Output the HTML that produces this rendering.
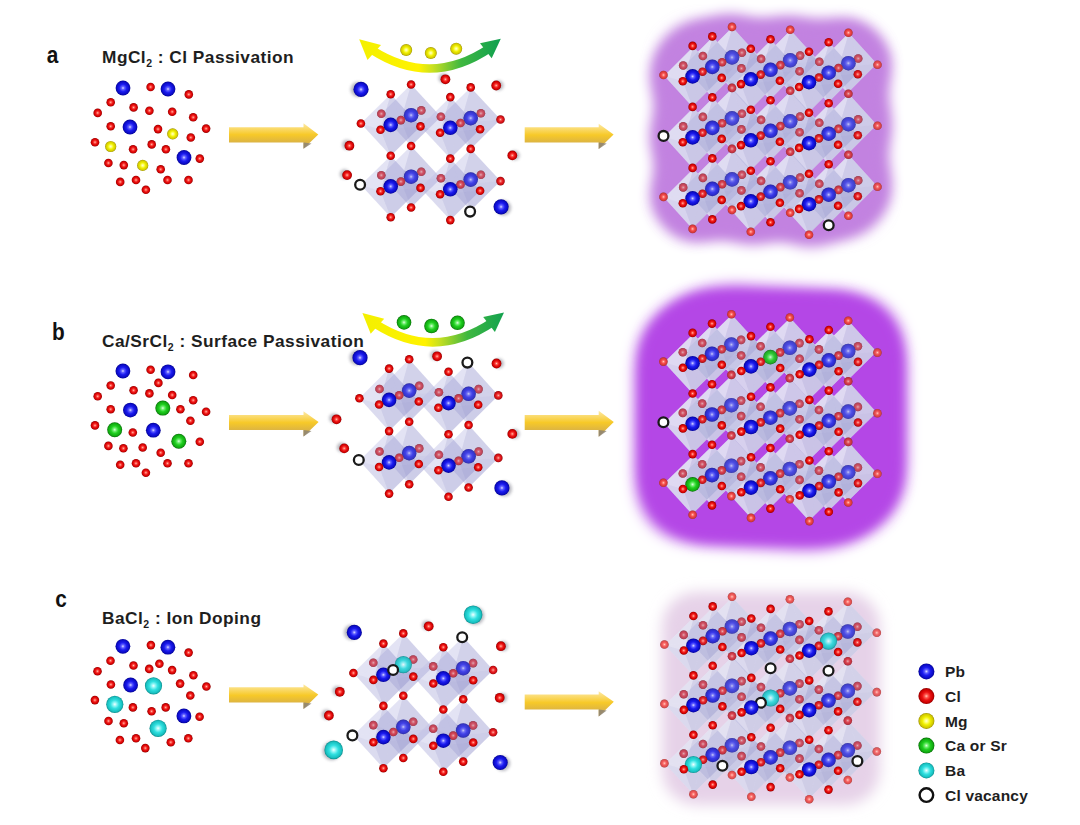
<!DOCTYPE html>
<html><head><meta charset="utf-8"><style>
html,body{margin:0;padding:0;background:#fff;width:1080px;height:825px;overflow:hidden}
svg{display:block}
</style></head><body>
<svg width="1080" height="825" viewBox="0 0 1080 825">
<defs><radialGradient id="gPb" cx="50%" cy="50%" r="50%"><stop offset="0" stop-color="#dcdcff"/><stop offset="0.22" stop-color="#6060ff"/><stop offset="0.5" stop-color="#1c1cf0"/><stop offset="0.85" stop-color="#0a0ac4"/><stop offset="1" stop-color="#040490"/></radialGradient><radialGradient id="gCl" cx="50%" cy="50%" r="50%"><stop offset="0" stop-color="#ffc8b8"/><stop offset="0.22" stop-color="#ff5a50"/><stop offset="0.5" stop-color="#ec1414"/><stop offset="0.82" stop-color="#cc0000"/><stop offset="1" stop-color="#8e0000"/></radialGradient><radialGradient id="gMg" cx="50%" cy="50%" r="50%"><stop offset="0" stop-color="#ffffd8"/><stop offset="0.22" stop-color="#ffff70"/><stop offset="0.5" stop-color="#f0f000"/><stop offset="0.85" stop-color="#d0c800"/><stop offset="1" stop-color="#988c00"/></radialGradient><radialGradient id="gCa" cx="50%" cy="50%" r="50%"><stop offset="0" stop-color="#e0ffe0"/><stop offset="0.22" stop-color="#70ee70"/><stop offset="0.5" stop-color="#20d020"/><stop offset="0.85" stop-color="#10a810"/><stop offset="1" stop-color="#066806"/></radialGradient><radialGradient id="gBa" cx="50%" cy="50%" r="50%"><stop offset="0" stop-color="#f4ffff"/><stop offset="0.22" stop-color="#90f6f6"/><stop offset="0.5" stop-color="#30e0e0"/><stop offset="0.85" stop-color="#18c0c0"/><stop offset="1" stop-color="#0c8c8c"/></radialGradient><linearGradient id="gArr" x1="0" y1="0" x2="0" y2="1"><stop offset="0" stop-color="#fde9a6"/><stop offset="0.45" stop-color="#f7c928"/><stop offset="1" stop-color="#c6a25a"/></linearGradient><linearGradient id="gCA" gradientUnits="userSpaceOnUse" x1="360.0" y1="0" x2="500.0" y2="0"><stop offset="0" stop-color="#f4f000"/><stop offset="0.42" stop-color="#fff200"/><stop offset="0.52" stop-color="#c8e020"/><stop offset="0.72" stop-color="#40b840"/><stop offset="1" stop-color="#10a050"/></linearGradient><linearGradient id="gCB" gradientUnits="userSpaceOnUse" x1="363.2" y1="0" x2="503.2" y2="0"><stop offset="0" stop-color="#f4f000"/><stop offset="0.42" stop-color="#fff200"/><stop offset="0.52" stop-color="#c8e020"/><stop offset="0.72" stop-color="#40b840"/><stop offset="1" stop-color="#10a050"/></linearGradient><filter id="blur2" x="-50%" y="-50%" width="200%" height="200%"><feGaussianBlur stdDeviation="1.5"/></filter><filter id="blobf" x="-20%" y="-20%" width="140%" height="140%"><feGaussianBlur stdDeviation="7"/></filter><filter id="rb10" x="-30%" y="-30%" width="160%" height="160%"><feGaussianBlur stdDeviation="7"/></filter><filter id="bf11" x="-40%" y="-40%" width="180%" height="180%" color-interpolation-filters="sRGB"><feGaussianBlur in="SourceAlpha" stdDeviation="14" result="b1"/><feComponentTransfer in="b1" result="t"><feFuncA type="linear" slope="20.0" intercept="-1.000"/></feComponentTransfer><feGaussianBlur in="t" stdDeviation="7" result="b2"/><feFlood flood-color="#c282e0"/><feComposite in2="b2" operator="in"/></filter><filter id="rb12" x="-30%" y="-30%" width="160%" height="160%"><feGaussianBlur stdDeviation="7"/></filter><filter id="bf13" x="-40%" y="-40%" width="180%" height="180%" color-interpolation-filters="sRGB"><feGaussianBlur in="SourceAlpha" stdDeviation="26" result="b1"/><feComponentTransfer in="b1" result="t"><feFuncA type="linear" slope="28.57142857142857" intercept="-1.000"/></feComponentTransfer><feGaussianBlur in="t" stdDeviation="7" result="b2"/><feFlood flood-color="#b447e6"/><feComposite in2="b2" operator="in"/></filter><filter id="rb14" x="-30%" y="-30%" width="160%" height="160%"><feGaussianBlur stdDeviation="7"/></filter></defs>
<rect width="1080" height="825" fill="#fff"/>
<text transform="translate(46.8,62.6) scale(1.04,1.19)" x="0" y="0" font-family='"Liberation Sans", sans-serif' font-size="20" font-weight="bold" fill="#111">a</text>
<text transform="translate(52.1,339.7) scale(1.04,1.19)" x="0" y="0" font-family='"Liberation Sans", sans-serif' font-size="20" font-weight="bold" fill="#111">b</text>
<text transform="translate(55.3,606.6) scale(1.04,1.19)" x="0" y="0" font-family='"Liberation Sans", sans-serif' font-size="20" font-weight="bold" fill="#111">c</text>
<text x="102.0" y="63.3" font-family='"Liberation Sans", sans-serif' font-size="17.3" font-weight="bold" fill="#1e1e1e" letter-spacing="0.48">MgCl<tspan font-size="10.5" dy="4">2</tspan><tspan dy="-4"> : Cl Passivation</tspan></text>
<text x="102.0" y="347.3" font-family='"Liberation Sans", sans-serif' font-size="17.3" font-weight="bold" fill="#1e1e1e" letter-spacing="0.48">Ca/SrCl<tspan font-size="10.5" dy="4">2</tspan><tspan dy="-4"> : Surface Passivation</tspan></text>
<text x="102.0" y="623.5" font-family='"Liberation Sans", sans-serif' font-size="17.3" font-weight="bold" fill="#1e1e1e" letter-spacing="0.48">BaCl<tspan font-size="10.5" dy="4">2</tspan><tspan dy="-4"> : Ion Doping</tspan></text>
<circle cx="123.0" cy="88.0" r="7.4" fill="url(#gPb)"/>
<circle cx="168.0" cy="89.0" r="7.4" fill="url(#gPb)"/>
<circle cx="130.0" cy="127.0" r="7.4" fill="url(#gPb)"/>
<circle cx="184.0" cy="157.5" r="7.4" fill="url(#gPb)"/>
<circle cx="172.7" cy="133.9" r="5.6" fill="url(#gMg)"/>
<circle cx="110.7" cy="146.5" r="5.6" fill="url(#gMg)"/>
<circle cx="142.7" cy="165.4" r="5.6" fill="url(#gMg)"/>
<circle cx="150.6" cy="87.0" r="4.3" fill="url(#gCl)"/>
<circle cx="188.8" cy="94.4" r="4.3" fill="url(#gCl)"/>
<circle cx="110.7" cy="102.3" r="4.3" fill="url(#gCl)"/>
<circle cx="133.6" cy="107.4" r="4.3" fill="url(#gCl)"/>
<circle cx="149.4" cy="110.7" r="4.3" fill="url(#gCl)"/>
<circle cx="172.2" cy="111.8" r="4.3" fill="url(#gCl)"/>
<circle cx="97.7" cy="112.9" r="4.3" fill="url(#gCl)"/>
<circle cx="193.2" cy="117.3" r="4.3" fill="url(#gCl)"/>
<circle cx="110.7" cy="126.3" r="4.3" fill="url(#gCl)"/>
<circle cx="158.0" cy="129.1" r="4.3" fill="url(#gCl)"/>
<circle cx="206.1" cy="128.6" r="4.3" fill="url(#gCl)"/>
<circle cx="190.8" cy="137.5" r="4.3" fill="url(#gCl)"/>
<circle cx="95.0" cy="142.2" r="4.3" fill="url(#gCl)"/>
<circle cx="151.7" cy="144.4" r="4.3" fill="url(#gCl)"/>
<circle cx="133.1" cy="149.3" r="4.3" fill="url(#gCl)"/>
<circle cx="165.9" cy="149.3" r="4.3" fill="url(#gCl)"/>
<circle cx="199.8" cy="158.6" r="4.3" fill="url(#gCl)"/>
<circle cx="108.4" cy="163.0" r="4.3" fill="url(#gCl)"/>
<circle cx="123.8" cy="165.1" r="4.3" fill="url(#gCl)"/>
<circle cx="160.7" cy="169.3" r="4.3" fill="url(#gCl)"/>
<circle cx="120.2" cy="181.9" r="4.3" fill="url(#gCl)"/>
<circle cx="136.0" cy="180.0" r="4.3" fill="url(#gCl)"/>
<circle cx="167.5" cy="180.0" r="4.3" fill="url(#gCl)"/>
<circle cx="188.5" cy="180.0" r="4.3" fill="url(#gCl)"/>
<circle cx="145.9" cy="189.8" r="4.3" fill="url(#gCl)"/>
<circle cx="122.9" cy="371.0" r="7.4" fill="url(#gPb)"/>
<circle cx="168.0" cy="371.8" r="7.4" fill="url(#gPb)"/>
<circle cx="130.4" cy="410.1" r="7.4" fill="url(#gPb)"/>
<circle cx="153.3" cy="430.2" r="7.4" fill="url(#gPb)"/>
<circle cx="162.8" cy="408.1" r="7.5" fill="url(#gCa)"/>
<circle cx="114.7" cy="429.7" r="7.5" fill="url(#gCa)"/>
<circle cx="178.8" cy="441.2" r="7.5" fill="url(#gCa)"/>
<circle cx="150.6" cy="369.8" r="4.3" fill="url(#gCl)"/>
<circle cx="193.2" cy="375.0" r="4.3" fill="url(#gCl)"/>
<circle cx="110.7" cy="385.5" r="4.3" fill="url(#gCl)"/>
<circle cx="158.4" cy="382.9" r="4.3" fill="url(#gCl)"/>
<circle cx="133.6" cy="390.3" r="4.3" fill="url(#gCl)"/>
<circle cx="149.4" cy="393.4" r="4.3" fill="url(#gCl)"/>
<circle cx="172.2" cy="395.0" r="4.3" fill="url(#gCl)"/>
<circle cx="97.7" cy="396.3" r="4.3" fill="url(#gCl)"/>
<circle cx="193.2" cy="400.2" r="4.3" fill="url(#gCl)"/>
<circle cx="110.7" cy="409.2" r="4.3" fill="url(#gCl)"/>
<circle cx="180.4" cy="409.2" r="4.3" fill="url(#gCl)"/>
<circle cx="206.1" cy="411.7" r="4.3" fill="url(#gCl)"/>
<circle cx="190.4" cy="420.7" r="4.3" fill="url(#gCl)"/>
<circle cx="95.0" cy="425.4" r="4.3" fill="url(#gCl)"/>
<circle cx="132.8" cy="432.5" r="4.3" fill="url(#gCl)"/>
<circle cx="199.8" cy="441.7" r="4.3" fill="url(#gCl)"/>
<circle cx="108.4" cy="445.9" r="4.3" fill="url(#gCl)"/>
<circle cx="123.4" cy="448.3" r="4.3" fill="url(#gCl)"/>
<circle cx="142.7" cy="447.5" r="4.3" fill="url(#gCl)"/>
<circle cx="160.7" cy="452.7" r="4.3" fill="url(#gCl)"/>
<circle cx="120.2" cy="464.8" r="4.3" fill="url(#gCl)"/>
<circle cx="136.0" cy="463.3" r="4.3" fill="url(#gCl)"/>
<circle cx="167.5" cy="463.3" r="4.3" fill="url(#gCl)"/>
<circle cx="188.5" cy="463.3" r="4.3" fill="url(#gCl)"/>
<circle cx="145.9" cy="472.7" r="4.3" fill="url(#gCl)"/>
<circle cx="122.9" cy="646.3" r="7.4" fill="url(#gPb)"/>
<circle cx="167.9" cy="647.2" r="7.4" fill="url(#gPb)"/>
<circle cx="130.6" cy="685.0" r="7.4" fill="url(#gPb)"/>
<circle cx="183.9" cy="715.9" r="7.4" fill="url(#gPb)"/>
<circle cx="153.5" cy="685.8" r="8.6" fill="url(#gBa)"/>
<circle cx="114.8" cy="704.3" r="8.6" fill="url(#gBa)"/>
<circle cx="158.1" cy="728.3" r="8.6" fill="url(#gBa)"/>
<circle cx="150.9" cy="645.1" r="4.3" fill="url(#gCl)"/>
<circle cx="188.6" cy="652.6" r="4.3" fill="url(#gCl)"/>
<circle cx="110.5" cy="660.7" r="4.3" fill="url(#gCl)"/>
<circle cx="133.5" cy="665.5" r="4.3" fill="url(#gCl)"/>
<circle cx="159.4" cy="663.8" r="4.3" fill="url(#gCl)"/>
<circle cx="149.2" cy="668.9" r="4.3" fill="url(#gCl)"/>
<circle cx="172.1" cy="670.1" r="4.3" fill="url(#gCl)"/>
<circle cx="97.5" cy="671.2" r="4.3" fill="url(#gCl)"/>
<circle cx="193.4" cy="675.2" r="4.3" fill="url(#gCl)"/>
<circle cx="110.9" cy="684.5" r="4.3" fill="url(#gCl)"/>
<circle cx="180.1" cy="683.6" r="4.3" fill="url(#gCl)"/>
<circle cx="206.4" cy="686.5" r="4.3" fill="url(#gCl)"/>
<circle cx="190.3" cy="695.5" r="4.3" fill="url(#gCl)"/>
<circle cx="94.9" cy="700.1" r="4.3" fill="url(#gCl)"/>
<circle cx="132.9" cy="707.4" r="4.3" fill="url(#gCl)"/>
<circle cx="151.6" cy="711.3" r="4.3" fill="url(#gCl)"/>
<circle cx="165.7" cy="707.4" r="4.3" fill="url(#gCl)"/>
<circle cx="199.6" cy="716.7" r="4.3" fill="url(#gCl)"/>
<circle cx="108.5" cy="721.0" r="4.3" fill="url(#gCl)"/>
<circle cx="123.8" cy="723.2" r="4.3" fill="url(#gCl)"/>
<circle cx="119.9" cy="740.0" r="4.3" fill="url(#gCl)"/>
<circle cx="136.0" cy="738.3" r="4.3" fill="url(#gCl)"/>
<circle cx="170.8" cy="742.2" r="4.3" fill="url(#gCl)"/>
<circle cx="188.3" cy="738.3" r="4.3" fill="url(#gCl)"/>
<circle cx="145.3" cy="748.1" r="4.3" fill="url(#gCl)"/>
<polygon points="229.0,127.3 303.5,127.3 303.5,123.2 318.3,134.4 303.5,148.7 303.5,142.4 229.0,142.4" fill="url(#gArr)"/><polygon points="303.5,142.4 303.5,148.7 311.5,143.4" fill="#8d8473" opacity="0.85"/>
<polygon points="524.7,127.3 598.7,127.3 598.7,123.7 613.6,134.4 598.7,148.9 598.7,142.4 524.7,142.4" fill="url(#gArr)"/><polygon points="598.7,142.4 598.7,148.9 606.7,143.4" fill="#8d8473" opacity="0.85"/>
<polygon points="229.0,414.9 303.5,414.9 303.5,411.3 318.6,422.0 303.5,436.6 303.5,430.1 229.0,430.1" fill="url(#gArr)"/><polygon points="303.5,430.1 303.5,436.6 311.5,431.1" fill="#8d8473" opacity="0.85"/>
<polygon points="524.7,414.9 598.7,414.9 598.7,410.8 613.8,422.0 598.7,436.8 598.7,430.1 524.7,430.1" fill="url(#gArr)"/><polygon points="598.7,430.1 598.7,436.8 606.7,431.1" fill="#8d8473" opacity="0.85"/>
<polygon points="229.0,687.3 303.5,687.3 303.5,684.3 318.3,694.6 303.5,708.9 303.5,702.4 229.0,702.4" fill="url(#gArr)"/><polygon points="303.5,702.4 303.5,708.9 311.5,703.4" fill="#8d8473" opacity="0.85"/>
<polygon points="524.7,694.4 598.7,694.4 598.7,691.3 613.8,701.7 598.7,716.6 598.7,709.6 524.7,709.6" fill="url(#gArr)"/><polygon points="598.7,709.6 598.7,716.6 606.7,710.6" fill="#8d8473" opacity="0.85"/>
<g transform="translate(0.0,0.0)"><path d="M 372 50 Q 431 88 490 48" fill="none" stroke="url(#gCA)" stroke-width="8.5"/><polygon points="359.2,39.2 381,45 367.5,60" fill="url(#gCA)"/><polygon points="500.8,38.7 480,43.3 491.7,58.3" fill="url(#gCA)"/></g>
<circle cx="406.2" cy="50.0" r="6.0" fill="url(#gMg)"/>
<circle cx="430.8" cy="53.0" r="6.0" fill="url(#gMg)"/>
<circle cx="456.2" cy="48.7" r="6.0" fill="url(#gMg)"/>
<g transform="translate(3.2,273.8)"><path d="M 372 50 Q 431 88 490 48" fill="none" stroke="url(#gCB)" stroke-width="8.5"/><polygon points="359.2,39.2 381,45 367.5,60" fill="url(#gCB)"/><polygon points="500.8,38.7 480,43.3 491.7,58.3" fill="url(#gCB)"/></g>
<circle cx="404.0" cy="322.4" r="7.3" fill="url(#gCa)"/>
<circle cx="431.5" cy="326.0" r="7.3" fill="url(#gCa)"/>
<circle cx="457.5" cy="322.8" r="7.3" fill="url(#gCa)"/>
<rect x="655" y="20" width="233" height="218" rx="48" fill="#c282e0" filter="url(#rb10)"/>
<g opacity="1.0" filter="url(#bf11)"><polygon points="692.6,45.9 721.7,77.9 692.6,106.9 663.5,75.0"/><polygon points="750.8,48.8 779.9,80.8 750.8,109.8 721.7,77.9"/><polygon points="809.0,51.7 838.1,83.7 809.0,112.7 779.9,80.8"/><polygon points="692.6,106.9 721.7,138.9 692.6,167.9 663.5,135.9"/><polygon points="750.8,109.8 779.9,141.8 750.8,170.8 721.7,138.9"/><polygon points="809.0,112.7 838.1,144.7 809.0,173.7 779.9,141.8"/><polygon points="692.6,167.9 721.7,199.9 692.6,228.9 663.5,196.9"/><polygon points="750.8,170.8 779.9,202.8 750.8,231.8 721.7,199.9"/><polygon points="809.0,173.7 838.1,205.7 809.0,234.7 779.9,202.8"/><polygon points="712.3,36.4 741.4,68.4 712.3,97.4 683.2,65.5"/><polygon points="770.5,39.3 799.6,71.2 770.5,100.3 741.4,68.4"/><polygon points="828.7,42.2 857.8,74.2 828.7,103.2 799.6,71.2"/><polygon points="712.3,97.4 741.4,129.4 712.3,158.4 683.2,126.4"/><polygon points="770.5,100.3 799.6,132.2 770.5,161.3 741.4,129.4"/><polygon points="828.7,103.2 857.8,135.2 828.7,164.2 799.6,132.2"/><polygon points="712.3,158.4 741.4,190.4 712.3,219.4 683.2,187.4"/><polygon points="770.5,161.3 799.6,193.2 770.5,222.3 741.4,190.4"/><polygon points="828.7,164.2 857.8,196.2 828.7,225.2 799.6,193.2"/><polygon points="732.0,26.9 761.1,58.9 732.0,87.9 702.9,56.0"/><polygon points="790.2,29.8 819.3,61.8 790.2,90.8 761.1,58.9"/><polygon points="848.4,32.7 877.5,64.7 848.4,93.7 819.3,61.8"/><polygon points="732.0,87.9 761.1,119.9 732.0,148.9 702.9,116.9"/><polygon points="790.2,90.8 819.3,122.8 790.2,151.8 761.1,119.9"/><polygon points="848.4,93.7 877.5,125.7 848.4,154.7 819.3,122.8"/><polygon points="732.0,148.9 761.1,180.9 732.0,209.9 702.9,177.9"/><polygon points="790.2,151.8 819.3,183.8 790.2,212.8 761.1,180.9"/><polygon points="848.4,154.7 877.5,186.7 848.4,215.7 819.3,183.8"/></g>
<rect x="642" y="294" width="260" height="246" rx="70" fill="#b447e6" filter="url(#rb12)"/>
<g opacity="1.0" filter="url(#bf13)"><polygon points="692.6,332.9 721.8,364.8 692.6,393.5 663.4,361.6"/><polygon points="751.0,336.1 780.2,368.0 751.0,396.7 721.8,364.8"/><polygon points="809.4,339.3 838.6,371.2 809.4,399.9 780.2,368.0"/><polygon points="692.6,393.5 721.8,425.4 692.6,454.1 663.4,422.2"/><polygon points="751.0,396.7 780.2,428.6 751.0,457.3 721.8,425.4"/><polygon points="809.4,399.9 838.6,431.8 809.4,460.5 780.2,428.6"/><polygon points="692.6,454.1 721.8,486.0 692.6,514.7 663.4,482.8"/><polygon points="751.0,457.3 780.2,489.2 751.0,517.9 721.8,486.0"/><polygon points="809.4,460.5 838.6,492.4 809.4,521.1 780.2,489.2"/><polygon points="712.0,323.6 741.2,355.5 712.0,384.2 682.8,352.3"/><polygon points="770.4,326.8 799.6,358.7 770.4,387.4 741.2,355.5"/><polygon points="828.8,330.0 858.0,361.9 828.8,390.6 799.6,358.7"/><polygon points="712.0,384.2 741.2,416.1 712.0,444.8 682.8,412.9"/><polygon points="770.4,387.4 799.6,419.3 770.4,448.0 741.2,416.1"/><polygon points="828.8,390.6 858.0,422.5 828.8,451.2 799.6,419.3"/><polygon points="712.0,444.8 741.2,476.7 712.0,505.4 682.8,473.5"/><polygon points="770.4,448.0 799.6,479.9 770.4,508.6 741.2,476.7"/><polygon points="828.8,451.2 858.0,483.1 828.8,511.8 799.6,479.9"/><polygon points="731.4,314.3 760.6,346.2 731.4,374.9 702.2,343.0"/><polygon points="789.8,317.5 819.0,349.4 789.8,378.1 760.6,346.2"/><polygon points="848.2,320.7 877.4,352.6 848.2,381.3 819.0,349.4"/><polygon points="731.4,374.9 760.6,406.8 731.4,435.5 702.2,403.6"/><polygon points="789.8,378.1 819.0,410.0 789.8,438.7 760.6,406.8"/><polygon points="848.2,381.3 877.4,413.2 848.2,441.9 819.0,410.0"/><polygon points="731.4,435.5 760.6,467.4 731.4,496.1 702.2,464.2"/><polygon points="789.8,438.7 819.0,470.6 789.8,499.3 760.6,467.4"/><polygon points="848.2,441.9 877.4,473.8 848.2,502.5 819.0,470.6"/></g>
<rect x="662" y="592" width="218" height="213" rx="35" fill="#e6d2e8" filter="url(#rb14)"/>
<g fill="#fff" fill-opacity="0.9"><polygon points="693.4,46.7 721.3,77.4 692.2,106.5 664.3,75.8"/><polygon points="751.6,49.6 779.5,80.3 750.4,109.4 722.5,78.7"/><polygon points="809.8,52.5 837.7,83.2 808.6,112.3 780.7,81.6"/><polygon points="693.4,107.7 721.3,138.4 692.2,167.5 664.3,136.8"/><polygon points="751.6,110.6 779.5,141.3 750.4,170.4 722.5,139.7"/><polygon points="809.8,113.5 837.7,144.2 808.6,173.3 780.7,142.6"/><polygon points="693.4,168.7 721.3,199.4 692.2,228.5 664.3,197.8"/><polygon points="751.6,171.6 779.5,202.3 750.4,231.4 722.5,200.7"/><polygon points="809.8,174.5 837.7,205.2 808.6,234.3 780.7,203.6"/><polygon points="712.9,37.0 740.8,67.7 711.7,96.8 683.8,66.1"/><polygon points="771.1,39.9 799.0,70.6 769.9,99.7 742.0,69.0"/><polygon points="829.3,42.8 857.2,73.5 828.1,102.6 800.2,71.9"/><polygon points="712.9,98.0 740.8,128.7 711.7,157.8 683.8,127.1"/><polygon points="771.1,100.9 799.0,131.6 769.9,160.7 742.0,130.0"/><polygon points="829.3,103.8 857.2,134.5 828.1,163.6 800.2,132.9"/><polygon points="712.9,159.0 740.8,189.7 711.7,218.8 683.8,188.1"/><polygon points="771.1,161.9 799.0,192.6 769.9,221.7 742.0,191.0"/><polygon points="829.3,164.8 857.2,195.5 828.1,224.6 800.2,193.9"/><polygon points="732.4,27.3 760.3,58.0 731.2,87.1 703.3,56.4"/><polygon points="790.6,30.2 818.5,60.9 789.4,90.0 761.5,59.3"/><polygon points="848.8,33.1 876.7,63.8 847.6,92.9 819.7,62.2"/><polygon points="732.4,88.3 760.3,119.0 731.2,148.1 703.3,117.4"/><polygon points="790.6,91.2 818.5,121.9 789.4,151.0 761.5,120.3"/><polygon points="848.8,94.1 876.7,124.8 847.6,153.9 819.7,123.2"/><polygon points="732.4,149.3 760.3,180.0 731.2,209.1 703.3,178.4"/><polygon points="790.6,152.2 818.5,182.9 789.4,212.0 761.5,181.3"/><polygon points="848.8,155.1 876.7,185.8 847.6,214.9 819.7,184.2"/></g><g><polygon fill="#9c9cd2" fill-opacity="0.252" points="703.3,56.4 732.4,27.3 741.6,52.3"/><polygon fill="#9c9cd2" fill-opacity="0.252" points="703.3,56.4 731.2,87.1 741.6,52.3"/><polygon fill="#9c9cd2" fill-opacity="0.252" points="760.3,58.0 732.4,27.3 741.6,52.3"/><polygon fill="#9c9cd2" fill-opacity="0.252" points="760.3,58.0 731.2,87.1 741.6,52.3"/><polygon fill="#dcdcf2" fill-opacity="0.252" points="703.3,56.4 732.4,27.3 722.1,62.0"/><polygon fill="#b8b8e0" fill-opacity="0.224" points="703.3,56.4 731.2,87.1 722.1,62.0"/><polygon fill="#9494cc" fill-opacity="0.238" points="760.3,58.0 732.4,27.3 722.1,62.0"/><polygon fill="#8c8cc8" fill-opacity="0.266" points="760.3,58.0 731.2,87.1 722.1,62.0"/><polygon fill="#9c9cd2" fill-opacity="0.252" points="761.5,59.3 790.6,30.2 799.8,55.2"/><polygon fill="#9c9cd2" fill-opacity="0.252" points="761.5,59.3 789.4,90.0 799.8,55.2"/><polygon fill="#9c9cd2" fill-opacity="0.252" points="818.5,60.9 790.6,30.2 799.8,55.2"/><polygon fill="#9c9cd2" fill-opacity="0.252" points="818.5,60.9 789.4,90.0 799.8,55.2"/><polygon fill="#dcdcf2" fill-opacity="0.252" points="761.5,59.3 790.6,30.2 780.3,64.9"/><polygon fill="#b8b8e0" fill-opacity="0.224" points="761.5,59.3 789.4,90.0 780.3,64.9"/><polygon fill="#9494cc" fill-opacity="0.238" points="818.5,60.9 790.6,30.2 780.3,64.9"/><polygon fill="#8c8cc8" fill-opacity="0.266" points="818.5,60.9 789.4,90.0 780.3,64.9"/><polygon fill="#9c9cd2" fill-opacity="0.252" points="819.7,62.2 848.8,33.1 858.0,58.1"/><polygon fill="#9c9cd2" fill-opacity="0.252" points="819.7,62.2 847.6,92.9 858.0,58.1"/><polygon fill="#9c9cd2" fill-opacity="0.252" points="876.7,63.8 848.8,33.1 858.0,58.1"/><polygon fill="#9c9cd2" fill-opacity="0.252" points="876.7,63.8 847.6,92.9 858.0,58.1"/><polygon fill="#dcdcf2" fill-opacity="0.252" points="819.7,62.2 848.8,33.1 838.5,67.8"/><polygon fill="#b8b8e0" fill-opacity="0.224" points="819.7,62.2 847.6,92.9 838.5,67.8"/><polygon fill="#9494cc" fill-opacity="0.238" points="876.7,63.8 848.8,33.1 838.5,67.8"/><polygon fill="#8c8cc8" fill-opacity="0.266" points="876.7,63.8 847.6,92.9 838.5,67.8"/><polygon fill="#9c9cd2" fill-opacity="0.252" points="703.3,117.4 732.4,88.3 741.6,113.3"/><polygon fill="#9c9cd2" fill-opacity="0.252" points="703.3,117.4 731.2,148.1 741.6,113.3"/><polygon fill="#9c9cd2" fill-opacity="0.252" points="760.3,119.0 732.4,88.3 741.6,113.3"/><polygon fill="#9c9cd2" fill-opacity="0.252" points="760.3,119.0 731.2,148.1 741.6,113.3"/><polygon fill="#dcdcf2" fill-opacity="0.252" points="703.3,117.4 732.4,88.3 722.1,123.0"/><polygon fill="#b8b8e0" fill-opacity="0.224" points="703.3,117.4 731.2,148.1 722.1,123.0"/><polygon fill="#9494cc" fill-opacity="0.238" points="760.3,119.0 732.4,88.3 722.1,123.0"/><polygon fill="#8c8cc8" fill-opacity="0.266" points="760.3,119.0 731.2,148.1 722.1,123.0"/><polygon fill="#9c9cd2" fill-opacity="0.252" points="761.5,120.3 790.6,91.2 799.8,116.2"/><polygon fill="#9c9cd2" fill-opacity="0.252" points="761.5,120.3 789.4,151.0 799.8,116.2"/><polygon fill="#9c9cd2" fill-opacity="0.252" points="818.5,121.9 790.6,91.2 799.8,116.2"/><polygon fill="#9c9cd2" fill-opacity="0.252" points="818.5,121.9 789.4,151.0 799.8,116.2"/><polygon fill="#dcdcf2" fill-opacity="0.252" points="761.5,120.3 790.6,91.2 780.3,125.9"/><polygon fill="#b8b8e0" fill-opacity="0.224" points="761.5,120.3 789.4,151.0 780.3,125.9"/><polygon fill="#9494cc" fill-opacity="0.238" points="818.5,121.9 790.6,91.2 780.3,125.9"/><polygon fill="#8c8cc8" fill-opacity="0.266" points="818.5,121.9 789.4,151.0 780.3,125.9"/><polygon fill="#9c9cd2" fill-opacity="0.252" points="819.7,123.2 848.8,94.1 858.0,119.1"/><polygon fill="#9c9cd2" fill-opacity="0.252" points="819.7,123.2 847.6,153.9 858.0,119.1"/><polygon fill="#9c9cd2" fill-opacity="0.252" points="876.7,124.8 848.8,94.1 858.0,119.1"/><polygon fill="#9c9cd2" fill-opacity="0.252" points="876.7,124.8 847.6,153.9 858.0,119.1"/><polygon fill="#dcdcf2" fill-opacity="0.252" points="819.7,123.2 848.8,94.1 838.5,128.8"/><polygon fill="#b8b8e0" fill-opacity="0.224" points="819.7,123.2 847.6,153.9 838.5,128.8"/><polygon fill="#9494cc" fill-opacity="0.238" points="876.7,124.8 848.8,94.1 838.5,128.8"/><polygon fill="#8c8cc8" fill-opacity="0.266" points="876.7,124.8 847.6,153.9 838.5,128.8"/><polygon fill="#9c9cd2" fill-opacity="0.252" points="703.3,178.4 732.4,149.3 741.6,174.3"/><polygon fill="#9c9cd2" fill-opacity="0.252" points="703.3,178.4 731.2,209.1 741.6,174.3"/><polygon fill="#9c9cd2" fill-opacity="0.252" points="760.3,180.0 732.4,149.3 741.6,174.3"/><polygon fill="#9c9cd2" fill-opacity="0.252" points="760.3,180.0 731.2,209.1 741.6,174.3"/><polygon fill="#dcdcf2" fill-opacity="0.252" points="703.3,178.4 732.4,149.3 722.1,184.0"/><polygon fill="#b8b8e0" fill-opacity="0.224" points="703.3,178.4 731.2,209.1 722.1,184.0"/><polygon fill="#9494cc" fill-opacity="0.238" points="760.3,180.0 732.4,149.3 722.1,184.0"/><polygon fill="#8c8cc8" fill-opacity="0.266" points="760.3,180.0 731.2,209.1 722.1,184.0"/><polygon fill="#9c9cd2" fill-opacity="0.252" points="761.5,181.3 790.6,152.2 799.8,177.2"/><polygon fill="#9c9cd2" fill-opacity="0.252" points="761.5,181.3 789.4,212.0 799.8,177.2"/><polygon fill="#9c9cd2" fill-opacity="0.252" points="818.5,182.9 790.6,152.2 799.8,177.2"/><polygon fill="#9c9cd2" fill-opacity="0.252" points="818.5,182.9 789.4,212.0 799.8,177.2"/><polygon fill="#dcdcf2" fill-opacity="0.252" points="761.5,181.3 790.6,152.2 780.3,186.9"/><polygon fill="#b8b8e0" fill-opacity="0.224" points="761.5,181.3 789.4,212.0 780.3,186.9"/><polygon fill="#9494cc" fill-opacity="0.238" points="818.5,182.9 790.6,152.2 780.3,186.9"/><polygon fill="#8c8cc8" fill-opacity="0.266" points="818.5,182.9 789.4,212.0 780.3,186.9"/><polygon fill="#9c9cd2" fill-opacity="0.252" points="819.7,184.2 848.8,155.1 858.0,180.1"/><polygon fill="#9c9cd2" fill-opacity="0.252" points="819.7,184.2 847.6,214.9 858.0,180.1"/><polygon fill="#9c9cd2" fill-opacity="0.252" points="876.7,185.8 848.8,155.1 858.0,180.1"/><polygon fill="#9c9cd2" fill-opacity="0.252" points="876.7,185.8 847.6,214.9 858.0,180.1"/><polygon fill="#dcdcf2" fill-opacity="0.252" points="819.7,184.2 848.8,155.1 838.5,189.8"/><polygon fill="#b8b8e0" fill-opacity="0.224" points="819.7,184.2 847.6,214.9 838.5,189.8"/><polygon fill="#9494cc" fill-opacity="0.238" points="876.7,185.8 848.8,155.1 838.5,189.8"/><polygon fill="#8c8cc8" fill-opacity="0.266" points="876.7,185.8 847.6,214.9 838.5,189.8"/><polygon fill="#9c9cd2" fill-opacity="0.252" points="683.8,66.1 712.9,37.0 722.1,62.0"/><polygon fill="#9c9cd2" fill-opacity="0.252" points="683.8,66.1 711.7,96.8 722.1,62.0"/><polygon fill="#9c9cd2" fill-opacity="0.252" points="740.8,67.7 712.9,37.0 722.1,62.0"/><polygon fill="#9c9cd2" fill-opacity="0.252" points="740.8,67.7 711.7,96.8 722.1,62.0"/><polygon fill="#dcdcf2" fill-opacity="0.252" points="683.8,66.1 712.9,37.0 702.5,71.8"/><polygon fill="#b8b8e0" fill-opacity="0.224" points="683.8,66.1 711.7,96.8 702.5,71.8"/><polygon fill="#9494cc" fill-opacity="0.238" points="740.8,67.7 712.9,37.0 702.5,71.8"/><polygon fill="#8c8cc8" fill-opacity="0.266" points="740.8,67.7 711.7,96.8 702.5,71.8"/><polygon fill="#9c9cd2" fill-opacity="0.252" points="742.0,69.0 771.1,39.9 780.3,64.9"/><polygon fill="#9c9cd2" fill-opacity="0.252" points="742.0,69.0 769.9,99.7 780.3,64.9"/><polygon fill="#9c9cd2" fill-opacity="0.252" points="799.0,70.6 771.1,39.9 780.3,64.9"/><polygon fill="#9c9cd2" fill-opacity="0.252" points="799.0,70.6 769.9,99.7 780.3,64.9"/><polygon fill="#dcdcf2" fill-opacity="0.252" points="742.0,69.0 771.1,39.9 760.7,74.7"/><polygon fill="#b8b8e0" fill-opacity="0.224" points="742.0,69.0 769.9,99.7 760.7,74.7"/><polygon fill="#9494cc" fill-opacity="0.238" points="799.0,70.6 771.1,39.9 760.7,74.7"/><polygon fill="#8c8cc8" fill-opacity="0.266" points="799.0,70.6 769.9,99.7 760.7,74.7"/><polygon fill="#9c9cd2" fill-opacity="0.252" points="800.2,71.9 829.3,42.8 838.5,67.8"/><polygon fill="#9c9cd2" fill-opacity="0.252" points="800.2,71.9 828.1,102.6 838.5,67.8"/><polygon fill="#9c9cd2" fill-opacity="0.252" points="857.2,73.5 829.3,42.8 838.5,67.8"/><polygon fill="#9c9cd2" fill-opacity="0.252" points="857.2,73.5 828.1,102.6 838.5,67.8"/><polygon fill="#dcdcf2" fill-opacity="0.252" points="800.2,71.9 829.3,42.8 818.9,77.6"/><polygon fill="#b8b8e0" fill-opacity="0.224" points="800.2,71.9 828.1,102.6 818.9,77.6"/><polygon fill="#9494cc" fill-opacity="0.238" points="857.2,73.5 829.3,42.8 818.9,77.6"/><polygon fill="#8c8cc8" fill-opacity="0.266" points="857.2,73.5 828.1,102.6 818.9,77.6"/><polygon fill="#9c9cd2" fill-opacity="0.252" points="683.8,127.1 712.9,98.0 722.1,123.0"/><polygon fill="#9c9cd2" fill-opacity="0.252" points="683.8,127.1 711.7,157.8 722.1,123.0"/><polygon fill="#9c9cd2" fill-opacity="0.252" points="740.8,128.7 712.9,98.0 722.1,123.0"/><polygon fill="#9c9cd2" fill-opacity="0.252" points="740.8,128.7 711.7,157.8 722.1,123.0"/><polygon fill="#dcdcf2" fill-opacity="0.252" points="683.8,127.1 712.9,98.0 702.5,132.8"/><polygon fill="#b8b8e0" fill-opacity="0.224" points="683.8,127.1 711.7,157.8 702.5,132.8"/><polygon fill="#9494cc" fill-opacity="0.238" points="740.8,128.7 712.9,98.0 702.5,132.8"/><polygon fill="#8c8cc8" fill-opacity="0.266" points="740.8,128.7 711.7,157.8 702.5,132.8"/><polygon fill="#9c9cd2" fill-opacity="0.252" points="742.0,130.0 771.1,100.9 780.3,125.9"/><polygon fill="#9c9cd2" fill-opacity="0.252" points="742.0,130.0 769.9,160.7 780.3,125.9"/><polygon fill="#9c9cd2" fill-opacity="0.252" points="799.0,131.6 771.1,100.9 780.3,125.9"/><polygon fill="#9c9cd2" fill-opacity="0.252" points="799.0,131.6 769.9,160.7 780.3,125.9"/><polygon fill="#dcdcf2" fill-opacity="0.252" points="742.0,130.0 771.1,100.9 760.7,135.7"/><polygon fill="#b8b8e0" fill-opacity="0.224" points="742.0,130.0 769.9,160.7 760.7,135.7"/><polygon fill="#9494cc" fill-opacity="0.238" points="799.0,131.6 771.1,100.9 760.7,135.7"/><polygon fill="#8c8cc8" fill-opacity="0.266" points="799.0,131.6 769.9,160.7 760.7,135.7"/><polygon fill="#9c9cd2" fill-opacity="0.252" points="800.2,132.9 829.3,103.8 838.5,128.8"/><polygon fill="#9c9cd2" fill-opacity="0.252" points="800.2,132.9 828.1,163.6 838.5,128.8"/><polygon fill="#9c9cd2" fill-opacity="0.252" points="857.2,134.5 829.3,103.8 838.5,128.8"/><polygon fill="#9c9cd2" fill-opacity="0.252" points="857.2,134.5 828.1,163.6 838.5,128.8"/><polygon fill="#dcdcf2" fill-opacity="0.252" points="800.2,132.9 829.3,103.8 818.9,138.6"/><polygon fill="#b8b8e0" fill-opacity="0.224" points="800.2,132.9 828.1,163.6 818.9,138.6"/><polygon fill="#9494cc" fill-opacity="0.238" points="857.2,134.5 829.3,103.8 818.9,138.6"/><polygon fill="#8c8cc8" fill-opacity="0.266" points="857.2,134.5 828.1,163.6 818.9,138.6"/><polygon fill="#9c9cd2" fill-opacity="0.252" points="683.8,188.1 712.9,159.0 722.1,184.0"/><polygon fill="#9c9cd2" fill-opacity="0.252" points="683.8,188.1 711.7,218.8 722.1,184.0"/><polygon fill="#9c9cd2" fill-opacity="0.252" points="740.8,189.7 712.9,159.0 722.1,184.0"/><polygon fill="#9c9cd2" fill-opacity="0.252" points="740.8,189.7 711.7,218.8 722.1,184.0"/><polygon fill="#dcdcf2" fill-opacity="0.252" points="683.8,188.1 712.9,159.0 702.5,193.8"/><polygon fill="#b8b8e0" fill-opacity="0.224" points="683.8,188.1 711.7,218.8 702.5,193.8"/><polygon fill="#9494cc" fill-opacity="0.238" points="740.8,189.7 712.9,159.0 702.5,193.8"/><polygon fill="#8c8cc8" fill-opacity="0.266" points="740.8,189.7 711.7,218.8 702.5,193.8"/><polygon fill="#9c9cd2" fill-opacity="0.252" points="742.0,191.0 771.1,161.9 780.3,186.9"/><polygon fill="#9c9cd2" fill-opacity="0.252" points="742.0,191.0 769.9,221.7 780.3,186.9"/><polygon fill="#9c9cd2" fill-opacity="0.252" points="799.0,192.6 771.1,161.9 780.3,186.9"/><polygon fill="#9c9cd2" fill-opacity="0.252" points="799.0,192.6 769.9,221.7 780.3,186.9"/><polygon fill="#dcdcf2" fill-opacity="0.252" points="742.0,191.0 771.1,161.9 760.7,196.7"/><polygon fill="#b8b8e0" fill-opacity="0.224" points="742.0,191.0 769.9,221.7 760.7,196.7"/><polygon fill="#9494cc" fill-opacity="0.238" points="799.0,192.6 771.1,161.9 760.7,196.7"/><polygon fill="#8c8cc8" fill-opacity="0.266" points="799.0,192.6 769.9,221.7 760.7,196.7"/><polygon fill="#9c9cd2" fill-opacity="0.252" points="800.2,193.9 829.3,164.8 838.5,189.8"/><polygon fill="#9c9cd2" fill-opacity="0.252" points="800.2,193.9 828.1,224.6 838.5,189.8"/><polygon fill="#9c9cd2" fill-opacity="0.252" points="857.2,195.5 829.3,164.8 838.5,189.8"/><polygon fill="#9c9cd2" fill-opacity="0.252" points="857.2,195.5 828.1,224.6 838.5,189.8"/><polygon fill="#dcdcf2" fill-opacity="0.252" points="800.2,193.9 829.3,164.8 818.9,199.6"/><polygon fill="#b8b8e0" fill-opacity="0.224" points="800.2,193.9 828.1,224.6 818.9,199.6"/><polygon fill="#9494cc" fill-opacity="0.238" points="857.2,195.5 829.3,164.8 818.9,199.6"/><polygon fill="#8c8cc8" fill-opacity="0.266" points="857.2,195.5 828.1,224.6 818.9,199.6"/><polygon fill="#9c9cd2" fill-opacity="0.252" points="664.3,75.8 693.4,46.7 702.5,71.8"/><polygon fill="#9c9cd2" fill-opacity="0.252" points="664.3,75.8 692.2,106.5 702.5,71.8"/><polygon fill="#9c9cd2" fill-opacity="0.252" points="721.3,77.4 693.4,46.7 702.5,71.8"/><polygon fill="#9c9cd2" fill-opacity="0.252" points="721.3,77.4 692.2,106.5 702.5,71.8"/><polygon fill="#dcdcf2" fill-opacity="0.252" points="664.3,75.8 693.4,46.7 683.0,81.5"/><polygon fill="#b8b8e0" fill-opacity="0.224" points="664.3,75.8 692.2,106.5 683.0,81.5"/><polygon fill="#9494cc" fill-opacity="0.238" points="721.3,77.4 693.4,46.7 683.0,81.5"/><polygon fill="#8c8cc8" fill-opacity="0.266" points="721.3,77.4 692.2,106.5 683.0,81.5"/><polygon fill="#9c9cd2" fill-opacity="0.252" points="722.5,78.7 751.6,49.6 760.7,74.7"/><polygon fill="#9c9cd2" fill-opacity="0.252" points="722.5,78.7 750.4,109.4 760.7,74.7"/><polygon fill="#9c9cd2" fill-opacity="0.252" points="779.5,80.3 751.6,49.6 760.7,74.7"/><polygon fill="#9c9cd2" fill-opacity="0.252" points="779.5,80.3 750.4,109.4 760.7,74.7"/><polygon fill="#dcdcf2" fill-opacity="0.252" points="722.5,78.7 751.6,49.6 741.2,84.4"/><polygon fill="#b8b8e0" fill-opacity="0.224" points="722.5,78.7 750.4,109.4 741.2,84.4"/><polygon fill="#9494cc" fill-opacity="0.238" points="779.5,80.3 751.6,49.6 741.2,84.4"/><polygon fill="#8c8cc8" fill-opacity="0.266" points="779.5,80.3 750.4,109.4 741.2,84.4"/><polygon fill="#9c9cd2" fill-opacity="0.252" points="780.7,81.6 809.8,52.5 818.9,77.6"/><polygon fill="#9c9cd2" fill-opacity="0.252" points="780.7,81.6 808.6,112.3 818.9,77.6"/><polygon fill="#9c9cd2" fill-opacity="0.252" points="837.7,83.2 809.8,52.5 818.9,77.6"/><polygon fill="#9c9cd2" fill-opacity="0.252" points="837.7,83.2 808.6,112.3 818.9,77.6"/><polygon fill="#dcdcf2" fill-opacity="0.252" points="780.7,81.6 809.8,52.5 799.4,87.3"/><polygon fill="#b8b8e0" fill-opacity="0.224" points="780.7,81.6 808.6,112.3 799.4,87.3"/><polygon fill="#9494cc" fill-opacity="0.238" points="837.7,83.2 809.8,52.5 799.4,87.3"/><polygon fill="#8c8cc8" fill-opacity="0.266" points="837.7,83.2 808.6,112.3 799.4,87.3"/><polygon fill="#9c9cd2" fill-opacity="0.252" points="664.3,136.8 693.4,107.7 702.5,132.8"/><polygon fill="#9c9cd2" fill-opacity="0.252" points="664.3,136.8 692.2,167.5 702.5,132.8"/><polygon fill="#9c9cd2" fill-opacity="0.252" points="721.3,138.4 693.4,107.7 702.5,132.8"/><polygon fill="#9c9cd2" fill-opacity="0.252" points="721.3,138.4 692.2,167.5 702.5,132.8"/><polygon fill="#dcdcf2" fill-opacity="0.252" points="664.3,136.8 693.4,107.7 683.0,142.5"/><polygon fill="#b8b8e0" fill-opacity="0.224" points="664.3,136.8 692.2,167.5 683.0,142.5"/><polygon fill="#9494cc" fill-opacity="0.238" points="721.3,138.4 693.4,107.7 683.0,142.5"/><polygon fill="#8c8cc8" fill-opacity="0.266" points="721.3,138.4 692.2,167.5 683.0,142.5"/><polygon fill="#9c9cd2" fill-opacity="0.252" points="722.5,139.7 751.6,110.6 760.7,135.7"/><polygon fill="#9c9cd2" fill-opacity="0.252" points="722.5,139.7 750.4,170.4 760.7,135.7"/><polygon fill="#9c9cd2" fill-opacity="0.252" points="779.5,141.3 751.6,110.6 760.7,135.7"/><polygon fill="#9c9cd2" fill-opacity="0.252" points="779.5,141.3 750.4,170.4 760.7,135.7"/><polygon fill="#dcdcf2" fill-opacity="0.252" points="722.5,139.7 751.6,110.6 741.2,145.4"/><polygon fill="#b8b8e0" fill-opacity="0.224" points="722.5,139.7 750.4,170.4 741.2,145.4"/><polygon fill="#9494cc" fill-opacity="0.238" points="779.5,141.3 751.6,110.6 741.2,145.4"/><polygon fill="#8c8cc8" fill-opacity="0.266" points="779.5,141.3 750.4,170.4 741.2,145.4"/><polygon fill="#9c9cd2" fill-opacity="0.252" points="780.7,142.6 809.8,113.5 818.9,138.6"/><polygon fill="#9c9cd2" fill-opacity="0.252" points="780.7,142.6 808.6,173.3 818.9,138.6"/><polygon fill="#9c9cd2" fill-opacity="0.252" points="837.7,144.2 809.8,113.5 818.9,138.6"/><polygon fill="#9c9cd2" fill-opacity="0.252" points="837.7,144.2 808.6,173.3 818.9,138.6"/><polygon fill="#dcdcf2" fill-opacity="0.252" points="780.7,142.6 809.8,113.5 799.4,148.3"/><polygon fill="#b8b8e0" fill-opacity="0.224" points="780.7,142.6 808.6,173.3 799.4,148.3"/><polygon fill="#9494cc" fill-opacity="0.238" points="837.7,144.2 809.8,113.5 799.4,148.3"/><polygon fill="#8c8cc8" fill-opacity="0.266" points="837.7,144.2 808.6,173.3 799.4,148.3"/><polygon fill="#9c9cd2" fill-opacity="0.252" points="664.3,197.8 693.4,168.7 702.5,193.8"/><polygon fill="#9c9cd2" fill-opacity="0.252" points="664.3,197.8 692.2,228.5 702.5,193.8"/><polygon fill="#9c9cd2" fill-opacity="0.252" points="721.3,199.4 693.4,168.7 702.5,193.8"/><polygon fill="#9c9cd2" fill-opacity="0.252" points="721.3,199.4 692.2,228.5 702.5,193.8"/><polygon fill="#dcdcf2" fill-opacity="0.252" points="664.3,197.8 693.4,168.7 683.0,203.5"/><polygon fill="#b8b8e0" fill-opacity="0.224" points="664.3,197.8 692.2,228.5 683.0,203.5"/><polygon fill="#9494cc" fill-opacity="0.238" points="721.3,199.4 693.4,168.7 683.0,203.5"/><polygon fill="#8c8cc8" fill-opacity="0.266" points="721.3,199.4 692.2,228.5 683.0,203.5"/><polygon fill="#9c9cd2" fill-opacity="0.252" points="722.5,200.7 751.6,171.6 760.7,196.7"/><polygon fill="#9c9cd2" fill-opacity="0.252" points="722.5,200.7 750.4,231.4 760.7,196.7"/><polygon fill="#9c9cd2" fill-opacity="0.252" points="779.5,202.3 751.6,171.6 760.7,196.7"/><polygon fill="#9c9cd2" fill-opacity="0.252" points="779.5,202.3 750.4,231.4 760.7,196.7"/><polygon fill="#dcdcf2" fill-opacity="0.252" points="722.5,200.7 751.6,171.6 741.2,206.4"/><polygon fill="#b8b8e0" fill-opacity="0.224" points="722.5,200.7 750.4,231.4 741.2,206.4"/><polygon fill="#9494cc" fill-opacity="0.238" points="779.5,202.3 751.6,171.6 741.2,206.4"/><polygon fill="#8c8cc8" fill-opacity="0.266" points="779.5,202.3 750.4,231.4 741.2,206.4"/><polygon fill="#9c9cd2" fill-opacity="0.252" points="780.7,203.6 809.8,174.5 818.9,199.6"/><polygon fill="#9c9cd2" fill-opacity="0.252" points="780.7,203.6 808.6,234.3 818.9,199.6"/><polygon fill="#9c9cd2" fill-opacity="0.252" points="837.7,205.2 809.8,174.5 818.9,199.6"/><polygon fill="#9c9cd2" fill-opacity="0.252" points="837.7,205.2 808.6,234.3 818.9,199.6"/><polygon fill="#dcdcf2" fill-opacity="0.252" points="780.7,203.6 809.8,174.5 799.4,209.3"/><polygon fill="#b8b8e0" fill-opacity="0.224" points="780.7,203.6 808.6,234.3 799.4,209.3"/><polygon fill="#9494cc" fill-opacity="0.238" points="837.7,205.2 809.8,174.5 799.4,209.3"/><polygon fill="#8c8cc8" fill-opacity="0.266" points="837.7,205.2 808.6,234.3 799.4,209.3"/></g><circle cx="741.9" cy="52.7" r="4.3" fill="url(#gCl)"/><circle cx="741.9" cy="52.7" r="4.3" fill="#a4a4d4" opacity="0.42"/><circle cx="800.1" cy="55.6" r="4.3" fill="url(#gCl)"/><circle cx="800.1" cy="55.6" r="4.3" fill="#a4a4d4" opacity="0.42"/><circle cx="858.2" cy="58.5" r="4.3" fill="url(#gCl)"/><circle cx="858.2" cy="58.5" r="4.3" fill="#a4a4d4" opacity="0.42"/><circle cx="741.9" cy="113.7" r="4.3" fill="url(#gCl)"/><circle cx="741.9" cy="113.7" r="4.3" fill="#a4a4d4" opacity="0.42"/><circle cx="800.1" cy="116.6" r="4.3" fill="url(#gCl)"/><circle cx="800.1" cy="116.6" r="4.3" fill="#a4a4d4" opacity="0.42"/><circle cx="858.2" cy="119.4" r="4.3" fill="url(#gCl)"/><circle cx="858.2" cy="119.4" r="4.3" fill="#a4a4d4" opacity="0.42"/><circle cx="741.9" cy="174.7" r="4.3" fill="url(#gCl)"/><circle cx="741.9" cy="174.7" r="4.3" fill="#a4a4d4" opacity="0.42"/><circle cx="800.1" cy="177.6" r="4.3" fill="url(#gCl)"/><circle cx="800.1" cy="177.6" r="4.3" fill="#a4a4d4" opacity="0.42"/><circle cx="858.2" cy="180.4" r="4.3" fill="url(#gCl)"/><circle cx="858.2" cy="180.4" r="4.3" fill="#a4a4d4" opacity="0.42"/><circle cx="732.0" cy="57.4" r="7.3" fill="url(#gPb)"/><circle cx="732.0" cy="57.4" r="7.3" fill="#a4a4d4" opacity="0.36"/><circle cx="761.1" cy="58.9" r="4.3" fill="url(#gCl)"/><circle cx="761.1" cy="58.9" r="4.3" fill="#a4a4d4" opacity="0.40"/><circle cx="702.9" cy="56.0" r="4.3" fill="url(#gCl)"/><circle cx="702.9" cy="56.0" r="4.3" fill="#a4a4d4" opacity="0.40"/><circle cx="732.0" cy="87.9" r="4.3" fill="url(#gCl)"/><circle cx="732.0" cy="87.9" r="4.3" fill="#a4a4d4" opacity="0.30"/><circle cx="732.0" cy="26.9" r="4.3" fill="url(#gCl)"/><circle cx="732.0" cy="26.9" r="4.3" fill="#fff" opacity="0.22"/><circle cx="790.2" cy="60.3" r="7.3" fill="url(#gPb)"/><circle cx="790.2" cy="60.3" r="7.3" fill="#a4a4d4" opacity="0.36"/><circle cx="819.3" cy="61.8" r="4.3" fill="url(#gCl)"/><circle cx="819.3" cy="61.8" r="4.3" fill="#a4a4d4" opacity="0.40"/><circle cx="790.2" cy="90.8" r="4.3" fill="url(#gCl)"/><circle cx="790.2" cy="90.8" r="4.3" fill="#a4a4d4" opacity="0.30"/><circle cx="790.2" cy="29.8" r="4.3" fill="url(#gCl)"/><circle cx="790.2" cy="29.8" r="4.3" fill="#fff" opacity="0.22"/><circle cx="848.4" cy="63.2" r="7.3" fill="url(#gPb)"/><circle cx="848.4" cy="63.2" r="7.3" fill="#a4a4d4" opacity="0.36"/><circle cx="877.5" cy="64.7" r="4.3" fill="url(#gCl)"/><circle cx="877.5" cy="64.7" r="4.3" fill="#a4a4d4" opacity="0.08"/><circle cx="877.5" cy="64.7" r="4.3" fill="#fff" opacity="0.22"/><circle cx="848.4" cy="93.7" r="4.3" fill="url(#gCl)"/><circle cx="848.4" cy="93.7" r="4.3" fill="#a4a4d4" opacity="0.30"/><circle cx="848.4" cy="32.7" r="4.3" fill="url(#gCl)"/><circle cx="848.4" cy="32.7" r="4.3" fill="#fff" opacity="0.22"/><circle cx="732.0" cy="118.4" r="7.3" fill="url(#gPb)"/><circle cx="732.0" cy="118.4" r="7.3" fill="#a4a4d4" opacity="0.36"/><circle cx="761.1" cy="119.9" r="4.3" fill="url(#gCl)"/><circle cx="761.1" cy="119.9" r="4.3" fill="#a4a4d4" opacity="0.40"/><circle cx="702.9" cy="116.9" r="4.3" fill="url(#gCl)"/><circle cx="702.9" cy="116.9" r="4.3" fill="#a4a4d4" opacity="0.40"/><circle cx="732.0" cy="148.9" r="4.3" fill="url(#gCl)"/><circle cx="732.0" cy="148.9" r="4.3" fill="#a4a4d4" opacity="0.30"/><circle cx="790.2" cy="121.3" r="7.3" fill="url(#gPb)"/><circle cx="790.2" cy="121.3" r="7.3" fill="#a4a4d4" opacity="0.36"/><circle cx="819.3" cy="122.8" r="4.3" fill="url(#gCl)"/><circle cx="819.3" cy="122.8" r="4.3" fill="#a4a4d4" opacity="0.40"/><circle cx="790.2" cy="151.8" r="4.3" fill="url(#gCl)"/><circle cx="790.2" cy="151.8" r="4.3" fill="#a4a4d4" opacity="0.30"/><circle cx="848.4" cy="124.2" r="7.3" fill="url(#gPb)"/><circle cx="848.4" cy="124.2" r="7.3" fill="#a4a4d4" opacity="0.36"/><circle cx="877.5" cy="125.7" r="4.3" fill="url(#gCl)"/><circle cx="877.5" cy="125.7" r="4.3" fill="#a4a4d4" opacity="0.08"/><circle cx="877.5" cy="125.7" r="4.3" fill="#fff" opacity="0.22"/><circle cx="848.4" cy="154.7" r="4.3" fill="url(#gCl)"/><circle cx="848.4" cy="154.7" r="4.3" fill="#a4a4d4" opacity="0.30"/><circle cx="732.0" cy="179.4" r="7.3" fill="url(#gPb)"/><circle cx="732.0" cy="179.4" r="7.3" fill="#a4a4d4" opacity="0.36"/><circle cx="761.1" cy="180.9" r="4.3" fill="url(#gCl)"/><circle cx="761.1" cy="180.9" r="4.3" fill="#a4a4d4" opacity="0.40"/><circle cx="702.9" cy="177.9" r="4.3" fill="url(#gCl)"/><circle cx="702.9" cy="177.9" r="4.3" fill="#a4a4d4" opacity="0.40"/><circle cx="732.0" cy="209.9" r="4.3" fill="url(#gCl)"/><circle cx="732.0" cy="209.9" r="4.3" fill="#fff" opacity="0.22"/><circle cx="790.2" cy="182.3" r="7.3" fill="url(#gPb)"/><circle cx="790.2" cy="182.3" r="7.3" fill="#a4a4d4" opacity="0.36"/><circle cx="819.3" cy="183.8" r="4.3" fill="url(#gCl)"/><circle cx="819.3" cy="183.8" r="4.3" fill="#a4a4d4" opacity="0.40"/><circle cx="790.2" cy="212.8" r="4.3" fill="url(#gCl)"/><circle cx="790.2" cy="212.8" r="4.3" fill="#fff" opacity="0.22"/><circle cx="848.4" cy="185.2" r="7.3" fill="url(#gPb)"/><circle cx="848.4" cy="185.2" r="7.3" fill="#a4a4d4" opacity="0.36"/><circle cx="877.5" cy="186.7" r="4.3" fill="url(#gCl)"/><circle cx="877.5" cy="186.7" r="4.3" fill="#a4a4d4" opacity="0.08"/><circle cx="877.5" cy="186.7" r="4.3" fill="#fff" opacity="0.22"/><circle cx="848.4" cy="215.7" r="4.3" fill="url(#gCl)"/><circle cx="848.4" cy="215.7" r="4.3" fill="#fff" opacity="0.22"/><circle cx="722.1" cy="62.2" r="4.3" fill="url(#gCl)"/><circle cx="722.1" cy="62.2" r="4.3" fill="#a4a4d4" opacity="0.30"/><circle cx="780.4" cy="65.1" r="4.3" fill="url(#gCl)"/><circle cx="780.4" cy="65.1" r="4.3" fill="#a4a4d4" opacity="0.30"/><circle cx="838.5" cy="68.0" r="4.3" fill="url(#gCl)"/><circle cx="838.5" cy="68.0" r="4.3" fill="#a4a4d4" opacity="0.30"/><circle cx="722.1" cy="123.2" r="4.3" fill="url(#gCl)"/><circle cx="722.1" cy="123.2" r="4.3" fill="#a4a4d4" opacity="0.30"/><circle cx="780.4" cy="126.1" r="4.3" fill="url(#gCl)"/><circle cx="780.4" cy="126.1" r="4.3" fill="#a4a4d4" opacity="0.30"/><circle cx="838.5" cy="128.9" r="4.3" fill="url(#gCl)"/><circle cx="838.5" cy="128.9" r="4.3" fill="#a4a4d4" opacity="0.30"/><circle cx="722.1" cy="184.2" r="4.3" fill="url(#gCl)"/><circle cx="722.1" cy="184.2" r="4.3" fill="#a4a4d4" opacity="0.30"/><circle cx="780.4" cy="187.1" r="4.3" fill="url(#gCl)"/><circle cx="780.4" cy="187.1" r="4.3" fill="#a4a4d4" opacity="0.30"/><circle cx="838.5" cy="189.9" r="4.3" fill="url(#gCl)"/><circle cx="838.5" cy="189.9" r="4.3" fill="#a4a4d4" opacity="0.30"/><circle cx="712.3" cy="66.9" r="7.3" fill="url(#gPb)"/><circle cx="712.3" cy="66.9" r="7.3" fill="#a4a4d4" opacity="0.22"/><circle cx="741.4" cy="68.4" r="4.3" fill="url(#gCl)"/><circle cx="741.4" cy="68.4" r="4.3" fill="#a4a4d4" opacity="0.40"/><circle cx="683.2" cy="65.5" r="4.3" fill="url(#gCl)"/><circle cx="683.2" cy="65.5" r="4.3" fill="#a4a4d4" opacity="0.40"/><circle cx="712.3" cy="97.4" r="4.3" fill="url(#gCl)"/><circle cx="712.3" cy="36.4" r="4.3" fill="url(#gCl)"/><circle cx="770.5" cy="69.8" r="7.3" fill="url(#gPb)"/><circle cx="770.5" cy="69.8" r="7.3" fill="#a4a4d4" opacity="0.22"/><circle cx="799.6" cy="71.2" r="4.3" fill="url(#gCl)"/><circle cx="799.6" cy="71.2" r="4.3" fill="#a4a4d4" opacity="0.40"/><circle cx="770.5" cy="100.3" r="4.3" fill="url(#gCl)"/><circle cx="770.5" cy="39.3" r="4.3" fill="url(#gCl)"/><circle cx="828.7" cy="72.7" r="7.3" fill="url(#gPb)"/><circle cx="828.7" cy="72.7" r="7.3" fill="#a4a4d4" opacity="0.22"/><circle cx="857.8" cy="74.2" r="4.3" fill="url(#gCl)"/><circle cx="857.8" cy="74.2" r="4.3" fill="#a4a4d4" opacity="0.08"/><circle cx="828.7" cy="103.2" r="4.3" fill="url(#gCl)"/><circle cx="828.7" cy="42.2" r="4.3" fill="url(#gCl)"/><circle cx="712.3" cy="127.9" r="7.3" fill="url(#gPb)"/><circle cx="712.3" cy="127.9" r="7.3" fill="#a4a4d4" opacity="0.22"/><circle cx="741.4" cy="129.4" r="4.3" fill="url(#gCl)"/><circle cx="741.4" cy="129.4" r="4.3" fill="#a4a4d4" opacity="0.40"/><circle cx="683.2" cy="126.4" r="4.3" fill="url(#gCl)"/><circle cx="683.2" cy="126.4" r="4.3" fill="#a4a4d4" opacity="0.40"/><circle cx="712.3" cy="158.4" r="4.3" fill="url(#gCl)"/><circle cx="770.5" cy="130.8" r="7.3" fill="url(#gPb)"/><circle cx="770.5" cy="130.8" r="7.3" fill="#a4a4d4" opacity="0.22"/><circle cx="799.6" cy="132.2" r="4.3" fill="url(#gCl)"/><circle cx="799.6" cy="132.2" r="4.3" fill="#a4a4d4" opacity="0.40"/><circle cx="770.5" cy="161.3" r="4.3" fill="url(#gCl)"/><circle cx="828.7" cy="133.7" r="7.3" fill="url(#gPb)"/><circle cx="828.7" cy="133.7" r="7.3" fill="#a4a4d4" opacity="0.22"/><circle cx="857.8" cy="135.2" r="4.3" fill="url(#gCl)"/><circle cx="857.8" cy="135.2" r="4.3" fill="#a4a4d4" opacity="0.08"/><circle cx="828.7" cy="164.2" r="4.3" fill="url(#gCl)"/><circle cx="712.3" cy="188.9" r="7.3" fill="url(#gPb)"/><circle cx="712.3" cy="188.9" r="7.3" fill="#a4a4d4" opacity="0.22"/><circle cx="741.4" cy="190.4" r="4.3" fill="url(#gCl)"/><circle cx="741.4" cy="190.4" r="4.3" fill="#a4a4d4" opacity="0.40"/><circle cx="683.2" cy="187.4" r="4.3" fill="url(#gCl)"/><circle cx="683.2" cy="187.4" r="4.3" fill="#a4a4d4" opacity="0.40"/><circle cx="712.3" cy="219.4" r="4.3" fill="url(#gCl)"/><circle cx="770.5" cy="191.8" r="7.3" fill="url(#gPb)"/><circle cx="770.5" cy="191.8" r="7.3" fill="#a4a4d4" opacity="0.22"/><circle cx="799.6" cy="193.2" r="4.3" fill="url(#gCl)"/><circle cx="799.6" cy="193.2" r="4.3" fill="#a4a4d4" opacity="0.40"/><circle cx="770.5" cy="222.3" r="4.3" fill="url(#gCl)"/><circle cx="828.7" cy="194.7" r="7.3" fill="url(#gPb)"/><circle cx="828.7" cy="194.7" r="7.3" fill="#a4a4d4" opacity="0.22"/><circle cx="857.8" cy="196.2" r="4.3" fill="url(#gCl)"/><circle cx="857.8" cy="196.2" r="4.3" fill="#a4a4d4" opacity="0.08"/><circle cx="828.7" cy="225.2" r="4.9" fill="#fff" stroke="#1a1a1a" stroke-width="2.3"/><circle cx="702.5" cy="71.7" r="4.3" fill="url(#gCl)"/><circle cx="702.5" cy="71.7" r="4.3" fill="#a4a4d4" opacity="0.12"/><circle cx="760.7" cy="74.6" r="4.3" fill="url(#gCl)"/><circle cx="760.7" cy="74.6" r="4.3" fill="#a4a4d4" opacity="0.12"/><circle cx="818.9" cy="77.5" r="4.3" fill="url(#gCl)"/><circle cx="818.9" cy="77.5" r="4.3" fill="#a4a4d4" opacity="0.12"/><circle cx="702.5" cy="132.7" r="4.3" fill="url(#gCl)"/><circle cx="702.5" cy="132.7" r="4.3" fill="#a4a4d4" opacity="0.12"/><circle cx="760.7" cy="135.6" r="4.3" fill="url(#gCl)"/><circle cx="760.7" cy="135.6" r="4.3" fill="#a4a4d4" opacity="0.12"/><circle cx="818.9" cy="138.4" r="4.3" fill="url(#gCl)"/><circle cx="818.9" cy="138.4" r="4.3" fill="#a4a4d4" opacity="0.12"/><circle cx="702.5" cy="193.7" r="4.3" fill="url(#gCl)"/><circle cx="702.5" cy="193.7" r="4.3" fill="#a4a4d4" opacity="0.12"/><circle cx="760.7" cy="196.6" r="4.3" fill="url(#gCl)"/><circle cx="760.7" cy="196.6" r="4.3" fill="#a4a4d4" opacity="0.12"/><circle cx="818.9" cy="199.4" r="4.3" fill="url(#gCl)"/><circle cx="818.9" cy="199.4" r="4.3" fill="#a4a4d4" opacity="0.12"/><circle cx="692.6" cy="76.4" r="7.3" fill="url(#gPb)"/><circle cx="721.7" cy="77.9" r="4.3" fill="url(#gCl)"/><circle cx="663.5" cy="75.0" r="4.3" fill="url(#gCl)"/><circle cx="663.5" cy="75.0" r="4.3" fill="#fff" opacity="0.22"/><circle cx="692.6" cy="106.9" r="4.3" fill="url(#gCl)"/><circle cx="692.6" cy="45.9" r="4.3" fill="url(#gCl)"/><circle cx="750.8" cy="79.3" r="7.3" fill="url(#gPb)"/><circle cx="779.9" cy="80.8" r="4.3" fill="url(#gCl)"/><circle cx="750.8" cy="109.8" r="4.3" fill="url(#gCl)"/><circle cx="750.8" cy="48.8" r="4.3" fill="url(#gCl)"/><circle cx="809.0" cy="82.2" r="7.3" fill="url(#gPb)"/><circle cx="838.1" cy="83.7" r="4.3" fill="url(#gCl)"/><circle cx="809.0" cy="112.7" r="4.3" fill="url(#gCl)"/><circle cx="809.0" cy="51.7" r="4.3" fill="url(#gCl)"/><circle cx="692.6" cy="137.4" r="7.3" fill="url(#gPb)"/><circle cx="721.7" cy="138.9" r="4.3" fill="url(#gCl)"/><circle cx="663.5" cy="135.9" r="4.9" fill="#fff" stroke="#1a1a1a" stroke-width="2.3"/><circle cx="692.6" cy="167.9" r="4.3" fill="url(#gCl)"/><circle cx="750.8" cy="140.3" r="7.3" fill="url(#gPb)"/><circle cx="779.9" cy="141.8" r="4.3" fill="url(#gCl)"/><circle cx="750.8" cy="170.8" r="4.3" fill="url(#gCl)"/><circle cx="809.0" cy="143.2" r="7.3" fill="url(#gPb)"/><circle cx="838.1" cy="144.7" r="4.3" fill="url(#gCl)"/><circle cx="809.0" cy="173.7" r="4.3" fill="url(#gCl)"/><circle cx="692.6" cy="198.4" r="7.3" fill="url(#gPb)"/><circle cx="721.7" cy="199.9" r="4.3" fill="url(#gCl)"/><circle cx="663.5" cy="196.9" r="4.3" fill="url(#gCl)"/><circle cx="663.5" cy="196.9" r="4.3" fill="#fff" opacity="0.22"/><circle cx="692.6" cy="228.9" r="4.3" fill="url(#gCl)"/><circle cx="692.6" cy="228.9" r="4.3" fill="#fff" opacity="0.22"/><circle cx="750.8" cy="201.3" r="7.3" fill="url(#gPb)"/><circle cx="779.9" cy="202.8" r="4.3" fill="url(#gCl)"/><circle cx="750.8" cy="231.8" r="4.3" fill="url(#gCl)"/><circle cx="750.8" cy="231.8" r="4.3" fill="#fff" opacity="0.22"/><circle cx="809.0" cy="204.2" r="7.3" fill="url(#gPb)"/><circle cx="838.1" cy="205.7" r="4.3" fill="url(#gCl)"/><circle cx="809.0" cy="234.7" r="4.3" fill="url(#gCl)"/><circle cx="809.0" cy="234.7" r="4.3" fill="#fff" opacity="0.22"/><circle cx="682.8" cy="81.2" r="4.3" fill="url(#gCl)"/><circle cx="741.0" cy="84.1" r="4.3" fill="url(#gCl)"/><circle cx="799.1" cy="87.0" r="4.3" fill="url(#gCl)"/><circle cx="682.8" cy="142.2" r="4.3" fill="url(#gCl)"/><circle cx="741.0" cy="145.1" r="4.3" fill="url(#gCl)"/><circle cx="799.1" cy="147.9" r="4.3" fill="url(#gCl)"/><circle cx="682.8" cy="203.2" r="4.3" fill="url(#gCl)"/><circle cx="741.0" cy="206.1" r="4.3" fill="url(#gCl)"/><circle cx="799.1" cy="208.9" r="4.3" fill="url(#gCl)"/>
<g fill="#fff" fill-opacity="0.9"><polygon points="693.4,333.7 721.4,364.4 692.2,393.1 664.2,362.4"/><polygon points="751.8,336.9 779.8,367.6 750.6,396.3 722.6,365.6"/><polygon points="810.2,340.1 838.2,370.8 809.0,399.5 781.0,368.8"/><polygon points="693.4,394.3 721.4,425.0 692.2,453.7 664.2,423.0"/><polygon points="751.8,397.5 779.8,428.2 750.6,456.9 722.6,426.2"/><polygon points="810.2,400.7 838.2,431.4 809.0,460.1 781.0,429.4"/><polygon points="693.4,454.9 721.4,485.6 692.2,514.3 664.2,483.6"/><polygon points="751.8,458.1 779.8,488.8 750.6,517.5 722.6,486.8"/><polygon points="810.2,461.3 838.2,492.0 809.0,520.7 781.0,490.0"/><polygon points="712.6,324.2 740.6,354.9 711.4,383.6 683.4,352.9"/><polygon points="771.0,327.4 799.0,358.1 769.8,386.8 741.8,356.1"/><polygon points="829.4,330.6 857.4,361.3 828.2,390.0 800.2,359.3"/><polygon points="712.6,384.8 740.6,415.5 711.4,444.2 683.4,413.5"/><polygon points="771.0,388.0 799.0,418.7 769.8,447.4 741.8,416.7"/><polygon points="829.4,391.2 857.4,421.9 828.2,450.6 800.2,419.9"/><polygon points="712.6,445.4 740.6,476.1 711.4,504.8 683.4,474.1"/><polygon points="771.0,448.6 799.0,479.3 769.8,508.0 741.8,477.3"/><polygon points="829.4,451.8 857.4,482.5 828.2,511.2 800.2,480.5"/><polygon points="731.8,314.7 759.8,345.4 730.6,374.1 702.6,343.4"/><polygon points="790.2,317.9 818.2,348.6 789.0,377.3 761.0,346.6"/><polygon points="848.6,321.1 876.6,351.8 847.4,380.5 819.4,349.8"/><polygon points="731.8,375.3 759.8,406.0 730.6,434.7 702.6,404.0"/><polygon points="790.2,378.5 818.2,409.2 789.0,437.9 761.0,407.2"/><polygon points="848.6,381.7 876.6,412.4 847.4,441.1 819.4,410.4"/><polygon points="731.8,435.9 759.8,466.6 730.6,495.3 702.6,464.6"/><polygon points="790.2,439.1 818.2,469.8 789.0,498.5 761.0,467.8"/><polygon points="848.6,442.3 876.6,473.0 847.4,501.7 819.4,471.0"/></g><g><polygon fill="#9c9cd2" fill-opacity="0.252" points="702.6,343.4 731.8,314.7 740.8,339.7"/><polygon fill="#9c9cd2" fill-opacity="0.252" points="702.6,343.4 730.6,374.1 740.8,339.7"/><polygon fill="#9c9cd2" fill-opacity="0.252" points="759.8,345.4 731.8,314.7 740.8,339.7"/><polygon fill="#9c9cd2" fill-opacity="0.252" points="759.8,345.4 730.6,374.1 740.8,339.7"/><polygon fill="#dcdcf2" fill-opacity="0.252" points="702.6,343.4 731.8,314.7 721.6,349.2"/><polygon fill="#b8b8e0" fill-opacity="0.224" points="702.6,343.4 730.6,374.1 721.6,349.2"/><polygon fill="#9494cc" fill-opacity="0.238" points="759.8,345.4 731.8,314.7 721.6,349.2"/><polygon fill="#8c8cc8" fill-opacity="0.266" points="759.8,345.4 730.6,374.1 721.6,349.2"/><polygon fill="#9c9cd2" fill-opacity="0.252" points="761.0,346.6 790.2,317.9 799.2,342.9"/><polygon fill="#9c9cd2" fill-opacity="0.252" points="761.0,346.6 789.0,377.3 799.2,342.9"/><polygon fill="#9c9cd2" fill-opacity="0.252" points="818.2,348.6 790.2,317.9 799.2,342.9"/><polygon fill="#9c9cd2" fill-opacity="0.252" points="818.2,348.6 789.0,377.3 799.2,342.9"/><polygon fill="#dcdcf2" fill-opacity="0.252" points="761.0,346.6 790.2,317.9 780.0,352.4"/><polygon fill="#b8b8e0" fill-opacity="0.224" points="761.0,346.6 789.0,377.3 780.0,352.4"/><polygon fill="#9494cc" fill-opacity="0.238" points="818.2,348.6 790.2,317.9 780.0,352.4"/><polygon fill="#8c8cc8" fill-opacity="0.266" points="818.2,348.6 789.0,377.3 780.0,352.4"/><polygon fill="#9c9cd2" fill-opacity="0.252" points="819.4,349.8 848.6,321.1 857.6,346.1"/><polygon fill="#9c9cd2" fill-opacity="0.252" points="819.4,349.8 847.4,380.5 857.6,346.1"/><polygon fill="#9c9cd2" fill-opacity="0.252" points="876.6,351.8 848.6,321.1 857.6,346.1"/><polygon fill="#9c9cd2" fill-opacity="0.252" points="876.6,351.8 847.4,380.5 857.6,346.1"/><polygon fill="#dcdcf2" fill-opacity="0.252" points="819.4,349.8 848.6,321.1 838.4,355.6"/><polygon fill="#b8b8e0" fill-opacity="0.224" points="819.4,349.8 847.4,380.5 838.4,355.6"/><polygon fill="#9494cc" fill-opacity="0.238" points="876.6,351.8 848.6,321.1 838.4,355.6"/><polygon fill="#8c8cc8" fill-opacity="0.266" points="876.6,351.8 847.4,380.5 838.4,355.6"/><polygon fill="#9c9cd2" fill-opacity="0.252" points="702.6,404.0 731.8,375.3 740.8,400.3"/><polygon fill="#9c9cd2" fill-opacity="0.252" points="702.6,404.0 730.6,434.7 740.8,400.3"/><polygon fill="#9c9cd2" fill-opacity="0.252" points="759.8,406.0 731.8,375.3 740.8,400.3"/><polygon fill="#9c9cd2" fill-opacity="0.252" points="759.8,406.0 730.6,434.7 740.8,400.3"/><polygon fill="#dcdcf2" fill-opacity="0.252" points="702.6,404.0 731.8,375.3 721.6,409.8"/><polygon fill="#b8b8e0" fill-opacity="0.224" points="702.6,404.0 730.6,434.7 721.6,409.8"/><polygon fill="#9494cc" fill-opacity="0.238" points="759.8,406.0 731.8,375.3 721.6,409.8"/><polygon fill="#8c8cc8" fill-opacity="0.266" points="759.8,406.0 730.6,434.7 721.6,409.8"/><polygon fill="#9c9cd2" fill-opacity="0.252" points="761.0,407.2 790.2,378.5 799.2,403.5"/><polygon fill="#9c9cd2" fill-opacity="0.252" points="761.0,407.2 789.0,437.9 799.2,403.5"/><polygon fill="#9c9cd2" fill-opacity="0.252" points="818.2,409.2 790.2,378.5 799.2,403.5"/><polygon fill="#9c9cd2" fill-opacity="0.252" points="818.2,409.2 789.0,437.9 799.2,403.5"/><polygon fill="#dcdcf2" fill-opacity="0.252" points="761.0,407.2 790.2,378.5 780.0,413.0"/><polygon fill="#b8b8e0" fill-opacity="0.224" points="761.0,407.2 789.0,437.9 780.0,413.0"/><polygon fill="#9494cc" fill-opacity="0.238" points="818.2,409.2 790.2,378.5 780.0,413.0"/><polygon fill="#8c8cc8" fill-opacity="0.266" points="818.2,409.2 789.0,437.9 780.0,413.0"/><polygon fill="#9c9cd2" fill-opacity="0.252" points="819.4,410.4 848.6,381.7 857.6,406.7"/><polygon fill="#9c9cd2" fill-opacity="0.252" points="819.4,410.4 847.4,441.1 857.6,406.7"/><polygon fill="#9c9cd2" fill-opacity="0.252" points="876.6,412.4 848.6,381.7 857.6,406.7"/><polygon fill="#9c9cd2" fill-opacity="0.252" points="876.6,412.4 847.4,441.1 857.6,406.7"/><polygon fill="#dcdcf2" fill-opacity="0.252" points="819.4,410.4 848.6,381.7 838.4,416.2"/><polygon fill="#b8b8e0" fill-opacity="0.224" points="819.4,410.4 847.4,441.1 838.4,416.2"/><polygon fill="#9494cc" fill-opacity="0.238" points="876.6,412.4 848.6,381.7 838.4,416.2"/><polygon fill="#8c8cc8" fill-opacity="0.266" points="876.6,412.4 847.4,441.1 838.4,416.2"/><polygon fill="#9c9cd2" fill-opacity="0.252" points="702.6,464.6 731.8,435.9 740.8,460.9"/><polygon fill="#9c9cd2" fill-opacity="0.252" points="702.6,464.6 730.6,495.3 740.8,460.9"/><polygon fill="#9c9cd2" fill-opacity="0.252" points="759.8,466.6 731.8,435.9 740.8,460.9"/><polygon fill="#9c9cd2" fill-opacity="0.252" points="759.8,466.6 730.6,495.3 740.8,460.9"/><polygon fill="#dcdcf2" fill-opacity="0.252" points="702.6,464.6 731.8,435.9 721.6,470.4"/><polygon fill="#b8b8e0" fill-opacity="0.224" points="702.6,464.6 730.6,495.3 721.6,470.4"/><polygon fill="#9494cc" fill-opacity="0.238" points="759.8,466.6 731.8,435.9 721.6,470.4"/><polygon fill="#8c8cc8" fill-opacity="0.266" points="759.8,466.6 730.6,495.3 721.6,470.4"/><polygon fill="#9c9cd2" fill-opacity="0.252" points="761.0,467.8 790.2,439.1 799.2,464.1"/><polygon fill="#9c9cd2" fill-opacity="0.252" points="761.0,467.8 789.0,498.5 799.2,464.1"/><polygon fill="#9c9cd2" fill-opacity="0.252" points="818.2,469.8 790.2,439.1 799.2,464.1"/><polygon fill="#9c9cd2" fill-opacity="0.252" points="818.2,469.8 789.0,498.5 799.2,464.1"/><polygon fill="#dcdcf2" fill-opacity="0.252" points="761.0,467.8 790.2,439.1 780.0,473.6"/><polygon fill="#b8b8e0" fill-opacity="0.224" points="761.0,467.8 789.0,498.5 780.0,473.6"/><polygon fill="#9494cc" fill-opacity="0.238" points="818.2,469.8 790.2,439.1 780.0,473.6"/><polygon fill="#8c8cc8" fill-opacity="0.266" points="818.2,469.8 789.0,498.5 780.0,473.6"/><polygon fill="#9c9cd2" fill-opacity="0.252" points="819.4,471.0 848.6,442.3 857.6,467.3"/><polygon fill="#9c9cd2" fill-opacity="0.252" points="819.4,471.0 847.4,501.7 857.6,467.3"/><polygon fill="#9c9cd2" fill-opacity="0.252" points="876.6,473.0 848.6,442.3 857.6,467.3"/><polygon fill="#9c9cd2" fill-opacity="0.252" points="876.6,473.0 847.4,501.7 857.6,467.3"/><polygon fill="#dcdcf2" fill-opacity="0.252" points="819.4,471.0 848.6,442.3 838.4,476.8"/><polygon fill="#b8b8e0" fill-opacity="0.224" points="819.4,471.0 847.4,501.7 838.4,476.8"/><polygon fill="#9494cc" fill-opacity="0.238" points="876.6,473.0 848.6,442.3 838.4,476.8"/><polygon fill="#8c8cc8" fill-opacity="0.266" points="876.6,473.0 847.4,501.7 838.4,476.8"/><polygon fill="#9c9cd2" fill-opacity="0.252" points="683.4,352.9 712.6,324.2 721.6,349.2"/><polygon fill="#9c9cd2" fill-opacity="0.252" points="683.4,352.9 711.4,383.6 721.6,349.2"/><polygon fill="#9c9cd2" fill-opacity="0.252" points="740.6,354.9 712.6,324.2 721.6,349.2"/><polygon fill="#9c9cd2" fill-opacity="0.252" points="740.6,354.9 711.4,383.6 721.6,349.2"/><polygon fill="#dcdcf2" fill-opacity="0.252" points="683.4,352.9 712.6,324.2 702.4,358.6"/><polygon fill="#b8b8e0" fill-opacity="0.224" points="683.4,352.9 711.4,383.6 702.4,358.6"/><polygon fill="#9494cc" fill-opacity="0.238" points="740.6,354.9 712.6,324.2 702.4,358.6"/><polygon fill="#8c8cc8" fill-opacity="0.266" points="740.6,354.9 711.4,383.6 702.4,358.6"/><polygon fill="#9c9cd2" fill-opacity="0.252" points="741.8,356.1 771.0,327.4 780.0,352.4"/><polygon fill="#9c9cd2" fill-opacity="0.252" points="741.8,356.1 769.8,386.8 780.0,352.4"/><polygon fill="#9c9cd2" fill-opacity="0.252" points="799.0,358.1 771.0,327.4 780.0,352.4"/><polygon fill="#9c9cd2" fill-opacity="0.252" points="799.0,358.1 769.8,386.8 780.0,352.4"/><polygon fill="#dcdcf2" fill-opacity="0.252" points="741.8,356.1 771.0,327.4 760.8,361.8"/><polygon fill="#b8b8e0" fill-opacity="0.224" points="741.8,356.1 769.8,386.8 760.8,361.8"/><polygon fill="#9494cc" fill-opacity="0.238" points="799.0,358.1 771.0,327.4 760.8,361.8"/><polygon fill="#8c8cc8" fill-opacity="0.266" points="799.0,358.1 769.8,386.8 760.8,361.8"/><polygon fill="#9c9cd2" fill-opacity="0.252" points="800.2,359.3 829.4,330.6 838.4,355.6"/><polygon fill="#9c9cd2" fill-opacity="0.252" points="800.2,359.3 828.2,390.0 838.4,355.6"/><polygon fill="#9c9cd2" fill-opacity="0.252" points="857.4,361.3 829.4,330.6 838.4,355.6"/><polygon fill="#9c9cd2" fill-opacity="0.252" points="857.4,361.3 828.2,390.0 838.4,355.6"/><polygon fill="#dcdcf2" fill-opacity="0.252" points="800.2,359.3 829.4,330.6 819.2,365.0"/><polygon fill="#b8b8e0" fill-opacity="0.224" points="800.2,359.3 828.2,390.0 819.2,365.0"/><polygon fill="#9494cc" fill-opacity="0.238" points="857.4,361.3 829.4,330.6 819.2,365.0"/><polygon fill="#8c8cc8" fill-opacity="0.266" points="857.4,361.3 828.2,390.0 819.2,365.0"/><polygon fill="#9c9cd2" fill-opacity="0.252" points="683.4,413.5 712.6,384.8 721.6,409.8"/><polygon fill="#9c9cd2" fill-opacity="0.252" points="683.4,413.5 711.4,444.2 721.6,409.8"/><polygon fill="#9c9cd2" fill-opacity="0.252" points="740.6,415.5 712.6,384.8 721.6,409.8"/><polygon fill="#9c9cd2" fill-opacity="0.252" points="740.6,415.5 711.4,444.2 721.6,409.8"/><polygon fill="#dcdcf2" fill-opacity="0.252" points="683.4,413.5 712.6,384.8 702.4,419.2"/><polygon fill="#b8b8e0" fill-opacity="0.224" points="683.4,413.5 711.4,444.2 702.4,419.2"/><polygon fill="#9494cc" fill-opacity="0.238" points="740.6,415.5 712.6,384.8 702.4,419.2"/><polygon fill="#8c8cc8" fill-opacity="0.266" points="740.6,415.5 711.4,444.2 702.4,419.2"/><polygon fill="#9c9cd2" fill-opacity="0.252" points="741.8,416.7 771.0,388.0 780.0,413.0"/><polygon fill="#9c9cd2" fill-opacity="0.252" points="741.8,416.7 769.8,447.4 780.0,413.0"/><polygon fill="#9c9cd2" fill-opacity="0.252" points="799.0,418.7 771.0,388.0 780.0,413.0"/><polygon fill="#9c9cd2" fill-opacity="0.252" points="799.0,418.7 769.8,447.4 780.0,413.0"/><polygon fill="#dcdcf2" fill-opacity="0.252" points="741.8,416.7 771.0,388.0 760.8,422.4"/><polygon fill="#b8b8e0" fill-opacity="0.224" points="741.8,416.7 769.8,447.4 760.8,422.4"/><polygon fill="#9494cc" fill-opacity="0.238" points="799.0,418.7 771.0,388.0 760.8,422.4"/><polygon fill="#8c8cc8" fill-opacity="0.266" points="799.0,418.7 769.8,447.4 760.8,422.4"/><polygon fill="#9c9cd2" fill-opacity="0.252" points="800.2,419.9 829.4,391.2 838.4,416.2"/><polygon fill="#9c9cd2" fill-opacity="0.252" points="800.2,419.9 828.2,450.6 838.4,416.2"/><polygon fill="#9c9cd2" fill-opacity="0.252" points="857.4,421.9 829.4,391.2 838.4,416.2"/><polygon fill="#9c9cd2" fill-opacity="0.252" points="857.4,421.9 828.2,450.6 838.4,416.2"/><polygon fill="#dcdcf2" fill-opacity="0.252" points="800.2,419.9 829.4,391.2 819.2,425.6"/><polygon fill="#b8b8e0" fill-opacity="0.224" points="800.2,419.9 828.2,450.6 819.2,425.6"/><polygon fill="#9494cc" fill-opacity="0.238" points="857.4,421.9 829.4,391.2 819.2,425.6"/><polygon fill="#8c8cc8" fill-opacity="0.266" points="857.4,421.9 828.2,450.6 819.2,425.6"/><polygon fill="#9c9cd2" fill-opacity="0.252" points="683.4,474.1 712.6,445.4 721.6,470.4"/><polygon fill="#9c9cd2" fill-opacity="0.252" points="683.4,474.1 711.4,504.8 721.6,470.4"/><polygon fill="#9c9cd2" fill-opacity="0.252" points="740.6,476.1 712.6,445.4 721.6,470.4"/><polygon fill="#9c9cd2" fill-opacity="0.252" points="740.6,476.1 711.4,504.8 721.6,470.4"/><polygon fill="#dcdcf2" fill-opacity="0.252" points="683.4,474.1 712.6,445.4 702.4,479.8"/><polygon fill="#b8b8e0" fill-opacity="0.224" points="683.4,474.1 711.4,504.8 702.4,479.8"/><polygon fill="#9494cc" fill-opacity="0.238" points="740.6,476.1 712.6,445.4 702.4,479.8"/><polygon fill="#8c8cc8" fill-opacity="0.266" points="740.6,476.1 711.4,504.8 702.4,479.8"/><polygon fill="#9c9cd2" fill-opacity="0.252" points="741.8,477.3 771.0,448.6 780.0,473.6"/><polygon fill="#9c9cd2" fill-opacity="0.252" points="741.8,477.3 769.8,508.0 780.0,473.6"/><polygon fill="#9c9cd2" fill-opacity="0.252" points="799.0,479.3 771.0,448.6 780.0,473.6"/><polygon fill="#9c9cd2" fill-opacity="0.252" points="799.0,479.3 769.8,508.0 780.0,473.6"/><polygon fill="#dcdcf2" fill-opacity="0.252" points="741.8,477.3 771.0,448.6 760.8,483.0"/><polygon fill="#b8b8e0" fill-opacity="0.224" points="741.8,477.3 769.8,508.0 760.8,483.0"/><polygon fill="#9494cc" fill-opacity="0.238" points="799.0,479.3 771.0,448.6 760.8,483.0"/><polygon fill="#8c8cc8" fill-opacity="0.266" points="799.0,479.3 769.8,508.0 760.8,483.0"/><polygon fill="#9c9cd2" fill-opacity="0.252" points="800.2,480.5 829.4,451.8 838.4,476.8"/><polygon fill="#9c9cd2" fill-opacity="0.252" points="800.2,480.5 828.2,511.2 838.4,476.8"/><polygon fill="#9c9cd2" fill-opacity="0.252" points="857.4,482.5 829.4,451.8 838.4,476.8"/><polygon fill="#9c9cd2" fill-opacity="0.252" points="857.4,482.5 828.2,511.2 838.4,476.8"/><polygon fill="#dcdcf2" fill-opacity="0.252" points="800.2,480.5 829.4,451.8 819.2,486.2"/><polygon fill="#b8b8e0" fill-opacity="0.224" points="800.2,480.5 828.2,511.2 819.2,486.2"/><polygon fill="#9494cc" fill-opacity="0.238" points="857.4,482.5 829.4,451.8 819.2,486.2"/><polygon fill="#8c8cc8" fill-opacity="0.266" points="857.4,482.5 828.2,511.2 819.2,486.2"/><polygon fill="#9c9cd2" fill-opacity="0.252" points="664.2,362.4 693.4,333.7 702.4,358.6"/><polygon fill="#9c9cd2" fill-opacity="0.252" points="664.2,362.4 692.2,393.1 702.4,358.6"/><polygon fill="#9c9cd2" fill-opacity="0.252" points="721.4,364.4 693.4,333.7 702.4,358.6"/><polygon fill="#9c9cd2" fill-opacity="0.252" points="721.4,364.4 692.2,393.1 702.4,358.6"/><polygon fill="#dcdcf2" fill-opacity="0.252" points="664.2,362.4 693.4,333.7 683.2,368.1"/><polygon fill="#b8b8e0" fill-opacity="0.224" points="664.2,362.4 692.2,393.1 683.2,368.1"/><polygon fill="#9494cc" fill-opacity="0.238" points="721.4,364.4 693.4,333.7 683.2,368.1"/><polygon fill="#8c8cc8" fill-opacity="0.266" points="721.4,364.4 692.2,393.1 683.2,368.1"/><polygon fill="#9c9cd2" fill-opacity="0.252" points="722.6,365.6 751.8,336.9 760.8,361.8"/><polygon fill="#9c9cd2" fill-opacity="0.252" points="722.6,365.6 750.6,396.3 760.8,361.8"/><polygon fill="#9c9cd2" fill-opacity="0.252" points="779.8,367.6 751.8,336.9 760.8,361.8"/><polygon fill="#9c9cd2" fill-opacity="0.252" points="779.8,367.6 750.6,396.3 760.8,361.8"/><polygon fill="#dcdcf2" fill-opacity="0.252" points="722.6,365.6 751.8,336.9 741.6,371.3"/><polygon fill="#b8b8e0" fill-opacity="0.224" points="722.6,365.6 750.6,396.3 741.6,371.3"/><polygon fill="#9494cc" fill-opacity="0.238" points="779.8,367.6 751.8,336.9 741.6,371.3"/><polygon fill="#8c8cc8" fill-opacity="0.266" points="779.8,367.6 750.6,396.3 741.6,371.3"/><polygon fill="#9c9cd2" fill-opacity="0.252" points="781.0,368.8 810.2,340.1 819.2,365.0"/><polygon fill="#9c9cd2" fill-opacity="0.252" points="781.0,368.8 809.0,399.5 819.2,365.0"/><polygon fill="#9c9cd2" fill-opacity="0.252" points="838.2,370.8 810.2,340.1 819.2,365.0"/><polygon fill="#9c9cd2" fill-opacity="0.252" points="838.2,370.8 809.0,399.5 819.2,365.0"/><polygon fill="#dcdcf2" fill-opacity="0.252" points="781.0,368.8 810.2,340.1 800.0,374.5"/><polygon fill="#b8b8e0" fill-opacity="0.224" points="781.0,368.8 809.0,399.5 800.0,374.5"/><polygon fill="#9494cc" fill-opacity="0.238" points="838.2,370.8 810.2,340.1 800.0,374.5"/><polygon fill="#8c8cc8" fill-opacity="0.266" points="838.2,370.8 809.0,399.5 800.0,374.5"/><polygon fill="#9c9cd2" fill-opacity="0.252" points="664.2,423.0 693.4,394.3 702.4,419.2"/><polygon fill="#9c9cd2" fill-opacity="0.252" points="664.2,423.0 692.2,453.7 702.4,419.2"/><polygon fill="#9c9cd2" fill-opacity="0.252" points="721.4,425.0 693.4,394.3 702.4,419.2"/><polygon fill="#9c9cd2" fill-opacity="0.252" points="721.4,425.0 692.2,453.7 702.4,419.2"/><polygon fill="#dcdcf2" fill-opacity="0.252" points="664.2,423.0 693.4,394.3 683.2,428.7"/><polygon fill="#b8b8e0" fill-opacity="0.224" points="664.2,423.0 692.2,453.7 683.2,428.7"/><polygon fill="#9494cc" fill-opacity="0.238" points="721.4,425.0 693.4,394.3 683.2,428.7"/><polygon fill="#8c8cc8" fill-opacity="0.266" points="721.4,425.0 692.2,453.7 683.2,428.7"/><polygon fill="#9c9cd2" fill-opacity="0.252" points="722.6,426.2 751.8,397.5 760.8,422.4"/><polygon fill="#9c9cd2" fill-opacity="0.252" points="722.6,426.2 750.6,456.9 760.8,422.4"/><polygon fill="#9c9cd2" fill-opacity="0.252" points="779.8,428.2 751.8,397.5 760.8,422.4"/><polygon fill="#9c9cd2" fill-opacity="0.252" points="779.8,428.2 750.6,456.9 760.8,422.4"/><polygon fill="#dcdcf2" fill-opacity="0.252" points="722.6,426.2 751.8,397.5 741.6,431.9"/><polygon fill="#b8b8e0" fill-opacity="0.224" points="722.6,426.2 750.6,456.9 741.6,431.9"/><polygon fill="#9494cc" fill-opacity="0.238" points="779.8,428.2 751.8,397.5 741.6,431.9"/><polygon fill="#8c8cc8" fill-opacity="0.266" points="779.8,428.2 750.6,456.9 741.6,431.9"/><polygon fill="#9c9cd2" fill-opacity="0.252" points="781.0,429.4 810.2,400.7 819.2,425.6"/><polygon fill="#9c9cd2" fill-opacity="0.252" points="781.0,429.4 809.0,460.1 819.2,425.6"/><polygon fill="#9c9cd2" fill-opacity="0.252" points="838.2,431.4 810.2,400.7 819.2,425.6"/><polygon fill="#9c9cd2" fill-opacity="0.252" points="838.2,431.4 809.0,460.1 819.2,425.6"/><polygon fill="#dcdcf2" fill-opacity="0.252" points="781.0,429.4 810.2,400.7 800.0,435.1"/><polygon fill="#b8b8e0" fill-opacity="0.224" points="781.0,429.4 809.0,460.1 800.0,435.1"/><polygon fill="#9494cc" fill-opacity="0.238" points="838.2,431.4 810.2,400.7 800.0,435.1"/><polygon fill="#8c8cc8" fill-opacity="0.266" points="838.2,431.4 809.0,460.1 800.0,435.1"/><polygon fill="#9c9cd2" fill-opacity="0.252" points="664.2,483.6 693.4,454.9 702.4,479.8"/><polygon fill="#9c9cd2" fill-opacity="0.252" points="664.2,483.6 692.2,514.3 702.4,479.8"/><polygon fill="#9c9cd2" fill-opacity="0.252" points="721.4,485.6 693.4,454.9 702.4,479.8"/><polygon fill="#9c9cd2" fill-opacity="0.252" points="721.4,485.6 692.2,514.3 702.4,479.8"/><polygon fill="#dcdcf2" fill-opacity="0.252" points="664.2,483.6 693.4,454.9 683.2,489.3"/><polygon fill="#b8b8e0" fill-opacity="0.224" points="664.2,483.6 692.2,514.3 683.2,489.3"/><polygon fill="#9494cc" fill-opacity="0.238" points="721.4,485.6 693.4,454.9 683.2,489.3"/><polygon fill="#8c8cc8" fill-opacity="0.266" points="721.4,485.6 692.2,514.3 683.2,489.3"/><polygon fill="#9c9cd2" fill-opacity="0.252" points="722.6,486.8 751.8,458.1 760.8,483.0"/><polygon fill="#9c9cd2" fill-opacity="0.252" points="722.6,486.8 750.6,517.5 760.8,483.0"/><polygon fill="#9c9cd2" fill-opacity="0.252" points="779.8,488.8 751.8,458.1 760.8,483.0"/><polygon fill="#9c9cd2" fill-opacity="0.252" points="779.8,488.8 750.6,517.5 760.8,483.0"/><polygon fill="#dcdcf2" fill-opacity="0.252" points="722.6,486.8 751.8,458.1 741.6,492.5"/><polygon fill="#b8b8e0" fill-opacity="0.224" points="722.6,486.8 750.6,517.5 741.6,492.5"/><polygon fill="#9494cc" fill-opacity="0.238" points="779.8,488.8 751.8,458.1 741.6,492.5"/><polygon fill="#8c8cc8" fill-opacity="0.266" points="779.8,488.8 750.6,517.5 741.6,492.5"/><polygon fill="#9c9cd2" fill-opacity="0.252" points="781.0,490.0 810.2,461.3 819.2,486.2"/><polygon fill="#9c9cd2" fill-opacity="0.252" points="781.0,490.0 809.0,520.7 819.2,486.2"/><polygon fill="#9c9cd2" fill-opacity="0.252" points="838.2,492.0 810.2,461.3 819.2,486.2"/><polygon fill="#9c9cd2" fill-opacity="0.252" points="838.2,492.0 809.0,520.7 819.2,486.2"/><polygon fill="#dcdcf2" fill-opacity="0.252" points="781.0,490.0 810.2,461.3 800.0,495.7"/><polygon fill="#b8b8e0" fill-opacity="0.224" points="781.0,490.0 809.0,520.7 800.0,495.7"/><polygon fill="#9494cc" fill-opacity="0.238" points="838.2,492.0 810.2,461.3 800.0,495.7"/><polygon fill="#8c8cc8" fill-opacity="0.266" points="838.2,492.0 809.0,520.7 800.0,495.7"/></g><circle cx="741.1" cy="339.9" r="4.3" fill="url(#gCl)"/><circle cx="741.1" cy="339.9" r="4.3" fill="#a4a4d4" opacity="0.42"/><circle cx="799.5" cy="343.1" r="4.3" fill="url(#gCl)"/><circle cx="799.5" cy="343.1" r="4.3" fill="#a4a4d4" opacity="0.42"/><circle cx="857.9" cy="346.3" r="4.3" fill="url(#gCl)"/><circle cx="857.9" cy="346.3" r="4.3" fill="#a4a4d4" opacity="0.42"/><circle cx="741.1" cy="400.6" r="4.3" fill="url(#gCl)"/><circle cx="741.1" cy="400.6" r="4.3" fill="#a4a4d4" opacity="0.42"/><circle cx="799.5" cy="403.8" r="4.3" fill="url(#gCl)"/><circle cx="799.5" cy="403.8" r="4.3" fill="#a4a4d4" opacity="0.42"/><circle cx="857.9" cy="406.9" r="4.3" fill="url(#gCl)"/><circle cx="857.9" cy="406.9" r="4.3" fill="#a4a4d4" opacity="0.42"/><circle cx="741.1" cy="461.1" r="4.3" fill="url(#gCl)"/><circle cx="741.1" cy="461.1" r="4.3" fill="#a4a4d4" opacity="0.42"/><circle cx="799.5" cy="464.3" r="4.3" fill="url(#gCl)"/><circle cx="799.5" cy="464.3" r="4.3" fill="#a4a4d4" opacity="0.42"/><circle cx="857.9" cy="467.5" r="4.3" fill="url(#gCl)"/><circle cx="857.9" cy="467.5" r="4.3" fill="#a4a4d4" opacity="0.42"/><circle cx="731.4" cy="344.6" r="7.3" fill="url(#gPb)"/><circle cx="731.4" cy="344.6" r="7.3" fill="#a4a4d4" opacity="0.36"/><circle cx="760.6" cy="346.2" r="4.3" fill="url(#gCl)"/><circle cx="760.6" cy="346.2" r="4.3" fill="#a4a4d4" opacity="0.40"/><circle cx="702.2" cy="343.0" r="4.3" fill="url(#gCl)"/><circle cx="702.2" cy="343.0" r="4.3" fill="#a4a4d4" opacity="0.40"/><circle cx="731.4" cy="374.9" r="4.3" fill="url(#gCl)"/><circle cx="731.4" cy="374.9" r="4.3" fill="#a4a4d4" opacity="0.30"/><circle cx="731.4" cy="314.3" r="4.3" fill="url(#gCl)"/><circle cx="731.4" cy="314.3" r="4.3" fill="#fff" opacity="0.22"/><circle cx="789.8" cy="347.8" r="7.3" fill="url(#gPb)"/><circle cx="789.8" cy="347.8" r="7.3" fill="#a4a4d4" opacity="0.36"/><circle cx="819.0" cy="349.4" r="4.3" fill="url(#gCl)"/><circle cx="819.0" cy="349.4" r="4.3" fill="#a4a4d4" opacity="0.40"/><circle cx="789.8" cy="378.1" r="4.3" fill="url(#gCl)"/><circle cx="789.8" cy="378.1" r="4.3" fill="#a4a4d4" opacity="0.30"/><circle cx="789.8" cy="317.5" r="4.3" fill="url(#gCl)"/><circle cx="789.8" cy="317.5" r="4.3" fill="#fff" opacity="0.22"/><circle cx="848.2" cy="351.0" r="7.3" fill="url(#gPb)"/><circle cx="848.2" cy="351.0" r="7.3" fill="#a4a4d4" opacity="0.36"/><circle cx="877.4" cy="352.6" r="4.3" fill="url(#gCl)"/><circle cx="877.4" cy="352.6" r="4.3" fill="#a4a4d4" opacity="0.08"/><circle cx="877.4" cy="352.6" r="4.3" fill="#fff" opacity="0.22"/><circle cx="848.2" cy="381.3" r="4.3" fill="url(#gCl)"/><circle cx="848.2" cy="381.3" r="4.3" fill="#a4a4d4" opacity="0.30"/><circle cx="848.2" cy="320.7" r="4.3" fill="url(#gCl)"/><circle cx="848.2" cy="320.7" r="4.3" fill="#fff" opacity="0.22"/><circle cx="731.4" cy="405.2" r="7.3" fill="url(#gPb)"/><circle cx="731.4" cy="405.2" r="7.3" fill="#a4a4d4" opacity="0.36"/><circle cx="760.6" cy="406.8" r="4.3" fill="url(#gCl)"/><circle cx="760.6" cy="406.8" r="4.3" fill="#a4a4d4" opacity="0.40"/><circle cx="702.2" cy="403.6" r="4.3" fill="url(#gCl)"/><circle cx="702.2" cy="403.6" r="4.3" fill="#a4a4d4" opacity="0.40"/><circle cx="731.4" cy="435.5" r="4.3" fill="url(#gCl)"/><circle cx="731.4" cy="435.5" r="4.3" fill="#a4a4d4" opacity="0.30"/><circle cx="789.8" cy="408.4" r="7.3" fill="url(#gPb)"/><circle cx="789.8" cy="408.4" r="7.3" fill="#a4a4d4" opacity="0.36"/><circle cx="819.0" cy="410.0" r="4.3" fill="url(#gCl)"/><circle cx="819.0" cy="410.0" r="4.3" fill="#a4a4d4" opacity="0.40"/><circle cx="789.8" cy="438.7" r="4.3" fill="url(#gCl)"/><circle cx="789.8" cy="438.7" r="4.3" fill="#a4a4d4" opacity="0.30"/><circle cx="848.2" cy="411.6" r="7.3" fill="url(#gPb)"/><circle cx="848.2" cy="411.6" r="7.3" fill="#a4a4d4" opacity="0.36"/><circle cx="877.4" cy="413.2" r="4.3" fill="url(#gCl)"/><circle cx="877.4" cy="413.2" r="4.3" fill="#a4a4d4" opacity="0.08"/><circle cx="877.4" cy="413.2" r="4.3" fill="#fff" opacity="0.22"/><circle cx="848.2" cy="441.9" r="4.3" fill="url(#gCl)"/><circle cx="848.2" cy="441.9" r="4.3" fill="#a4a4d4" opacity="0.30"/><circle cx="731.4" cy="465.8" r="7.3" fill="url(#gPb)"/><circle cx="731.4" cy="465.8" r="7.3" fill="#a4a4d4" opacity="0.36"/><circle cx="760.6" cy="467.4" r="4.3" fill="url(#gCl)"/><circle cx="760.6" cy="467.4" r="4.3" fill="#a4a4d4" opacity="0.40"/><circle cx="702.2" cy="464.2" r="4.3" fill="url(#gCl)"/><circle cx="702.2" cy="464.2" r="4.3" fill="#a4a4d4" opacity="0.40"/><circle cx="731.4" cy="496.1" r="4.3" fill="url(#gCl)"/><circle cx="731.4" cy="496.1" r="4.3" fill="#fff" opacity="0.22"/><circle cx="789.8" cy="469.0" r="7.3" fill="url(#gPb)"/><circle cx="789.8" cy="469.0" r="7.3" fill="#a4a4d4" opacity="0.36"/><circle cx="819.0" cy="470.6" r="4.3" fill="url(#gCl)"/><circle cx="819.0" cy="470.6" r="4.3" fill="#a4a4d4" opacity="0.40"/><circle cx="789.8" cy="499.3" r="4.3" fill="url(#gCl)"/><circle cx="789.8" cy="499.3" r="4.3" fill="#fff" opacity="0.22"/><circle cx="848.2" cy="472.2" r="7.3" fill="url(#gPb)"/><circle cx="848.2" cy="472.2" r="7.3" fill="#a4a4d4" opacity="0.36"/><circle cx="877.4" cy="473.8" r="4.3" fill="url(#gCl)"/><circle cx="877.4" cy="473.8" r="4.3" fill="#a4a4d4" opacity="0.08"/><circle cx="877.4" cy="473.8" r="4.3" fill="#fff" opacity="0.22"/><circle cx="848.2" cy="502.5" r="4.3" fill="url(#gCl)"/><circle cx="848.2" cy="502.5" r="4.3" fill="#fff" opacity="0.22"/><circle cx="721.7" cy="349.2" r="4.3" fill="url(#gCl)"/><circle cx="721.7" cy="349.2" r="4.3" fill="#a4a4d4" opacity="0.30"/><circle cx="780.1" cy="352.4" r="4.3" fill="url(#gCl)"/><circle cx="780.1" cy="352.4" r="4.3" fill="#a4a4d4" opacity="0.30"/><circle cx="838.5" cy="355.6" r="4.3" fill="url(#gCl)"/><circle cx="838.5" cy="355.6" r="4.3" fill="#a4a4d4" opacity="0.30"/><circle cx="721.7" cy="409.9" r="4.3" fill="url(#gCl)"/><circle cx="721.7" cy="409.9" r="4.3" fill="#a4a4d4" opacity="0.30"/><circle cx="780.1" cy="413.1" r="4.3" fill="url(#gCl)"/><circle cx="780.1" cy="413.1" r="4.3" fill="#a4a4d4" opacity="0.30"/><circle cx="838.5" cy="416.2" r="4.3" fill="url(#gCl)"/><circle cx="838.5" cy="416.2" r="4.3" fill="#a4a4d4" opacity="0.30"/><circle cx="721.7" cy="470.4" r="4.3" fill="url(#gCl)"/><circle cx="721.7" cy="470.4" r="4.3" fill="#a4a4d4" opacity="0.30"/><circle cx="780.1" cy="473.6" r="4.3" fill="url(#gCl)"/><circle cx="780.1" cy="473.6" r="4.3" fill="#a4a4d4" opacity="0.30"/><circle cx="838.5" cy="476.8" r="4.3" fill="url(#gCl)"/><circle cx="838.5" cy="476.8" r="4.3" fill="#a4a4d4" opacity="0.30"/><circle cx="712.0" cy="353.9" r="7.3" fill="url(#gPb)"/><circle cx="712.0" cy="353.9" r="7.3" fill="#a4a4d4" opacity="0.22"/><circle cx="741.2" cy="355.5" r="4.3" fill="url(#gCl)"/><circle cx="741.2" cy="355.5" r="4.3" fill="#a4a4d4" opacity="0.40"/><circle cx="682.8" cy="352.3" r="4.3" fill="url(#gCl)"/><circle cx="682.8" cy="352.3" r="4.3" fill="#a4a4d4" opacity="0.40"/><circle cx="712.0" cy="384.2" r="4.3" fill="url(#gCl)"/><circle cx="712.0" cy="323.6" r="4.3" fill="url(#gCl)"/><circle cx="770.4" cy="357.1" r="7.3" fill="url(#gCa)"/><circle cx="770.4" cy="357.1" r="7.3" fill="#a4a4d4" opacity="0.12"/><circle cx="799.6" cy="358.7" r="4.3" fill="url(#gCl)"/><circle cx="799.6" cy="358.7" r="4.3" fill="#a4a4d4" opacity="0.40"/><circle cx="770.4" cy="387.4" r="4.3" fill="url(#gCl)"/><circle cx="770.4" cy="326.8" r="4.3" fill="url(#gCl)"/><circle cx="828.8" cy="360.3" r="7.3" fill="url(#gPb)"/><circle cx="828.8" cy="360.3" r="7.3" fill="#a4a4d4" opacity="0.22"/><circle cx="858.0" cy="361.9" r="4.3" fill="url(#gCl)"/><circle cx="858.0" cy="361.9" r="4.3" fill="#a4a4d4" opacity="0.08"/><circle cx="828.8" cy="390.6" r="4.3" fill="url(#gCl)"/><circle cx="828.8" cy="330.0" r="4.3" fill="url(#gCl)"/><circle cx="712.0" cy="414.5" r="7.3" fill="url(#gPb)"/><circle cx="712.0" cy="414.5" r="7.3" fill="#a4a4d4" opacity="0.22"/><circle cx="741.2" cy="416.1" r="4.3" fill="url(#gCl)"/><circle cx="741.2" cy="416.1" r="4.3" fill="#a4a4d4" opacity="0.40"/><circle cx="682.8" cy="412.9" r="4.3" fill="url(#gCl)"/><circle cx="682.8" cy="412.9" r="4.3" fill="#a4a4d4" opacity="0.40"/><circle cx="712.0" cy="444.8" r="4.3" fill="url(#gCl)"/><circle cx="770.4" cy="417.7" r="7.3" fill="url(#gPb)"/><circle cx="770.4" cy="417.7" r="7.3" fill="#a4a4d4" opacity="0.22"/><circle cx="799.6" cy="419.3" r="4.3" fill="url(#gCl)"/><circle cx="799.6" cy="419.3" r="4.3" fill="#a4a4d4" opacity="0.40"/><circle cx="770.4" cy="448.0" r="4.3" fill="url(#gCl)"/><circle cx="828.8" cy="420.9" r="7.3" fill="url(#gPb)"/><circle cx="828.8" cy="420.9" r="7.3" fill="#a4a4d4" opacity="0.22"/><circle cx="858.0" cy="422.5" r="4.3" fill="url(#gCl)"/><circle cx="858.0" cy="422.5" r="4.3" fill="#a4a4d4" opacity="0.08"/><circle cx="828.8" cy="451.2" r="4.3" fill="url(#gCl)"/><circle cx="712.0" cy="475.1" r="7.3" fill="url(#gPb)"/><circle cx="712.0" cy="475.1" r="7.3" fill="#a4a4d4" opacity="0.22"/><circle cx="741.2" cy="476.7" r="4.3" fill="url(#gCl)"/><circle cx="741.2" cy="476.7" r="4.3" fill="#a4a4d4" opacity="0.40"/><circle cx="682.8" cy="473.5" r="4.3" fill="url(#gCl)"/><circle cx="682.8" cy="473.5" r="4.3" fill="#a4a4d4" opacity="0.40"/><circle cx="712.0" cy="505.4" r="4.3" fill="url(#gCl)"/><circle cx="770.4" cy="478.3" r="7.3" fill="url(#gPb)"/><circle cx="770.4" cy="478.3" r="7.3" fill="#a4a4d4" opacity="0.22"/><circle cx="799.6" cy="479.9" r="4.3" fill="url(#gCl)"/><circle cx="799.6" cy="479.9" r="4.3" fill="#a4a4d4" opacity="0.40"/><circle cx="770.4" cy="508.6" r="4.3" fill="url(#gCl)"/><circle cx="828.8" cy="481.5" r="7.3" fill="url(#gPb)"/><circle cx="828.8" cy="481.5" r="7.3" fill="#a4a4d4" opacity="0.22"/><circle cx="858.0" cy="483.1" r="4.3" fill="url(#gCl)"/><circle cx="858.0" cy="483.1" r="4.3" fill="#a4a4d4" opacity="0.08"/><circle cx="828.8" cy="511.8" r="4.3" fill="url(#gCl)"/><circle cx="702.3" cy="358.6" r="4.3" fill="url(#gCl)"/><circle cx="702.3" cy="358.6" r="4.3" fill="#a4a4d4" opacity="0.12"/><circle cx="760.7" cy="361.8" r="4.3" fill="url(#gCl)"/><circle cx="760.7" cy="361.8" r="4.3" fill="#a4a4d4" opacity="0.12"/><circle cx="819.1" cy="364.9" r="4.3" fill="url(#gCl)"/><circle cx="819.1" cy="364.9" r="4.3" fill="#a4a4d4" opacity="0.12"/><circle cx="702.3" cy="419.2" r="4.3" fill="url(#gCl)"/><circle cx="702.3" cy="419.2" r="4.3" fill="#a4a4d4" opacity="0.12"/><circle cx="760.7" cy="422.4" r="4.3" fill="url(#gCl)"/><circle cx="760.7" cy="422.4" r="4.3" fill="#a4a4d4" opacity="0.12"/><circle cx="819.1" cy="425.6" r="4.3" fill="url(#gCl)"/><circle cx="819.1" cy="425.6" r="4.3" fill="#a4a4d4" opacity="0.12"/><circle cx="702.3" cy="479.8" r="4.3" fill="url(#gCl)"/><circle cx="702.3" cy="479.8" r="4.3" fill="#a4a4d4" opacity="0.12"/><circle cx="760.7" cy="482.9" r="4.3" fill="url(#gCl)"/><circle cx="760.7" cy="482.9" r="4.3" fill="#a4a4d4" opacity="0.12"/><circle cx="819.1" cy="486.1" r="4.3" fill="url(#gCl)"/><circle cx="819.1" cy="486.1" r="4.3" fill="#a4a4d4" opacity="0.12"/><circle cx="692.6" cy="363.2" r="7.3" fill="url(#gPb)"/><circle cx="721.8" cy="364.8" r="4.3" fill="url(#gCl)"/><circle cx="663.4" cy="361.6" r="4.3" fill="url(#gCl)"/><circle cx="663.4" cy="361.6" r="4.3" fill="#fff" opacity="0.22"/><circle cx="692.6" cy="393.5" r="4.3" fill="url(#gCl)"/><circle cx="692.6" cy="332.9" r="4.3" fill="url(#gCl)"/><circle cx="751.0" cy="366.4" r="7.3" fill="url(#gPb)"/><circle cx="780.2" cy="368.0" r="4.3" fill="url(#gCl)"/><circle cx="751.0" cy="396.7" r="4.3" fill="url(#gCl)"/><circle cx="751.0" cy="336.1" r="4.3" fill="url(#gCl)"/><circle cx="809.4" cy="369.6" r="7.3" fill="url(#gPb)"/><circle cx="838.6" cy="371.2" r="4.3" fill="url(#gCl)"/><circle cx="809.4" cy="399.9" r="4.3" fill="url(#gCl)"/><circle cx="809.4" cy="339.3" r="4.3" fill="url(#gCl)"/><circle cx="692.6" cy="423.8" r="7.3" fill="url(#gPb)"/><circle cx="721.8" cy="425.4" r="4.3" fill="url(#gCl)"/><circle cx="663.4" cy="422.2" r="4.9" fill="#fff" stroke="#1a1a1a" stroke-width="2.3"/><circle cx="692.6" cy="454.1" r="4.3" fill="url(#gCl)"/><circle cx="751.0" cy="427.0" r="7.3" fill="url(#gPb)"/><circle cx="780.2" cy="428.6" r="4.3" fill="url(#gCl)"/><circle cx="751.0" cy="457.3" r="4.3" fill="url(#gCl)"/><circle cx="809.4" cy="430.2" r="7.3" fill="url(#gPb)"/><circle cx="838.6" cy="431.8" r="4.3" fill="url(#gCl)"/><circle cx="809.4" cy="460.5" r="4.3" fill="url(#gCl)"/><circle cx="692.6" cy="484.4" r="7.3" fill="url(#gCa)"/><circle cx="721.8" cy="486.0" r="4.3" fill="url(#gCl)"/><circle cx="663.4" cy="482.8" r="4.3" fill="url(#gCl)"/><circle cx="663.4" cy="482.8" r="4.3" fill="#fff" opacity="0.22"/><circle cx="692.6" cy="514.7" r="4.3" fill="url(#gCl)"/><circle cx="692.6" cy="514.7" r="4.3" fill="#fff" opacity="0.22"/><circle cx="751.0" cy="487.6" r="7.3" fill="url(#gPb)"/><circle cx="780.2" cy="489.2" r="4.3" fill="url(#gCl)"/><circle cx="751.0" cy="517.9" r="4.3" fill="url(#gCl)"/><circle cx="751.0" cy="517.9" r="4.3" fill="#fff" opacity="0.22"/><circle cx="809.4" cy="490.8" r="7.3" fill="url(#gPb)"/><circle cx="838.6" cy="492.4" r="4.3" fill="url(#gCl)"/><circle cx="809.4" cy="521.1" r="4.3" fill="url(#gCl)"/><circle cx="809.4" cy="521.1" r="4.3" fill="#fff" opacity="0.22"/><circle cx="682.9" cy="367.8" r="4.3" fill="url(#gCl)"/><circle cx="741.3" cy="371.0" r="4.3" fill="url(#gCl)"/><circle cx="799.7" cy="374.2" r="4.3" fill="url(#gCl)"/><circle cx="682.9" cy="428.4" r="4.3" fill="url(#gCl)"/><circle cx="741.3" cy="431.6" r="4.3" fill="url(#gCl)"/><circle cx="799.7" cy="434.8" r="4.3" fill="url(#gCl)"/><circle cx="682.9" cy="489.0" r="4.3" fill="url(#gCl)"/><circle cx="741.3" cy="492.2" r="4.3" fill="url(#gCl)"/><circle cx="799.7" cy="495.4" r="4.3" fill="url(#gCl)"/>
<g fill="#fff" fill-opacity="0.85"><polygon points="694.2,616.8 721.9,646.5 693.0,675.0 665.2,645.2"/><polygon points="752.1,619.3 779.8,649.0 750.9,677.5 723.1,647.7"/><polygon points="810.0,621.8 837.7,651.5 808.8,680.0 781.0,650.2"/><polygon points="694.2,676.2 721.9,705.9 693.0,734.4 665.2,704.6"/><polygon points="752.1,678.7 779.8,708.4 750.9,736.9 723.1,707.1"/><polygon points="810.0,681.2 837.7,710.9 808.8,739.4 781.0,709.6"/><polygon points="694.2,735.6 721.9,765.3 693.0,793.8 665.2,764.0"/><polygon points="752.1,738.1 779.8,767.8 750.9,796.3 723.1,766.5"/><polygon points="810.0,740.6 837.7,770.3 808.8,798.8 781.0,769.0"/><polygon points="713.3,607.0 741.1,636.7 712.1,665.2 684.3,635.5"/><polygon points="771.2,609.5 799.0,639.2 770.0,667.7 742.2,638.0"/><polygon points="829.1,612.0 856.9,641.7 827.9,670.2 800.1,640.5"/><polygon points="713.3,666.4 741.1,696.1 712.1,724.6 684.3,694.9"/><polygon points="771.2,668.9 799.0,698.6 770.0,727.1 742.2,697.4"/><polygon points="829.1,671.4 856.9,701.1 827.9,729.6 800.1,699.9"/><polygon points="713.3,725.8 741.1,755.5 712.1,784.0 684.3,754.3"/><polygon points="771.2,728.3 799.0,758.0 770.0,786.5 742.2,756.8"/><polygon points="829.1,730.8 856.9,760.5 827.9,789.0 800.1,759.3"/><polygon points="732.4,597.2 760.2,627.0 731.2,655.4 703.5,625.7"/><polygon points="790.3,599.7 818.1,629.5 789.1,657.9 761.4,628.2"/><polygon points="848.2,602.2 876.0,632.0 847.0,660.4 819.3,630.7"/><polygon points="732.4,656.6 760.2,686.4 731.2,714.8 703.5,685.1"/><polygon points="790.3,659.1 818.1,688.9 789.1,717.3 761.4,687.6"/><polygon points="848.2,661.6 876.0,691.4 847.0,719.8 819.3,690.1"/><polygon points="732.4,716.0 760.2,745.8 731.2,774.2 703.5,744.5"/><polygon points="790.3,718.5 818.1,748.3 789.1,776.7 761.4,747.0"/><polygon points="848.2,721.0 876.0,750.8 847.0,779.2 819.3,749.5"/></g><g><polygon fill="#9c9cd2" fill-opacity="0.234" points="703.5,625.7 732.4,597.2 741.4,621.4"/><polygon fill="#9c9cd2" fill-opacity="0.234" points="703.5,625.7 731.2,655.4 741.4,621.4"/><polygon fill="#9c9cd2" fill-opacity="0.234" points="760.2,627.0 732.4,597.2 741.4,621.4"/><polygon fill="#9c9cd2" fill-opacity="0.234" points="760.2,627.0 731.2,655.4 741.4,621.4"/><polygon fill="#dcdcf2" fill-opacity="0.234" points="703.5,625.7 732.4,597.2 722.3,631.2"/><polygon fill="#b8b8e0" fill-opacity="0.208" points="703.5,625.7 731.2,655.4 722.3,631.2"/><polygon fill="#9494cc" fill-opacity="0.221" points="760.2,627.0 732.4,597.2 722.3,631.2"/><polygon fill="#8c8cc8" fill-opacity="0.247" points="760.2,627.0 731.2,655.4 722.3,631.2"/><polygon fill="#9c9cd2" fill-opacity="0.234" points="761.4,628.2 790.3,599.7 799.3,623.9"/><polygon fill="#9c9cd2" fill-opacity="0.234" points="761.4,628.2 789.1,657.9 799.3,623.9"/><polygon fill="#9c9cd2" fill-opacity="0.234" points="818.1,629.5 790.3,599.7 799.3,623.9"/><polygon fill="#9c9cd2" fill-opacity="0.234" points="818.1,629.5 789.1,657.9 799.3,623.9"/><polygon fill="#dcdcf2" fill-opacity="0.234" points="761.4,628.2 790.3,599.7 780.2,633.7"/><polygon fill="#b8b8e0" fill-opacity="0.208" points="761.4,628.2 789.1,657.9 780.2,633.7"/><polygon fill="#9494cc" fill-opacity="0.221" points="818.1,629.5 790.3,599.7 780.2,633.7"/><polygon fill="#8c8cc8" fill-opacity="0.247" points="818.1,629.5 789.1,657.9 780.2,633.7"/><polygon fill="#9c9cd2" fill-opacity="0.234" points="819.3,630.7 848.2,602.2 857.2,626.4"/><polygon fill="#9c9cd2" fill-opacity="0.234" points="819.3,630.7 847.0,660.4 857.2,626.4"/><polygon fill="#9c9cd2" fill-opacity="0.234" points="876.0,632.0 848.2,602.2 857.2,626.4"/><polygon fill="#9c9cd2" fill-opacity="0.234" points="876.0,632.0 847.0,660.4 857.2,626.4"/><polygon fill="#dcdcf2" fill-opacity="0.234" points="819.3,630.7 848.2,602.2 838.1,636.2"/><polygon fill="#b8b8e0" fill-opacity="0.208" points="819.3,630.7 847.0,660.4 838.1,636.2"/><polygon fill="#9494cc" fill-opacity="0.221" points="876.0,632.0 848.2,602.2 838.1,636.2"/><polygon fill="#8c8cc8" fill-opacity="0.247" points="876.0,632.0 847.0,660.4 838.1,636.2"/><polygon fill="#9c9cd2" fill-opacity="0.234" points="703.5,685.1 732.4,656.6 741.4,680.8"/><polygon fill="#9c9cd2" fill-opacity="0.234" points="703.5,685.1 731.2,714.8 741.4,680.8"/><polygon fill="#9c9cd2" fill-opacity="0.234" points="760.2,686.4 732.4,656.6 741.4,680.8"/><polygon fill="#9c9cd2" fill-opacity="0.234" points="760.2,686.4 731.2,714.8 741.4,680.8"/><polygon fill="#dcdcf2" fill-opacity="0.234" points="703.5,685.1 732.4,656.6 722.3,690.6"/><polygon fill="#b8b8e0" fill-opacity="0.208" points="703.5,685.1 731.2,714.8 722.3,690.6"/><polygon fill="#9494cc" fill-opacity="0.221" points="760.2,686.4 732.4,656.6 722.3,690.6"/><polygon fill="#8c8cc8" fill-opacity="0.247" points="760.2,686.4 731.2,714.8 722.3,690.6"/><polygon fill="#9c9cd2" fill-opacity="0.234" points="761.4,687.6 790.3,659.1 799.3,683.3"/><polygon fill="#9c9cd2" fill-opacity="0.234" points="761.4,687.6 789.1,717.3 799.3,683.3"/><polygon fill="#9c9cd2" fill-opacity="0.234" points="818.1,688.9 790.3,659.1 799.3,683.3"/><polygon fill="#9c9cd2" fill-opacity="0.234" points="818.1,688.9 789.1,717.3 799.3,683.3"/><polygon fill="#dcdcf2" fill-opacity="0.234" points="761.4,687.6 790.3,659.1 780.2,693.1"/><polygon fill="#b8b8e0" fill-opacity="0.208" points="761.4,687.6 789.1,717.3 780.2,693.1"/><polygon fill="#9494cc" fill-opacity="0.221" points="818.1,688.9 790.3,659.1 780.2,693.1"/><polygon fill="#8c8cc8" fill-opacity="0.247" points="818.1,688.9 789.1,717.3 780.2,693.1"/><polygon fill="#9c9cd2" fill-opacity="0.234" points="819.3,690.1 848.2,661.6 857.2,685.8"/><polygon fill="#9c9cd2" fill-opacity="0.234" points="819.3,690.1 847.0,719.8 857.2,685.8"/><polygon fill="#9c9cd2" fill-opacity="0.234" points="876.0,691.4 848.2,661.6 857.2,685.8"/><polygon fill="#9c9cd2" fill-opacity="0.234" points="876.0,691.4 847.0,719.8 857.2,685.8"/><polygon fill="#dcdcf2" fill-opacity="0.234" points="819.3,690.1 848.2,661.6 838.1,695.6"/><polygon fill="#b8b8e0" fill-opacity="0.208" points="819.3,690.1 847.0,719.8 838.1,695.6"/><polygon fill="#9494cc" fill-opacity="0.221" points="876.0,691.4 848.2,661.6 838.1,695.6"/><polygon fill="#8c8cc8" fill-opacity="0.247" points="876.0,691.4 847.0,719.8 838.1,695.6"/><polygon fill="#9c9cd2" fill-opacity="0.234" points="703.5,744.5 732.4,716.0 741.4,740.2"/><polygon fill="#9c9cd2" fill-opacity="0.234" points="703.5,744.5 731.2,774.2 741.4,740.2"/><polygon fill="#9c9cd2" fill-opacity="0.234" points="760.2,745.8 732.4,716.0 741.4,740.2"/><polygon fill="#9c9cd2" fill-opacity="0.234" points="760.2,745.8 731.2,774.2 741.4,740.2"/><polygon fill="#dcdcf2" fill-opacity="0.234" points="703.5,744.5 732.4,716.0 722.3,750.0"/><polygon fill="#b8b8e0" fill-opacity="0.208" points="703.5,744.5 731.2,774.2 722.3,750.0"/><polygon fill="#9494cc" fill-opacity="0.221" points="760.2,745.8 732.4,716.0 722.3,750.0"/><polygon fill="#8c8cc8" fill-opacity="0.247" points="760.2,745.8 731.2,774.2 722.3,750.0"/><polygon fill="#9c9cd2" fill-opacity="0.234" points="761.4,747.0 790.3,718.5 799.3,742.7"/><polygon fill="#9c9cd2" fill-opacity="0.234" points="761.4,747.0 789.1,776.7 799.3,742.7"/><polygon fill="#9c9cd2" fill-opacity="0.234" points="818.1,748.3 790.3,718.5 799.3,742.7"/><polygon fill="#9c9cd2" fill-opacity="0.234" points="818.1,748.3 789.1,776.7 799.3,742.7"/><polygon fill="#dcdcf2" fill-opacity="0.234" points="761.4,747.0 790.3,718.5 780.2,752.5"/><polygon fill="#b8b8e0" fill-opacity="0.208" points="761.4,747.0 789.1,776.7 780.2,752.5"/><polygon fill="#9494cc" fill-opacity="0.221" points="818.1,748.3 790.3,718.5 780.2,752.5"/><polygon fill="#8c8cc8" fill-opacity="0.247" points="818.1,748.3 789.1,776.7 780.2,752.5"/><polygon fill="#9c9cd2" fill-opacity="0.234" points="819.3,749.5 848.2,721.0 857.2,745.2"/><polygon fill="#9c9cd2" fill-opacity="0.234" points="819.3,749.5 847.0,779.2 857.2,745.2"/><polygon fill="#9c9cd2" fill-opacity="0.234" points="876.0,750.8 848.2,721.0 857.2,745.2"/><polygon fill="#9c9cd2" fill-opacity="0.234" points="876.0,750.8 847.0,779.2 857.2,745.2"/><polygon fill="#dcdcf2" fill-opacity="0.234" points="819.3,749.5 848.2,721.0 838.1,755.0"/><polygon fill="#b8b8e0" fill-opacity="0.208" points="819.3,749.5 847.0,779.2 838.1,755.0"/><polygon fill="#9494cc" fill-opacity="0.221" points="876.0,750.8 848.2,721.0 838.1,755.0"/><polygon fill="#8c8cc8" fill-opacity="0.247" points="876.0,750.8 847.0,779.2 838.1,755.0"/><polygon fill="#9c9cd2" fill-opacity="0.234" points="684.3,635.5 713.3,607.0 722.3,631.2"/><polygon fill="#9c9cd2" fill-opacity="0.234" points="684.3,635.5 712.1,665.2 722.3,631.2"/><polygon fill="#9c9cd2" fill-opacity="0.234" points="741.1,636.7 713.3,607.0 722.3,631.2"/><polygon fill="#9c9cd2" fill-opacity="0.234" points="741.1,636.7 712.1,665.2 722.3,631.2"/><polygon fill="#dcdcf2" fill-opacity="0.234" points="684.3,635.5 713.3,607.0 703.1,641.0"/><polygon fill="#b8b8e0" fill-opacity="0.208" points="684.3,635.5 712.1,665.2 703.1,641.0"/><polygon fill="#9494cc" fill-opacity="0.221" points="741.1,636.7 713.3,607.0 703.1,641.0"/><polygon fill="#8c8cc8" fill-opacity="0.247" points="741.1,636.7 712.1,665.2 703.1,641.0"/><polygon fill="#9c9cd2" fill-opacity="0.234" points="742.2,638.0 771.2,609.5 780.2,633.7"/><polygon fill="#9c9cd2" fill-opacity="0.234" points="742.2,638.0 770.0,667.7 780.2,633.7"/><polygon fill="#9c9cd2" fill-opacity="0.234" points="799.0,639.2 771.2,609.5 780.2,633.7"/><polygon fill="#9c9cd2" fill-opacity="0.234" points="799.0,639.2 770.0,667.7 780.2,633.7"/><polygon fill="#dcdcf2" fill-opacity="0.234" points="742.2,638.0 771.2,609.5 761.0,643.5"/><polygon fill="#b8b8e0" fill-opacity="0.208" points="742.2,638.0 770.0,667.7 761.0,643.5"/><polygon fill="#9494cc" fill-opacity="0.221" points="799.0,639.2 771.2,609.5 761.0,643.5"/><polygon fill="#8c8cc8" fill-opacity="0.247" points="799.0,639.2 770.0,667.7 761.0,643.5"/><polygon fill="#9c9cd2" fill-opacity="0.234" points="800.1,640.5 829.1,612.0 838.1,636.2"/><polygon fill="#9c9cd2" fill-opacity="0.234" points="800.1,640.5 827.9,670.2 838.1,636.2"/><polygon fill="#9c9cd2" fill-opacity="0.234" points="856.9,641.7 829.1,612.0 838.1,636.2"/><polygon fill="#9c9cd2" fill-opacity="0.234" points="856.9,641.7 827.9,670.2 838.1,636.2"/><polygon fill="#dcdcf2" fill-opacity="0.234" points="800.1,640.5 829.1,612.0 818.9,646.0"/><polygon fill="#b8b8e0" fill-opacity="0.208" points="800.1,640.5 827.9,670.2 818.9,646.0"/><polygon fill="#9494cc" fill-opacity="0.221" points="856.9,641.7 829.1,612.0 818.9,646.0"/><polygon fill="#8c8cc8" fill-opacity="0.247" points="856.9,641.7 827.9,670.2 818.9,646.0"/><polygon fill="#9c9cd2" fill-opacity="0.234" points="684.3,694.9 713.3,666.4 722.3,690.6"/><polygon fill="#9c9cd2" fill-opacity="0.234" points="684.3,694.9 712.1,724.6 722.3,690.6"/><polygon fill="#9c9cd2" fill-opacity="0.234" points="741.1,696.1 713.3,666.4 722.3,690.6"/><polygon fill="#9c9cd2" fill-opacity="0.234" points="741.1,696.1 712.1,724.6 722.3,690.6"/><polygon fill="#dcdcf2" fill-opacity="0.234" points="684.3,694.9 713.3,666.4 703.1,700.4"/><polygon fill="#b8b8e0" fill-opacity="0.208" points="684.3,694.9 712.1,724.6 703.1,700.4"/><polygon fill="#9494cc" fill-opacity="0.221" points="741.1,696.1 713.3,666.4 703.1,700.4"/><polygon fill="#8c8cc8" fill-opacity="0.247" points="741.1,696.1 712.1,724.6 703.1,700.4"/><polygon fill="#9c9cd2" fill-opacity="0.234" points="742.2,697.4 771.2,668.9 780.2,693.1"/><polygon fill="#9c9cd2" fill-opacity="0.234" points="742.2,697.4 770.0,727.1 780.2,693.1"/><polygon fill="#9c9cd2" fill-opacity="0.234" points="799.0,698.6 771.2,668.9 780.2,693.1"/><polygon fill="#9c9cd2" fill-opacity="0.234" points="799.0,698.6 770.0,727.1 780.2,693.1"/><polygon fill="#dcdcf2" fill-opacity="0.234" points="742.2,697.4 771.2,668.9 761.0,702.9"/><polygon fill="#b8b8e0" fill-opacity="0.208" points="742.2,697.4 770.0,727.1 761.0,702.9"/><polygon fill="#9494cc" fill-opacity="0.221" points="799.0,698.6 771.2,668.9 761.0,702.9"/><polygon fill="#8c8cc8" fill-opacity="0.247" points="799.0,698.6 770.0,727.1 761.0,702.9"/><polygon fill="#9c9cd2" fill-opacity="0.234" points="800.1,699.9 829.1,671.4 838.1,695.6"/><polygon fill="#9c9cd2" fill-opacity="0.234" points="800.1,699.9 827.9,729.6 838.1,695.6"/><polygon fill="#9c9cd2" fill-opacity="0.234" points="856.9,701.1 829.1,671.4 838.1,695.6"/><polygon fill="#9c9cd2" fill-opacity="0.234" points="856.9,701.1 827.9,729.6 838.1,695.6"/><polygon fill="#dcdcf2" fill-opacity="0.234" points="800.1,699.9 829.1,671.4 818.9,705.4"/><polygon fill="#b8b8e0" fill-opacity="0.208" points="800.1,699.9 827.9,729.6 818.9,705.4"/><polygon fill="#9494cc" fill-opacity="0.221" points="856.9,701.1 829.1,671.4 818.9,705.4"/><polygon fill="#8c8cc8" fill-opacity="0.247" points="856.9,701.1 827.9,729.6 818.9,705.4"/><polygon fill="#9c9cd2" fill-opacity="0.234" points="684.3,754.3 713.3,725.8 722.3,750.0"/><polygon fill="#9c9cd2" fill-opacity="0.234" points="684.3,754.3 712.1,784.0 722.3,750.0"/><polygon fill="#9c9cd2" fill-opacity="0.234" points="741.1,755.5 713.3,725.8 722.3,750.0"/><polygon fill="#9c9cd2" fill-opacity="0.234" points="741.1,755.5 712.1,784.0 722.3,750.0"/><polygon fill="#dcdcf2" fill-opacity="0.234" points="684.3,754.3 713.3,725.8 703.1,759.8"/><polygon fill="#b8b8e0" fill-opacity="0.208" points="684.3,754.3 712.1,784.0 703.1,759.8"/><polygon fill="#9494cc" fill-opacity="0.221" points="741.1,755.5 713.3,725.8 703.1,759.8"/><polygon fill="#8c8cc8" fill-opacity="0.247" points="741.1,755.5 712.1,784.0 703.1,759.8"/><polygon fill="#9c9cd2" fill-opacity="0.234" points="742.2,756.8 771.2,728.3 780.2,752.5"/><polygon fill="#9c9cd2" fill-opacity="0.234" points="742.2,756.8 770.0,786.5 780.2,752.5"/><polygon fill="#9c9cd2" fill-opacity="0.234" points="799.0,758.0 771.2,728.3 780.2,752.5"/><polygon fill="#9c9cd2" fill-opacity="0.234" points="799.0,758.0 770.0,786.5 780.2,752.5"/><polygon fill="#dcdcf2" fill-opacity="0.234" points="742.2,756.8 771.2,728.3 761.0,762.3"/><polygon fill="#b8b8e0" fill-opacity="0.208" points="742.2,756.8 770.0,786.5 761.0,762.3"/><polygon fill="#9494cc" fill-opacity="0.221" points="799.0,758.0 771.2,728.3 761.0,762.3"/><polygon fill="#8c8cc8" fill-opacity="0.247" points="799.0,758.0 770.0,786.5 761.0,762.3"/><polygon fill="#9c9cd2" fill-opacity="0.234" points="800.1,759.3 829.1,730.8 838.1,755.0"/><polygon fill="#9c9cd2" fill-opacity="0.234" points="800.1,759.3 827.9,789.0 838.1,755.0"/><polygon fill="#9c9cd2" fill-opacity="0.234" points="856.9,760.5 829.1,730.8 838.1,755.0"/><polygon fill="#9c9cd2" fill-opacity="0.234" points="856.9,760.5 827.9,789.0 838.1,755.0"/><polygon fill="#dcdcf2" fill-opacity="0.234" points="800.1,759.3 829.1,730.8 818.9,764.8"/><polygon fill="#b8b8e0" fill-opacity="0.208" points="800.1,759.3 827.9,789.0 818.9,764.8"/><polygon fill="#9494cc" fill-opacity="0.221" points="856.9,760.5 829.1,730.8 818.9,764.8"/><polygon fill="#8c8cc8" fill-opacity="0.247" points="856.9,760.5 827.9,789.0 818.9,764.8"/><polygon fill="#9c9cd2" fill-opacity="0.234" points="665.2,645.2 694.2,616.8 703.1,641.0"/><polygon fill="#9c9cd2" fill-opacity="0.234" points="665.2,645.2 693.0,675.0 703.1,641.0"/><polygon fill="#9c9cd2" fill-opacity="0.234" points="721.9,646.5 694.2,616.8 703.1,641.0"/><polygon fill="#9c9cd2" fill-opacity="0.234" points="721.9,646.5 693.0,675.0 703.1,641.0"/><polygon fill="#dcdcf2" fill-opacity="0.234" points="665.2,645.2 694.2,616.8 684.0,650.8"/><polygon fill="#b8b8e0" fill-opacity="0.208" points="665.2,645.2 693.0,675.0 684.0,650.8"/><polygon fill="#9494cc" fill-opacity="0.221" points="721.9,646.5 694.2,616.8 684.0,650.8"/><polygon fill="#8c8cc8" fill-opacity="0.247" points="721.9,646.5 693.0,675.0 684.0,650.8"/><polygon fill="#9c9cd2" fill-opacity="0.234" points="723.1,647.7 752.1,619.3 761.0,643.5"/><polygon fill="#9c9cd2" fill-opacity="0.234" points="723.1,647.7 750.9,677.5 761.0,643.5"/><polygon fill="#9c9cd2" fill-opacity="0.234" points="779.8,649.0 752.1,619.3 761.0,643.5"/><polygon fill="#9c9cd2" fill-opacity="0.234" points="779.8,649.0 750.9,677.5 761.0,643.5"/><polygon fill="#dcdcf2" fill-opacity="0.234" points="723.1,647.7 752.1,619.3 741.9,653.3"/><polygon fill="#b8b8e0" fill-opacity="0.208" points="723.1,647.7 750.9,677.5 741.9,653.3"/><polygon fill="#9494cc" fill-opacity="0.221" points="779.8,649.0 752.1,619.3 741.9,653.3"/><polygon fill="#8c8cc8" fill-opacity="0.247" points="779.8,649.0 750.9,677.5 741.9,653.3"/><polygon fill="#9c9cd2" fill-opacity="0.234" points="781.0,650.2 810.0,621.8 818.9,646.0"/><polygon fill="#9c9cd2" fill-opacity="0.234" points="781.0,650.2 808.8,680.0 818.9,646.0"/><polygon fill="#9c9cd2" fill-opacity="0.234" points="837.7,651.5 810.0,621.8 818.9,646.0"/><polygon fill="#9c9cd2" fill-opacity="0.234" points="837.7,651.5 808.8,680.0 818.9,646.0"/><polygon fill="#dcdcf2" fill-opacity="0.234" points="781.0,650.2 810.0,621.8 799.8,655.8"/><polygon fill="#b8b8e0" fill-opacity="0.208" points="781.0,650.2 808.8,680.0 799.8,655.8"/><polygon fill="#9494cc" fill-opacity="0.221" points="837.7,651.5 810.0,621.8 799.8,655.8"/><polygon fill="#8c8cc8" fill-opacity="0.247" points="837.7,651.5 808.8,680.0 799.8,655.8"/><polygon fill="#9c9cd2" fill-opacity="0.234" points="665.2,704.6 694.2,676.2 703.1,700.4"/><polygon fill="#9c9cd2" fill-opacity="0.234" points="665.2,704.6 693.0,734.4 703.1,700.4"/><polygon fill="#9c9cd2" fill-opacity="0.234" points="721.9,705.9 694.2,676.2 703.1,700.4"/><polygon fill="#9c9cd2" fill-opacity="0.234" points="721.9,705.9 693.0,734.4 703.1,700.4"/><polygon fill="#dcdcf2" fill-opacity="0.234" points="665.2,704.6 694.2,676.2 684.0,710.2"/><polygon fill="#b8b8e0" fill-opacity="0.208" points="665.2,704.6 693.0,734.4 684.0,710.2"/><polygon fill="#9494cc" fill-opacity="0.221" points="721.9,705.9 694.2,676.2 684.0,710.2"/><polygon fill="#8c8cc8" fill-opacity="0.247" points="721.9,705.9 693.0,734.4 684.0,710.2"/><polygon fill="#9c9cd2" fill-opacity="0.234" points="723.1,707.1 752.1,678.7 761.0,702.9"/><polygon fill="#9c9cd2" fill-opacity="0.234" points="723.1,707.1 750.9,736.9 761.0,702.9"/><polygon fill="#9c9cd2" fill-opacity="0.234" points="779.8,708.4 752.1,678.7 761.0,702.9"/><polygon fill="#9c9cd2" fill-opacity="0.234" points="779.8,708.4 750.9,736.9 761.0,702.9"/><polygon fill="#dcdcf2" fill-opacity="0.234" points="723.1,707.1 752.1,678.7 741.9,712.7"/><polygon fill="#b8b8e0" fill-opacity="0.208" points="723.1,707.1 750.9,736.9 741.9,712.7"/><polygon fill="#9494cc" fill-opacity="0.221" points="779.8,708.4 752.1,678.7 741.9,712.7"/><polygon fill="#8c8cc8" fill-opacity="0.247" points="779.8,708.4 750.9,736.9 741.9,712.7"/><polygon fill="#9c9cd2" fill-opacity="0.234" points="781.0,709.6 810.0,681.2 818.9,705.4"/><polygon fill="#9c9cd2" fill-opacity="0.234" points="781.0,709.6 808.8,739.4 818.9,705.4"/><polygon fill="#9c9cd2" fill-opacity="0.234" points="837.7,710.9 810.0,681.2 818.9,705.4"/><polygon fill="#9c9cd2" fill-opacity="0.234" points="837.7,710.9 808.8,739.4 818.9,705.4"/><polygon fill="#dcdcf2" fill-opacity="0.234" points="781.0,709.6 810.0,681.2 799.8,715.2"/><polygon fill="#b8b8e0" fill-opacity="0.208" points="781.0,709.6 808.8,739.4 799.8,715.2"/><polygon fill="#9494cc" fill-opacity="0.221" points="837.7,710.9 810.0,681.2 799.8,715.2"/><polygon fill="#8c8cc8" fill-opacity="0.247" points="837.7,710.9 808.8,739.4 799.8,715.2"/><polygon fill="#9c9cd2" fill-opacity="0.234" points="665.2,764.0 694.2,735.6 703.1,759.8"/><polygon fill="#9c9cd2" fill-opacity="0.234" points="665.2,764.0 693.0,793.8 703.1,759.8"/><polygon fill="#9c9cd2" fill-opacity="0.234" points="721.9,765.3 694.2,735.6 703.1,759.8"/><polygon fill="#9c9cd2" fill-opacity="0.234" points="721.9,765.3 693.0,793.8 703.1,759.8"/><polygon fill="#dcdcf2" fill-opacity="0.234" points="665.2,764.0 694.2,735.6 684.0,769.6"/><polygon fill="#b8b8e0" fill-opacity="0.208" points="665.2,764.0 693.0,793.8 684.0,769.6"/><polygon fill="#9494cc" fill-opacity="0.221" points="721.9,765.3 694.2,735.6 684.0,769.6"/><polygon fill="#8c8cc8" fill-opacity="0.247" points="721.9,765.3 693.0,793.8 684.0,769.6"/><polygon fill="#9c9cd2" fill-opacity="0.234" points="723.1,766.5 752.1,738.1 761.0,762.3"/><polygon fill="#9c9cd2" fill-opacity="0.234" points="723.1,766.5 750.9,796.3 761.0,762.3"/><polygon fill="#9c9cd2" fill-opacity="0.234" points="779.8,767.8 752.1,738.1 761.0,762.3"/><polygon fill="#9c9cd2" fill-opacity="0.234" points="779.8,767.8 750.9,796.3 761.0,762.3"/><polygon fill="#dcdcf2" fill-opacity="0.234" points="723.1,766.5 752.1,738.1 741.9,772.1"/><polygon fill="#b8b8e0" fill-opacity="0.208" points="723.1,766.5 750.9,796.3 741.9,772.1"/><polygon fill="#9494cc" fill-opacity="0.221" points="779.8,767.8 752.1,738.1 741.9,772.1"/><polygon fill="#8c8cc8" fill-opacity="0.247" points="779.8,767.8 750.9,796.3 741.9,772.1"/><polygon fill="#9c9cd2" fill-opacity="0.234" points="781.0,769.0 810.0,740.6 818.9,764.8"/><polygon fill="#9c9cd2" fill-opacity="0.234" points="781.0,769.0 808.8,798.8 818.9,764.8"/><polygon fill="#9c9cd2" fill-opacity="0.234" points="837.7,770.3 810.0,740.6 818.9,764.8"/><polygon fill="#9c9cd2" fill-opacity="0.234" points="837.7,770.3 808.8,798.8 818.9,764.8"/><polygon fill="#dcdcf2" fill-opacity="0.234" points="781.0,769.0 810.0,740.6 799.8,774.6"/><polygon fill="#b8b8e0" fill-opacity="0.208" points="781.0,769.0 808.8,798.8 799.8,774.6"/><polygon fill="#9494cc" fill-opacity="0.221" points="837.7,770.3 810.0,740.6 799.8,774.6"/><polygon fill="#8c8cc8" fill-opacity="0.247" points="837.7,770.3 808.8,798.8 799.8,774.6"/></g><circle cx="741.6" cy="621.7" r="4.3" fill="url(#gCl)"/><circle cx="741.6" cy="621.7" r="4.3" fill="#a4a4d4" opacity="0.42"/><circle cx="799.5" cy="624.2" r="4.3" fill="url(#gCl)"/><circle cx="799.5" cy="624.2" r="4.3" fill="#a4a4d4" opacity="0.42"/><circle cx="857.4" cy="626.7" r="4.3" fill="url(#gCl)"/><circle cx="857.4" cy="626.7" r="4.3" fill="#a4a4d4" opacity="0.42"/><circle cx="741.6" cy="681.1" r="4.3" fill="url(#gCl)"/><circle cx="741.6" cy="681.1" r="4.3" fill="#a4a4d4" opacity="0.42"/><circle cx="799.5" cy="683.6" r="4.3" fill="url(#gCl)"/><circle cx="799.5" cy="683.6" r="4.3" fill="#a4a4d4" opacity="0.42"/><circle cx="857.4" cy="686.1" r="4.3" fill="url(#gCl)"/><circle cx="857.4" cy="686.1" r="4.3" fill="#a4a4d4" opacity="0.42"/><circle cx="741.6" cy="740.5" r="4.3" fill="url(#gCl)"/><circle cx="741.6" cy="740.5" r="4.3" fill="#a4a4d4" opacity="0.42"/><circle cx="799.5" cy="743.0" r="4.3" fill="url(#gCl)"/><circle cx="799.5" cy="743.0" r="4.3" fill="#a4a4d4" opacity="0.42"/><circle cx="857.4" cy="745.5" r="4.3" fill="url(#gCl)"/><circle cx="857.4" cy="745.5" r="4.3" fill="#a4a4d4" opacity="0.42"/><circle cx="732.0" cy="626.5" r="7.3" fill="url(#gPb)"/><circle cx="732.0" cy="626.5" r="7.3" fill="#a4a4d4" opacity="0.36"/><circle cx="761.0" cy="627.8" r="4.3" fill="url(#gCl)"/><circle cx="761.0" cy="627.8" r="4.3" fill="#a4a4d4" opacity="0.40"/><circle cx="703.0" cy="625.2" r="4.3" fill="url(#gCl)"/><circle cx="703.0" cy="625.2" r="4.3" fill="#a4a4d4" opacity="0.40"/><circle cx="732.0" cy="656.2" r="4.3" fill="url(#gCl)"/><circle cx="732.0" cy="656.2" r="4.3" fill="#a4a4d4" opacity="0.30"/><circle cx="732.0" cy="596.8" r="4.3" fill="url(#gCl)"/><circle cx="732.0" cy="596.8" r="4.3" fill="#fff" opacity="0.3"/><circle cx="789.9" cy="629.0" r="7.3" fill="url(#gPb)"/><circle cx="789.9" cy="629.0" r="7.3" fill="#a4a4d4" opacity="0.36"/><circle cx="818.9" cy="630.2" r="4.3" fill="url(#gCl)"/><circle cx="818.9" cy="630.2" r="4.3" fill="#a4a4d4" opacity="0.40"/><circle cx="789.9" cy="658.7" r="4.3" fill="url(#gCl)"/><circle cx="789.9" cy="658.7" r="4.3" fill="#a4a4d4" opacity="0.30"/><circle cx="789.9" cy="599.3" r="4.3" fill="url(#gCl)"/><circle cx="789.9" cy="599.3" r="4.3" fill="#fff" opacity="0.3"/><circle cx="847.8" cy="631.5" r="7.3" fill="url(#gPb)"/><circle cx="847.8" cy="631.5" r="7.3" fill="#a4a4d4" opacity="0.36"/><circle cx="876.8" cy="632.8" r="4.3" fill="url(#gCl)"/><circle cx="876.8" cy="632.8" r="4.3" fill="#a4a4d4" opacity="0.08"/><circle cx="876.8" cy="632.8" r="4.3" fill="#fff" opacity="0.3"/><circle cx="847.8" cy="661.2" r="4.3" fill="url(#gCl)"/><circle cx="847.8" cy="661.2" r="4.3" fill="#a4a4d4" opacity="0.30"/><circle cx="847.8" cy="601.8" r="4.3" fill="url(#gCl)"/><circle cx="847.8" cy="601.8" r="4.3" fill="#fff" opacity="0.3"/><circle cx="732.0" cy="685.9" r="7.3" fill="url(#gPb)"/><circle cx="732.0" cy="685.9" r="7.3" fill="#a4a4d4" opacity="0.36"/><circle cx="761.0" cy="687.1" r="4.3" fill="url(#gCl)"/><circle cx="761.0" cy="687.1" r="4.3" fill="#a4a4d4" opacity="0.40"/><circle cx="703.0" cy="684.6" r="4.3" fill="url(#gCl)"/><circle cx="703.0" cy="684.6" r="4.3" fill="#a4a4d4" opacity="0.40"/><circle cx="732.0" cy="715.6" r="4.3" fill="url(#gCl)"/><circle cx="732.0" cy="715.6" r="4.3" fill="#a4a4d4" opacity="0.30"/><circle cx="789.9" cy="688.4" r="7.3" fill="url(#gPb)"/><circle cx="789.9" cy="688.4" r="7.3" fill="#a4a4d4" opacity="0.36"/><circle cx="818.9" cy="689.6" r="4.3" fill="url(#gCl)"/><circle cx="818.9" cy="689.6" r="4.3" fill="#a4a4d4" opacity="0.40"/><circle cx="789.9" cy="718.1" r="4.3" fill="url(#gCl)"/><circle cx="789.9" cy="718.1" r="4.3" fill="#a4a4d4" opacity="0.30"/><circle cx="847.8" cy="690.9" r="7.3" fill="url(#gPb)"/><circle cx="847.8" cy="690.9" r="7.3" fill="#a4a4d4" opacity="0.36"/><circle cx="876.8" cy="692.1" r="4.3" fill="url(#gCl)"/><circle cx="876.8" cy="692.1" r="4.3" fill="#a4a4d4" opacity="0.08"/><circle cx="876.8" cy="692.1" r="4.3" fill="#fff" opacity="0.3"/><circle cx="847.8" cy="720.6" r="4.3" fill="url(#gCl)"/><circle cx="847.8" cy="720.6" r="4.3" fill="#a4a4d4" opacity="0.30"/><circle cx="732.0" cy="745.3" r="7.3" fill="url(#gPb)"/><circle cx="732.0" cy="745.3" r="7.3" fill="#a4a4d4" opacity="0.36"/><circle cx="761.0" cy="746.5" r="4.3" fill="url(#gCl)"/><circle cx="761.0" cy="746.5" r="4.3" fill="#a4a4d4" opacity="0.40"/><circle cx="703.0" cy="744.0" r="4.3" fill="url(#gCl)"/><circle cx="703.0" cy="744.0" r="4.3" fill="#a4a4d4" opacity="0.40"/><circle cx="732.0" cy="775.0" r="4.3" fill="url(#gCl)"/><circle cx="732.0" cy="775.0" r="4.3" fill="#fff" opacity="0.3"/><circle cx="789.9" cy="747.8" r="7.3" fill="url(#gPb)"/><circle cx="789.9" cy="747.8" r="7.3" fill="#a4a4d4" opacity="0.36"/><circle cx="818.9" cy="749.0" r="4.3" fill="url(#gCl)"/><circle cx="818.9" cy="749.0" r="4.3" fill="#a4a4d4" opacity="0.40"/><circle cx="789.9" cy="777.5" r="4.3" fill="url(#gCl)"/><circle cx="789.9" cy="777.5" r="4.3" fill="#fff" opacity="0.3"/><circle cx="847.8" cy="750.3" r="7.3" fill="url(#gPb)"/><circle cx="847.8" cy="750.3" r="7.3" fill="#a4a4d4" opacity="0.36"/><circle cx="876.8" cy="751.5" r="4.3" fill="url(#gCl)"/><circle cx="876.8" cy="751.5" r="4.3" fill="#a4a4d4" opacity="0.08"/><circle cx="876.8" cy="751.5" r="4.3" fill="#fff" opacity="0.3"/><circle cx="847.8" cy="780.0" r="4.3" fill="url(#gCl)"/><circle cx="847.8" cy="780.0" r="4.3" fill="#fff" opacity="0.3"/><circle cx="722.4" cy="631.3" r="4.3" fill="url(#gCl)"/><circle cx="722.4" cy="631.3" r="4.3" fill="#a4a4d4" opacity="0.30"/><circle cx="780.2" cy="633.8" r="4.3" fill="url(#gCl)"/><circle cx="780.2" cy="633.8" r="4.3" fill="#a4a4d4" opacity="0.30"/><circle cx="838.1" cy="636.3" r="4.3" fill="url(#gCl)"/><circle cx="838.1" cy="636.3" r="4.3" fill="#a4a4d4" opacity="0.30"/><circle cx="722.4" cy="690.7" r="4.3" fill="url(#gCl)"/><circle cx="722.4" cy="690.7" r="4.3" fill="#a4a4d4" opacity="0.30"/><circle cx="780.2" cy="693.2" r="4.3" fill="url(#gCl)"/><circle cx="780.2" cy="693.2" r="4.3" fill="#a4a4d4" opacity="0.30"/><circle cx="838.1" cy="695.7" r="4.3" fill="url(#gCl)"/><circle cx="838.1" cy="695.7" r="4.3" fill="#a4a4d4" opacity="0.30"/><circle cx="722.4" cy="750.1" r="4.3" fill="url(#gCl)"/><circle cx="722.4" cy="750.1" r="4.3" fill="#a4a4d4" opacity="0.30"/><circle cx="780.2" cy="752.6" r="4.3" fill="url(#gCl)"/><circle cx="780.2" cy="752.6" r="4.3" fill="#a4a4d4" opacity="0.30"/><circle cx="838.1" cy="755.1" r="4.3" fill="url(#gCl)"/><circle cx="838.1" cy="755.1" r="4.3" fill="#a4a4d4" opacity="0.30"/><circle cx="712.7" cy="636.1" r="7.3" fill="url(#gPb)"/><circle cx="712.7" cy="636.1" r="7.3" fill="#a4a4d4" opacity="0.22"/><circle cx="741.6" cy="637.4" r="4.3" fill="url(#gCl)"/><circle cx="741.6" cy="637.4" r="4.3" fill="#a4a4d4" opacity="0.40"/><circle cx="683.7" cy="634.9" r="4.3" fill="url(#gCl)"/><circle cx="683.7" cy="634.9" r="4.3" fill="#a4a4d4" opacity="0.40"/><circle cx="712.7" cy="665.8" r="4.3" fill="url(#gCl)"/><circle cx="712.7" cy="606.4" r="4.3" fill="url(#gCl)"/><circle cx="770.6" cy="638.6" r="7.3" fill="url(#gPb)"/><circle cx="770.6" cy="638.6" r="7.3" fill="#a4a4d4" opacity="0.22"/><circle cx="799.5" cy="639.9" r="4.3" fill="url(#gCl)"/><circle cx="799.5" cy="639.9" r="4.3" fill="#a4a4d4" opacity="0.40"/><circle cx="770.6" cy="668.3" r="4.9" fill="#fff" stroke="#1a1a1a" stroke-width="2.3"/><circle cx="770.6" cy="608.9" r="4.3" fill="url(#gCl)"/><circle cx="828.5" cy="641.1" r="8.6" fill="url(#gBa)"/><circle cx="828.5" cy="641.1" r="8.6" fill="#a4a4d4" opacity="0.12"/><circle cx="857.4" cy="642.4" r="4.3" fill="url(#gCl)"/><circle cx="857.4" cy="642.4" r="4.3" fill="#a4a4d4" opacity="0.08"/><circle cx="828.5" cy="670.8" r="4.9" fill="#fff" stroke="#1a1a1a" stroke-width="2.3"/><circle cx="828.5" cy="611.4" r="4.3" fill="url(#gCl)"/><circle cx="712.7" cy="695.5" r="7.3" fill="url(#gPb)"/><circle cx="712.7" cy="695.5" r="7.3" fill="#a4a4d4" opacity="0.22"/><circle cx="741.6" cy="696.8" r="4.3" fill="url(#gCl)"/><circle cx="741.6" cy="696.8" r="4.3" fill="#a4a4d4" opacity="0.40"/><circle cx="683.7" cy="694.2" r="4.3" fill="url(#gCl)"/><circle cx="683.7" cy="694.2" r="4.3" fill="#a4a4d4" opacity="0.40"/><circle cx="712.7" cy="725.2" r="4.3" fill="url(#gCl)"/><circle cx="770.6" cy="698.0" r="8.6" fill="url(#gBa)"/><circle cx="770.6" cy="698.0" r="8.6" fill="#a4a4d4" opacity="0.12"/><circle cx="799.5" cy="699.2" r="4.3" fill="url(#gCl)"/><circle cx="799.5" cy="699.2" r="4.3" fill="#a4a4d4" opacity="0.40"/><circle cx="770.6" cy="727.7" r="4.3" fill="url(#gCl)"/><circle cx="828.5" cy="700.5" r="7.3" fill="url(#gPb)"/><circle cx="828.5" cy="700.5" r="7.3" fill="#a4a4d4" opacity="0.22"/><circle cx="857.4" cy="701.8" r="4.3" fill="url(#gCl)"/><circle cx="857.4" cy="701.8" r="4.3" fill="#a4a4d4" opacity="0.08"/><circle cx="828.5" cy="730.2" r="4.3" fill="url(#gCl)"/><circle cx="712.7" cy="754.9" r="7.3" fill="url(#gPb)"/><circle cx="712.7" cy="754.9" r="7.3" fill="#a4a4d4" opacity="0.22"/><circle cx="741.6" cy="756.1" r="4.3" fill="url(#gCl)"/><circle cx="741.6" cy="756.1" r="4.3" fill="#a4a4d4" opacity="0.40"/><circle cx="683.7" cy="753.6" r="4.3" fill="url(#gCl)"/><circle cx="683.7" cy="753.6" r="4.3" fill="#a4a4d4" opacity="0.40"/><circle cx="712.7" cy="784.6" r="4.3" fill="url(#gCl)"/><circle cx="770.6" cy="757.4" r="7.3" fill="url(#gPb)"/><circle cx="770.6" cy="757.4" r="7.3" fill="#a4a4d4" opacity="0.22"/><circle cx="799.5" cy="758.6" r="4.3" fill="url(#gCl)"/><circle cx="799.5" cy="758.6" r="4.3" fill="#a4a4d4" opacity="0.40"/><circle cx="770.6" cy="787.1" r="4.3" fill="url(#gCl)"/><circle cx="828.5" cy="759.9" r="7.3" fill="url(#gPb)"/><circle cx="828.5" cy="759.9" r="7.3" fill="#a4a4d4" opacity="0.22"/><circle cx="857.4" cy="761.1" r="4.9" fill="#fff" stroke="#1a1a1a" stroke-width="2.3"/><circle cx="828.5" cy="789.6" r="4.3" fill="url(#gCl)"/><circle cx="703.0" cy="640.9" r="4.3" fill="url(#gCl)"/><circle cx="703.0" cy="640.9" r="4.3" fill="#a4a4d4" opacity="0.12"/><circle cx="760.9" cy="643.4" r="4.3" fill="url(#gCl)"/><circle cx="760.9" cy="643.4" r="4.3" fill="#a4a4d4" opacity="0.12"/><circle cx="818.8" cy="645.9" r="4.3" fill="url(#gCl)"/><circle cx="818.8" cy="645.9" r="4.3" fill="#a4a4d4" opacity="0.12"/><circle cx="703.0" cy="700.3" r="4.3" fill="url(#gCl)"/><circle cx="703.0" cy="700.3" r="4.3" fill="#a4a4d4" opacity="0.12"/><circle cx="760.9" cy="702.8" r="4.9" fill="#fff" stroke="#1a1a1a" stroke-width="2.3"/><circle cx="818.8" cy="705.3" r="4.3" fill="url(#gCl)"/><circle cx="818.8" cy="705.3" r="4.3" fill="#a4a4d4" opacity="0.12"/><circle cx="703.0" cy="759.7" r="4.3" fill="url(#gCl)"/><circle cx="703.0" cy="759.7" r="4.3" fill="#a4a4d4" opacity="0.12"/><circle cx="760.9" cy="762.2" r="4.3" fill="url(#gCl)"/><circle cx="760.9" cy="762.2" r="4.3" fill="#a4a4d4" opacity="0.12"/><circle cx="818.8" cy="764.7" r="4.3" fill="url(#gCl)"/><circle cx="818.8" cy="764.7" r="4.3" fill="#a4a4d4" opacity="0.12"/><circle cx="693.4" cy="645.7" r="7.3" fill="url(#gPb)"/><circle cx="722.4" cy="647.0" r="4.3" fill="url(#gCl)"/><circle cx="664.4" cy="644.5" r="4.3" fill="url(#gCl)"/><circle cx="664.4" cy="644.5" r="4.3" fill="#fff" opacity="0.3"/><circle cx="693.4" cy="675.4" r="4.3" fill="url(#gCl)"/><circle cx="693.4" cy="616.0" r="4.3" fill="url(#gCl)"/><circle cx="751.3" cy="648.2" r="7.3" fill="url(#gPb)"/><circle cx="780.2" cy="649.5" r="4.3" fill="url(#gCl)"/><circle cx="751.3" cy="677.9" r="4.3" fill="url(#gCl)"/><circle cx="751.3" cy="618.5" r="4.3" fill="url(#gCl)"/><circle cx="809.2" cy="650.7" r="7.3" fill="url(#gPb)"/><circle cx="838.1" cy="652.0" r="4.3" fill="url(#gCl)"/><circle cx="809.2" cy="680.4" r="4.3" fill="url(#gCl)"/><circle cx="809.2" cy="621.0" r="4.3" fill="url(#gCl)"/><circle cx="693.4" cy="705.1" r="7.3" fill="url(#gPb)"/><circle cx="722.4" cy="706.4" r="4.3" fill="url(#gCl)"/><circle cx="664.4" cy="703.9" r="4.3" fill="url(#gCl)"/><circle cx="664.4" cy="703.9" r="4.3" fill="#fff" opacity="0.3"/><circle cx="693.4" cy="734.8" r="4.3" fill="url(#gCl)"/><circle cx="751.3" cy="707.6" r="7.3" fill="url(#gPb)"/><circle cx="780.2" cy="708.9" r="4.3" fill="url(#gCl)"/><circle cx="751.3" cy="737.3" r="4.3" fill="url(#gCl)"/><circle cx="809.2" cy="710.1" r="7.3" fill="url(#gPb)"/><circle cx="838.1" cy="711.4" r="4.3" fill="url(#gCl)"/><circle cx="809.2" cy="739.8" r="4.3" fill="url(#gCl)"/><circle cx="693.4" cy="764.5" r="8.6" fill="url(#gBa)"/><circle cx="722.4" cy="765.8" r="4.9" fill="#fff" stroke="#1a1a1a" stroke-width="2.3"/><circle cx="664.4" cy="763.2" r="4.3" fill="url(#gCl)"/><circle cx="664.4" cy="763.2" r="4.3" fill="#fff" opacity="0.3"/><circle cx="693.4" cy="794.2" r="4.3" fill="url(#gCl)"/><circle cx="693.4" cy="794.2" r="4.3" fill="#fff" opacity="0.3"/><circle cx="751.3" cy="767.0" r="7.3" fill="url(#gPb)"/><circle cx="780.2" cy="768.2" r="4.3" fill="url(#gCl)"/><circle cx="751.3" cy="796.7" r="4.3" fill="url(#gCl)"/><circle cx="751.3" cy="796.7" r="4.3" fill="#fff" opacity="0.3"/><circle cx="809.2" cy="769.5" r="7.3" fill="url(#gPb)"/><circle cx="838.1" cy="770.8" r="4.3" fill="url(#gCl)"/><circle cx="809.2" cy="799.2" r="4.3" fill="url(#gCl)"/><circle cx="809.2" cy="799.2" r="4.3" fill="#fff" opacity="0.3"/><circle cx="683.8" cy="650.5" r="4.3" fill="url(#gCl)"/><circle cx="741.6" cy="653.0" r="4.3" fill="url(#gCl)"/><circle cx="799.5" cy="655.5" r="4.3" fill="url(#gCl)"/><circle cx="683.8" cy="709.9" r="4.3" fill="url(#gCl)"/><circle cx="741.6" cy="712.4" r="4.3" fill="url(#gCl)"/><circle cx="799.5" cy="714.9" r="4.3" fill="url(#gCl)"/><circle cx="683.8" cy="769.3" r="4.3" fill="url(#gCl)"/><circle cx="741.6" cy="771.8" r="4.3" fill="url(#gCl)"/><circle cx="799.5" cy="774.3" r="4.3" fill="url(#gCl)"/>
<g><polygon fill="#9c9cd2" fill-opacity="0.252" points="381.3,113.8 411.1,84.5 421.3,110.4"/><polygon fill="#9c9cd2" fill-opacity="0.252" points="381.3,113.8 411.1,146.0 421.3,110.4"/><polygon fill="#9c9cd2" fill-opacity="0.252" points="440.9,116.7 411.1,84.5 421.3,110.4"/><polygon fill="#9c9cd2" fill-opacity="0.252" points="440.9,116.7 411.1,146.0 421.3,110.4"/><polygon fill="#dcdcf2" fill-opacity="0.252" points="381.3,113.8 411.1,84.5 400.9,120.1"/><polygon fill="#b8b8e0" fill-opacity="0.224" points="381.3,113.8 411.1,146.0 400.9,120.1"/><polygon fill="#9494cc" fill-opacity="0.238" points="440.9,116.7 411.1,84.5 400.9,120.1"/><polygon fill="#8c8cc8" fill-opacity="0.266" points="440.9,116.7 411.1,146.0 400.9,120.1"/><polygon fill="#9c9cd2" fill-opacity="0.252" points="440.9,116.7 470.7,87.4 480.9,113.3"/><polygon fill="#9c9cd2" fill-opacity="0.252" points="440.9,116.7 470.7,148.9 480.9,113.3"/><polygon fill="#9c9cd2" fill-opacity="0.252" points="500.5,119.5 470.7,87.4 480.9,113.3"/><polygon fill="#9c9cd2" fill-opacity="0.252" points="500.5,119.5 470.7,148.9 480.9,113.3"/><polygon fill="#dcdcf2" fill-opacity="0.252" points="440.9,116.7 470.7,87.4 460.5,123.0"/><polygon fill="#b8b8e0" fill-opacity="0.224" points="440.9,116.7 470.7,148.9 460.5,123.0"/><polygon fill="#9494cc" fill-opacity="0.238" points="500.5,119.5 470.7,87.4 460.5,123.0"/><polygon fill="#8c8cc8" fill-opacity="0.266" points="500.5,119.5 470.7,148.9 460.5,123.0"/><polygon fill="#9c9cd2" fill-opacity="0.252" points="381.3,175.2 411.1,146.0 421.3,171.8"/><polygon fill="#9c9cd2" fill-opacity="0.252" points="381.3,175.2 411.1,207.5 421.3,171.8"/><polygon fill="#9c9cd2" fill-opacity="0.252" points="440.9,178.2 411.1,146.0 421.3,171.8"/><polygon fill="#9c9cd2" fill-opacity="0.252" points="440.9,178.2 411.1,207.5 421.3,171.8"/><polygon fill="#dcdcf2" fill-opacity="0.252" points="381.3,175.2 411.1,146.0 400.9,181.6"/><polygon fill="#b8b8e0" fill-opacity="0.224" points="381.3,175.2 411.1,207.5 400.9,181.6"/><polygon fill="#9494cc" fill-opacity="0.238" points="440.9,178.2 411.1,146.0 400.9,181.6"/><polygon fill="#8c8cc8" fill-opacity="0.266" points="440.9,178.2 411.1,207.5 400.9,181.6"/><polygon fill="#9c9cd2" fill-opacity="0.252" points="440.9,178.2 470.7,148.9 480.9,174.8"/><polygon fill="#9c9cd2" fill-opacity="0.252" points="440.9,178.2 470.7,210.4 480.9,174.8"/><polygon fill="#9c9cd2" fill-opacity="0.252" points="500.5,181.1 470.7,148.9 480.9,174.8"/><polygon fill="#9c9cd2" fill-opacity="0.252" points="500.5,181.1 470.7,210.4 480.9,174.8"/><polygon fill="#dcdcf2" fill-opacity="0.252" points="440.9,178.2 470.7,148.9 460.5,184.5"/><polygon fill="#b8b8e0" fill-opacity="0.224" points="440.9,178.2 470.7,210.4 460.5,184.5"/><polygon fill="#9494cc" fill-opacity="0.238" points="500.5,181.1 470.7,148.9 460.5,184.5"/><polygon fill="#8c8cc8" fill-opacity="0.266" points="500.5,181.1 470.7,210.4 460.5,184.5"/><polygon fill="#9c9cd2" fill-opacity="0.252" points="360.9,123.5 390.7,94.2 400.9,120.1"/><polygon fill="#9c9cd2" fill-opacity="0.252" points="360.9,123.5 390.7,155.7 400.9,120.1"/><polygon fill="#9c9cd2" fill-opacity="0.252" points="420.5,126.4 390.7,94.2 400.9,120.1"/><polygon fill="#9c9cd2" fill-opacity="0.252" points="420.5,126.4 390.7,155.7 400.9,120.1"/><polygon fill="#dcdcf2" fill-opacity="0.252" points="360.9,123.5 390.7,94.2 380.5,129.8"/><polygon fill="#b8b8e0" fill-opacity="0.224" points="360.9,123.5 390.7,155.7 380.5,129.8"/><polygon fill="#9494cc" fill-opacity="0.238" points="420.5,126.4 390.7,94.2 380.5,129.8"/><polygon fill="#8c8cc8" fill-opacity="0.266" points="420.5,126.4 390.7,155.7 380.5,129.8"/><polygon fill="#9c9cd2" fill-opacity="0.252" points="420.5,126.4 450.3,97.1 460.5,123.0"/><polygon fill="#9c9cd2" fill-opacity="0.252" points="420.5,126.4 450.3,158.6 460.5,123.0"/><polygon fill="#9c9cd2" fill-opacity="0.252" points="480.1,129.2 450.3,97.1 460.5,123.0"/><polygon fill="#9c9cd2" fill-opacity="0.252" points="480.1,129.2 450.3,158.6 460.5,123.0"/><polygon fill="#dcdcf2" fill-opacity="0.252" points="420.5,126.4 450.3,97.1 440.1,132.7"/><polygon fill="#b8b8e0" fill-opacity="0.224" points="420.5,126.4 450.3,158.6 440.1,132.7"/><polygon fill="#9494cc" fill-opacity="0.238" points="480.1,129.2 450.3,97.1 440.1,132.7"/><polygon fill="#8c8cc8" fill-opacity="0.266" points="480.1,129.2 450.3,158.6 440.1,132.7"/><polygon fill="#9c9cd2" fill-opacity="0.252" points="360.9,184.9 390.7,155.7 400.9,181.6"/><polygon fill="#9c9cd2" fill-opacity="0.252" points="360.9,184.9 390.7,217.2 400.9,181.6"/><polygon fill="#9c9cd2" fill-opacity="0.252" points="420.5,187.9 390.7,155.7 400.9,181.6"/><polygon fill="#9c9cd2" fill-opacity="0.252" points="420.5,187.9 390.7,217.2 400.9,181.6"/><polygon fill="#dcdcf2" fill-opacity="0.252" points="360.9,184.9 390.7,155.7 380.5,191.2"/><polygon fill="#b8b8e0" fill-opacity="0.224" points="360.9,184.9 390.7,217.2 380.5,191.2"/><polygon fill="#9494cc" fill-opacity="0.238" points="420.5,187.9 390.7,155.7 380.5,191.2"/><polygon fill="#8c8cc8" fill-opacity="0.266" points="420.5,187.9 390.7,217.2 380.5,191.2"/><polygon fill="#9c9cd2" fill-opacity="0.252" points="420.5,187.9 450.3,158.6 460.5,184.5"/><polygon fill="#9c9cd2" fill-opacity="0.252" points="420.5,187.9 450.3,220.1 460.5,184.5"/><polygon fill="#9c9cd2" fill-opacity="0.252" points="480.1,190.8 450.3,158.6 460.5,184.5"/><polygon fill="#9c9cd2" fill-opacity="0.252" points="480.1,190.8 450.3,220.1 460.5,184.5"/><polygon fill="#dcdcf2" fill-opacity="0.252" points="420.5,187.9 450.3,158.6 440.1,194.2"/><polygon fill="#b8b8e0" fill-opacity="0.224" points="420.5,187.9 450.3,220.1 440.1,194.2"/><polygon fill="#9494cc" fill-opacity="0.238" points="480.1,190.8 450.3,158.6 440.1,194.2"/><polygon fill="#8c8cc8" fill-opacity="0.266" points="480.1,190.8 450.3,220.1 440.1,194.2"/></g><circle cx="421.3" cy="110.4" r="4.3" fill="url(#gCl)"/><circle cx="421.3" cy="110.4" r="4.3" fill="#a4a4d4" opacity="0.42"/><circle cx="480.9" cy="113.3" r="4.3" fill="url(#gCl)"/><circle cx="480.9" cy="113.3" r="4.3" fill="#a4a4d4" opacity="0.42"/><circle cx="421.3" cy="171.8" r="4.3" fill="url(#gCl)"/><circle cx="421.3" cy="171.8" r="4.3" fill="#a4a4d4" opacity="0.42"/><circle cx="480.9" cy="174.8" r="4.3" fill="url(#gCl)"/><circle cx="480.9" cy="174.8" r="4.3" fill="#a4a4d4" opacity="0.42"/><circle cx="411.1" cy="115.2" r="7.3" fill="url(#gPb)"/><circle cx="411.1" cy="115.2" r="7.3" fill="#a4a4d4" opacity="0.28"/><circle cx="440.9" cy="116.7" r="4.3" fill="url(#gCl)"/><circle cx="440.9" cy="116.7" r="4.3" fill="#a4a4d4" opacity="0.40"/><circle cx="381.3" cy="113.8" r="4.3" fill="url(#gCl)"/><circle cx="381.3" cy="113.8" r="4.3" fill="#a4a4d4" opacity="0.40"/><circle cx="411.1" cy="146.0" r="4.3" fill="url(#gCl)"/><circle cx="411.1" cy="84.5" r="4.3" fill="url(#gCl)"/><circle cx="470.7" cy="118.1" r="7.3" fill="url(#gPb)"/><circle cx="470.7" cy="118.1" r="7.3" fill="#a4a4d4" opacity="0.28"/><circle cx="500.5" cy="119.5" r="4.3" fill="url(#gCl)"/><circle cx="500.5" cy="119.5" r="4.3" fill="#a4a4d4" opacity="0.08"/><circle cx="470.7" cy="148.9" r="4.3" fill="url(#gCl)"/><circle cx="470.7" cy="87.4" r="4.3" fill="url(#gCl)"/><circle cx="411.1" cy="176.7" r="7.3" fill="url(#gPb)"/><circle cx="411.1" cy="176.7" r="7.3" fill="#a4a4d4" opacity="0.28"/><circle cx="440.9" cy="178.2" r="4.3" fill="url(#gCl)"/><circle cx="440.9" cy="178.2" r="4.3" fill="#a4a4d4" opacity="0.40"/><circle cx="381.3" cy="175.2" r="4.3" fill="url(#gCl)"/><circle cx="381.3" cy="175.2" r="4.3" fill="#a4a4d4" opacity="0.40"/><circle cx="411.1" cy="207.5" r="4.3" fill="url(#gCl)"/><circle cx="470.7" cy="179.6" r="7.3" fill="url(#gPb)"/><circle cx="470.7" cy="179.6" r="7.3" fill="#a4a4d4" opacity="0.28"/><circle cx="500.5" cy="181.1" r="4.3" fill="url(#gCl)"/><circle cx="500.5" cy="181.1" r="4.3" fill="#a4a4d4" opacity="0.08"/><circle cx="470.7" cy="210.4" r="4.3" fill="url(#gCl)"/><circle cx="400.9" cy="120.1" r="4.3" fill="url(#gCl)"/><circle cx="400.9" cy="120.1" r="4.3" fill="#a4a4d4" opacity="0.35"/><circle cx="460.5" cy="123.0" r="4.3" fill="url(#gCl)"/><circle cx="460.5" cy="123.0" r="4.3" fill="#a4a4d4" opacity="0.35"/><circle cx="400.9" cy="181.6" r="4.3" fill="url(#gCl)"/><circle cx="400.9" cy="181.6" r="4.3" fill="#a4a4d4" opacity="0.35"/><circle cx="460.5" cy="184.5" r="4.3" fill="url(#gCl)"/><circle cx="460.5" cy="184.5" r="4.3" fill="#a4a4d4" opacity="0.35"/><circle cx="390.7" cy="124.9" r="7.3" fill="url(#gPb)"/><circle cx="420.5" cy="126.4" r="4.3" fill="url(#gCl)"/><circle cx="360.9" cy="123.5" r="4.3" fill="url(#gCl)"/><circle cx="390.7" cy="155.7" r="4.3" fill="url(#gCl)"/><circle cx="390.7" cy="94.2" r="4.3" fill="url(#gCl)"/><circle cx="450.3" cy="127.8" r="7.3" fill="url(#gPb)"/><circle cx="480.1" cy="129.2" r="4.3" fill="url(#gCl)"/><circle cx="450.3" cy="158.6" r="4.3" fill="url(#gCl)"/><circle cx="450.3" cy="97.1" r="4.3" fill="url(#gCl)"/><circle cx="390.7" cy="186.4" r="7.3" fill="url(#gPb)"/><circle cx="420.5" cy="187.9" r="4.3" fill="url(#gCl)"/><circle cx="360.9" cy="184.9" r="4.3" fill="url(#gCl)"/><circle cx="390.7" cy="217.2" r="4.3" fill="url(#gCl)"/><circle cx="450.3" cy="189.3" r="7.3" fill="url(#gPb)"/><circle cx="480.1" cy="190.8" r="4.3" fill="url(#gCl)"/><circle cx="450.3" cy="220.1" r="4.3" fill="url(#gCl)"/><circle cx="380.5" cy="129.8" r="4.3" fill="url(#gCl)"/><circle cx="440.1" cy="132.7" r="4.3" fill="url(#gCl)"/><circle cx="380.5" cy="191.2" r="4.3" fill="url(#gCl)"/><circle cx="440.1" cy="194.2" r="4.3" fill="url(#gCl)"/>
<g><polygon fill="#9c9cd2" fill-opacity="0.252" points="379.5,389.0 409.2,359.3 419.2,385.9"/><polygon fill="#9c9cd2" fill-opacity="0.252" points="379.5,389.0 409.2,421.8 419.2,385.9"/><polygon fill="#9c9cd2" fill-opacity="0.252" points="438.9,392.2 409.2,359.3 419.2,385.9"/><polygon fill="#9c9cd2" fill-opacity="0.252" points="438.9,392.2 409.2,421.8 419.2,385.9"/><polygon fill="#dcdcf2" fill-opacity="0.252" points="379.5,389.0 409.2,359.3 399.2,395.2"/><polygon fill="#b8b8e0" fill-opacity="0.224" points="379.5,389.0 409.2,421.8 399.2,395.2"/><polygon fill="#9494cc" fill-opacity="0.238" points="438.9,392.2 409.2,359.3 399.2,395.2"/><polygon fill="#8c8cc8" fill-opacity="0.266" points="438.9,392.2 409.2,421.8 399.2,395.2"/><polygon fill="#9c9cd2" fill-opacity="0.252" points="438.9,392.2 468.6,362.5 478.6,389.1"/><polygon fill="#9c9cd2" fill-opacity="0.252" points="438.9,392.2 468.6,425.0 478.6,389.1"/><polygon fill="#9c9cd2" fill-opacity="0.252" points="498.3,395.4 468.6,362.5 478.6,389.1"/><polygon fill="#9c9cd2" fill-opacity="0.252" points="498.3,395.4 468.6,425.0 478.6,389.1"/><polygon fill="#dcdcf2" fill-opacity="0.252" points="438.9,392.2 468.6,362.5 458.6,398.4"/><polygon fill="#b8b8e0" fill-opacity="0.224" points="438.9,392.2 468.6,425.0 458.6,398.4"/><polygon fill="#9494cc" fill-opacity="0.238" points="498.3,395.4 468.6,362.5 458.6,398.4"/><polygon fill="#8c8cc8" fill-opacity="0.266" points="498.3,395.4 468.6,425.0 458.6,398.4"/><polygon fill="#9c9cd2" fill-opacity="0.252" points="379.5,451.5 409.2,421.8 419.2,448.4"/><polygon fill="#9c9cd2" fill-opacity="0.252" points="379.5,451.5 409.2,484.3 419.2,448.4"/><polygon fill="#9c9cd2" fill-opacity="0.252" points="438.9,454.7 409.2,421.8 419.2,448.4"/><polygon fill="#9c9cd2" fill-opacity="0.252" points="438.9,454.7 409.2,484.3 419.2,448.4"/><polygon fill="#dcdcf2" fill-opacity="0.252" points="379.5,451.5 409.2,421.8 399.2,457.8"/><polygon fill="#b8b8e0" fill-opacity="0.224" points="379.5,451.5 409.2,484.3 399.2,457.8"/><polygon fill="#9494cc" fill-opacity="0.238" points="438.9,454.7 409.2,421.8 399.2,457.8"/><polygon fill="#8c8cc8" fill-opacity="0.266" points="438.9,454.7 409.2,484.3 399.2,457.8"/><polygon fill="#9c9cd2" fill-opacity="0.252" points="438.9,454.7 468.6,425.0 478.6,451.6"/><polygon fill="#9c9cd2" fill-opacity="0.252" points="438.9,454.7 468.6,487.5 478.6,451.6"/><polygon fill="#9c9cd2" fill-opacity="0.252" points="498.3,457.9 468.6,425.0 478.6,451.6"/><polygon fill="#9c9cd2" fill-opacity="0.252" points="498.3,457.9 468.6,487.5 478.6,451.6"/><polygon fill="#dcdcf2" fill-opacity="0.252" points="438.9,454.7 468.6,425.0 458.6,460.9"/><polygon fill="#b8b8e0" fill-opacity="0.224" points="438.9,454.7 468.6,487.5 458.6,460.9"/><polygon fill="#9494cc" fill-opacity="0.238" points="498.3,457.9 468.6,425.0 458.6,460.9"/><polygon fill="#8c8cc8" fill-opacity="0.266" points="498.3,457.9 468.6,487.5 458.6,460.9"/><polygon fill="#9c9cd2" fill-opacity="0.252" points="359.4,398.3 389.1,368.6 399.2,395.2"/><polygon fill="#9c9cd2" fill-opacity="0.252" points="359.4,398.3 389.1,431.1 399.2,395.2"/><polygon fill="#9c9cd2" fill-opacity="0.252" points="418.8,401.5 389.1,368.6 399.2,395.2"/><polygon fill="#9c9cd2" fill-opacity="0.252" points="418.8,401.5 389.1,431.1 399.2,395.2"/><polygon fill="#dcdcf2" fill-opacity="0.252" points="359.4,398.3 389.1,368.6 379.1,404.5"/><polygon fill="#b8b8e0" fill-opacity="0.224" points="359.4,398.3 389.1,431.1 379.1,404.5"/><polygon fill="#9494cc" fill-opacity="0.238" points="418.8,401.5 389.1,368.6 379.1,404.5"/><polygon fill="#8c8cc8" fill-opacity="0.266" points="418.8,401.5 389.1,431.1 379.1,404.5"/><polygon fill="#9c9cd2" fill-opacity="0.252" points="418.8,401.5 448.5,371.8 458.6,398.4"/><polygon fill="#9c9cd2" fill-opacity="0.252" points="418.8,401.5 448.5,434.3 458.6,398.4"/><polygon fill="#9c9cd2" fill-opacity="0.252" points="478.2,404.7 448.5,371.8 458.6,398.4"/><polygon fill="#9c9cd2" fill-opacity="0.252" points="478.2,404.7 448.5,434.3 458.6,398.4"/><polygon fill="#dcdcf2" fill-opacity="0.252" points="418.8,401.5 448.5,371.8 438.4,407.7"/><polygon fill="#b8b8e0" fill-opacity="0.224" points="418.8,401.5 448.5,434.3 438.4,407.7"/><polygon fill="#9494cc" fill-opacity="0.238" points="478.2,404.7 448.5,371.8 438.4,407.7"/><polygon fill="#8c8cc8" fill-opacity="0.266" points="478.2,404.7 448.5,434.3 438.4,407.7"/><polygon fill="#9c9cd2" fill-opacity="0.252" points="359.4,460.8 389.1,431.1 399.2,457.8"/><polygon fill="#9c9cd2" fill-opacity="0.252" points="359.4,460.8 389.1,493.6 399.2,457.8"/><polygon fill="#9c9cd2" fill-opacity="0.252" points="418.8,464.0 389.1,431.1 399.2,457.8"/><polygon fill="#9c9cd2" fill-opacity="0.252" points="418.8,464.0 389.1,493.6 399.2,457.8"/><polygon fill="#dcdcf2" fill-opacity="0.252" points="359.4,460.8 389.1,431.1 379.1,467.0"/><polygon fill="#b8b8e0" fill-opacity="0.224" points="359.4,460.8 389.1,493.6 379.1,467.0"/><polygon fill="#9494cc" fill-opacity="0.238" points="418.8,464.0 389.1,431.1 379.1,467.0"/><polygon fill="#8c8cc8" fill-opacity="0.266" points="418.8,464.0 389.1,493.6 379.1,467.0"/><polygon fill="#9c9cd2" fill-opacity="0.252" points="418.8,464.0 448.5,434.3 458.6,460.9"/><polygon fill="#9c9cd2" fill-opacity="0.252" points="418.8,464.0 448.5,496.8 458.6,460.9"/><polygon fill="#9c9cd2" fill-opacity="0.252" points="478.2,467.2 448.5,434.3 458.6,460.9"/><polygon fill="#9c9cd2" fill-opacity="0.252" points="478.2,467.2 448.5,496.8 458.6,460.9"/><polygon fill="#dcdcf2" fill-opacity="0.252" points="418.8,464.0 448.5,434.3 438.4,470.2"/><polygon fill="#b8b8e0" fill-opacity="0.224" points="418.8,464.0 448.5,496.8 438.4,470.2"/><polygon fill="#9494cc" fill-opacity="0.238" points="478.2,467.2 448.5,434.3 438.4,470.2"/><polygon fill="#8c8cc8" fill-opacity="0.266" points="478.2,467.2 448.5,496.8 438.4,470.2"/></g><circle cx="419.2" cy="385.9" r="4.3" fill="url(#gCl)"/><circle cx="419.2" cy="385.9" r="4.3" fill="#a4a4d4" opacity="0.42"/><circle cx="478.6" cy="389.1" r="4.3" fill="url(#gCl)"/><circle cx="478.6" cy="389.1" r="4.3" fill="#a4a4d4" opacity="0.42"/><circle cx="419.2" cy="448.4" r="4.3" fill="url(#gCl)"/><circle cx="419.2" cy="448.4" r="4.3" fill="#a4a4d4" opacity="0.42"/><circle cx="478.6" cy="451.6" r="4.3" fill="url(#gCl)"/><circle cx="478.6" cy="451.6" r="4.3" fill="#a4a4d4" opacity="0.42"/><circle cx="409.2" cy="390.6" r="7.3" fill="url(#gPb)"/><circle cx="409.2" cy="390.6" r="7.3" fill="#a4a4d4" opacity="0.28"/><circle cx="438.9" cy="392.2" r="4.3" fill="url(#gCl)"/><circle cx="438.9" cy="392.2" r="4.3" fill="#a4a4d4" opacity="0.40"/><circle cx="379.5" cy="389.0" r="4.3" fill="url(#gCl)"/><circle cx="379.5" cy="389.0" r="4.3" fill="#a4a4d4" opacity="0.40"/><circle cx="409.2" cy="421.8" r="4.3" fill="url(#gCl)"/><circle cx="409.2" cy="359.3" r="4.3" fill="url(#gCl)"/><circle cx="468.6" cy="393.8" r="7.3" fill="url(#gPb)"/><circle cx="468.6" cy="393.8" r="7.3" fill="#a4a4d4" opacity="0.28"/><circle cx="498.3" cy="395.4" r="4.3" fill="url(#gCl)"/><circle cx="498.3" cy="395.4" r="4.3" fill="#a4a4d4" opacity="0.08"/><circle cx="468.6" cy="425.0" r="4.3" fill="url(#gCl)"/><circle cx="468.6" cy="362.5" r="4.3" fill="url(#gCl)"/><circle cx="409.2" cy="453.1" r="7.3" fill="url(#gPb)"/><circle cx="409.2" cy="453.1" r="7.3" fill="#a4a4d4" opacity="0.28"/><circle cx="438.9" cy="454.7" r="4.3" fill="url(#gCl)"/><circle cx="438.9" cy="454.7" r="4.3" fill="#a4a4d4" opacity="0.40"/><circle cx="379.5" cy="451.5" r="4.3" fill="url(#gCl)"/><circle cx="379.5" cy="451.5" r="4.3" fill="#a4a4d4" opacity="0.40"/><circle cx="409.2" cy="484.3" r="4.3" fill="url(#gCl)"/><circle cx="468.6" cy="456.3" r="7.3" fill="url(#gPb)"/><circle cx="468.6" cy="456.3" r="7.3" fill="#a4a4d4" opacity="0.28"/><circle cx="498.3" cy="457.9" r="4.3" fill="url(#gCl)"/><circle cx="498.3" cy="457.9" r="4.3" fill="#a4a4d4" opacity="0.08"/><circle cx="468.6" cy="487.5" r="4.3" fill="url(#gCl)"/><circle cx="399.2" cy="395.2" r="4.3" fill="url(#gCl)"/><circle cx="399.2" cy="395.2" r="4.3" fill="#a4a4d4" opacity="0.35"/><circle cx="458.6" cy="398.4" r="4.3" fill="url(#gCl)"/><circle cx="458.6" cy="398.4" r="4.3" fill="#a4a4d4" opacity="0.35"/><circle cx="399.2" cy="457.8" r="4.3" fill="url(#gCl)"/><circle cx="399.2" cy="457.8" r="4.3" fill="#a4a4d4" opacity="0.35"/><circle cx="458.6" cy="460.9" r="4.3" fill="url(#gCl)"/><circle cx="458.6" cy="460.9" r="4.3" fill="#a4a4d4" opacity="0.35"/><circle cx="389.1" cy="399.9" r="7.3" fill="url(#gPb)"/><circle cx="418.8" cy="401.5" r="4.3" fill="url(#gCl)"/><circle cx="359.4" cy="398.3" r="4.3" fill="url(#gCl)"/><circle cx="389.1" cy="431.1" r="4.3" fill="url(#gCl)"/><circle cx="389.1" cy="368.6" r="4.3" fill="url(#gCl)"/><circle cx="448.5" cy="403.1" r="7.3" fill="url(#gPb)"/><circle cx="478.2" cy="404.7" r="4.3" fill="url(#gCl)"/><circle cx="448.5" cy="434.3" r="4.3" fill="url(#gCl)"/><circle cx="448.5" cy="371.8" r="4.3" fill="url(#gCl)"/><circle cx="389.1" cy="462.4" r="7.3" fill="url(#gPb)"/><circle cx="418.8" cy="464.0" r="4.3" fill="url(#gCl)"/><circle cx="359.4" cy="460.8" r="4.3" fill="url(#gCl)"/><circle cx="389.1" cy="493.6" r="4.3" fill="url(#gCl)"/><circle cx="448.5" cy="465.6" r="7.3" fill="url(#gPb)"/><circle cx="478.2" cy="467.2" r="4.3" fill="url(#gCl)"/><circle cx="448.5" cy="496.8" r="4.3" fill="url(#gCl)"/><circle cx="379.1" cy="404.5" r="4.3" fill="url(#gCl)"/><circle cx="438.4" cy="407.7" r="4.3" fill="url(#gCl)"/><circle cx="379.1" cy="467.0" r="4.3" fill="url(#gCl)"/><circle cx="438.4" cy="470.2" r="4.3" fill="url(#gCl)"/>
<g><polygon fill="#9c9cd2" fill-opacity="0.252" points="373.3,662.8 403.3,633.4 413.2,659.5"/><polygon fill="#9c9cd2" fill-opacity="0.252" points="373.3,662.8 403.3,695.7 413.2,659.5"/><polygon fill="#9c9cd2" fill-opacity="0.252" points="433.2,666.4 403.3,633.4 413.2,659.5"/><polygon fill="#9c9cd2" fill-opacity="0.252" points="433.2,666.4 403.3,695.7 413.2,659.5"/><polygon fill="#dcdcf2" fill-opacity="0.252" points="373.3,662.8 403.3,633.4 393.3,669.7"/><polygon fill="#b8b8e0" fill-opacity="0.224" points="373.3,662.8 403.3,695.7 393.3,669.7"/><polygon fill="#9494cc" fill-opacity="0.238" points="433.2,666.4 403.3,633.4 393.3,669.7"/><polygon fill="#8c8cc8" fill-opacity="0.266" points="433.2,666.4 403.3,695.7 393.3,669.7"/><polygon fill="#9c9cd2" fill-opacity="0.252" points="433.2,666.4 463.2,637.0 473.1,663.1"/><polygon fill="#9c9cd2" fill-opacity="0.252" points="433.2,666.4 463.2,699.3 473.1,663.1"/><polygon fill="#9c9cd2" fill-opacity="0.252" points="493.1,670.0 463.2,637.0 473.1,663.1"/><polygon fill="#9c9cd2" fill-opacity="0.252" points="493.1,670.0 463.2,699.3 473.1,663.1"/><polygon fill="#dcdcf2" fill-opacity="0.252" points="433.2,666.4 463.2,637.0 453.2,673.3"/><polygon fill="#b8b8e0" fill-opacity="0.224" points="433.2,666.4 463.2,699.3 453.2,673.3"/><polygon fill="#9494cc" fill-opacity="0.238" points="493.1,670.0 463.2,637.0 453.2,673.3"/><polygon fill="#8c8cc8" fill-opacity="0.266" points="493.1,670.0 463.2,699.3 453.2,673.3"/><polygon fill="#9c9cd2" fill-opacity="0.252" points="373.3,725.1 403.3,695.7 413.2,721.8"/><polygon fill="#9c9cd2" fill-opacity="0.252" points="373.3,725.1 403.3,758.0 413.2,721.8"/><polygon fill="#9c9cd2" fill-opacity="0.252" points="433.2,728.7 403.3,695.7 413.2,721.8"/><polygon fill="#9c9cd2" fill-opacity="0.252" points="433.2,728.7 403.3,758.0 413.2,721.8"/><polygon fill="#dcdcf2" fill-opacity="0.252" points="373.3,725.1 403.3,695.7 393.3,732.0"/><polygon fill="#b8b8e0" fill-opacity="0.224" points="373.3,725.1 403.3,758.0 393.3,732.0"/><polygon fill="#9494cc" fill-opacity="0.238" points="433.2,728.7 403.3,695.7 393.3,732.0"/><polygon fill="#8c8cc8" fill-opacity="0.266" points="433.2,728.7 403.3,758.0 393.3,732.0"/><polygon fill="#9c9cd2" fill-opacity="0.252" points="433.2,728.7 463.2,699.3 473.1,725.4"/><polygon fill="#9c9cd2" fill-opacity="0.252" points="433.2,728.7 463.2,761.6 473.1,725.4"/><polygon fill="#9c9cd2" fill-opacity="0.252" points="493.1,732.3 463.2,699.3 473.1,725.4"/><polygon fill="#9c9cd2" fill-opacity="0.252" points="493.1,732.3 463.2,761.6 473.1,725.4"/><polygon fill="#dcdcf2" fill-opacity="0.252" points="433.2,728.7 463.2,699.3 453.2,735.6"/><polygon fill="#b8b8e0" fill-opacity="0.224" points="433.2,728.7 463.2,761.6 453.2,735.6"/><polygon fill="#9494cc" fill-opacity="0.238" points="493.1,732.3 463.2,699.3 453.2,735.6"/><polygon fill="#8c8cc8" fill-opacity="0.266" points="493.1,732.3 463.2,761.6 453.2,735.6"/><polygon fill="#9c9cd2" fill-opacity="0.252" points="353.4,673.0 383.4,643.6 393.3,669.7"/><polygon fill="#9c9cd2" fill-opacity="0.252" points="353.4,673.0 383.4,705.9 393.3,669.7"/><polygon fill="#9c9cd2" fill-opacity="0.252" points="413.3,676.6 383.4,643.6 393.3,669.7"/><polygon fill="#9c9cd2" fill-opacity="0.252" points="413.3,676.6 383.4,705.9 393.3,669.7"/><polygon fill="#dcdcf2" fill-opacity="0.252" points="353.4,673.0 383.4,643.6 373.4,679.9"/><polygon fill="#b8b8e0" fill-opacity="0.224" points="353.4,673.0 383.4,705.9 373.4,679.9"/><polygon fill="#9494cc" fill-opacity="0.238" points="413.3,676.6 383.4,643.6 373.4,679.9"/><polygon fill="#8c8cc8" fill-opacity="0.266" points="413.3,676.6 383.4,705.9 373.4,679.9"/><polygon fill="#9c9cd2" fill-opacity="0.252" points="413.3,676.6 443.3,647.2 453.2,673.3"/><polygon fill="#9c9cd2" fill-opacity="0.252" points="413.3,676.6 443.3,709.5 453.2,673.3"/><polygon fill="#9c9cd2" fill-opacity="0.252" points="473.2,680.2 443.3,647.2 453.2,673.3"/><polygon fill="#9c9cd2" fill-opacity="0.252" points="473.2,680.2 443.3,709.5 453.2,673.3"/><polygon fill="#dcdcf2" fill-opacity="0.252" points="413.3,676.6 443.3,647.2 433.3,683.5"/><polygon fill="#b8b8e0" fill-opacity="0.224" points="413.3,676.6 443.3,709.5 433.3,683.5"/><polygon fill="#9494cc" fill-opacity="0.238" points="473.2,680.2 443.3,647.2 433.3,683.5"/><polygon fill="#8c8cc8" fill-opacity="0.266" points="473.2,680.2 443.3,709.5 433.3,683.5"/><polygon fill="#9c9cd2" fill-opacity="0.252" points="353.4,735.3 383.4,705.9 393.3,732.0"/><polygon fill="#9c9cd2" fill-opacity="0.252" points="353.4,735.3 383.4,768.2 393.3,732.0"/><polygon fill="#9c9cd2" fill-opacity="0.252" points="413.3,738.9 383.4,705.9 393.3,732.0"/><polygon fill="#9c9cd2" fill-opacity="0.252" points="413.3,738.9 383.4,768.2 393.3,732.0"/><polygon fill="#dcdcf2" fill-opacity="0.252" points="353.4,735.3 383.4,705.9 373.4,742.2"/><polygon fill="#b8b8e0" fill-opacity="0.224" points="353.4,735.3 383.4,768.2 373.4,742.2"/><polygon fill="#9494cc" fill-opacity="0.238" points="413.3,738.9 383.4,705.9 373.4,742.2"/><polygon fill="#8c8cc8" fill-opacity="0.266" points="413.3,738.9 383.4,768.2 373.4,742.2"/><polygon fill="#9c9cd2" fill-opacity="0.252" points="413.3,738.9 443.3,709.5 453.2,735.6"/><polygon fill="#9c9cd2" fill-opacity="0.252" points="413.3,738.9 443.3,771.8 453.2,735.6"/><polygon fill="#9c9cd2" fill-opacity="0.252" points="473.2,742.5 443.3,709.5 453.2,735.6"/><polygon fill="#9c9cd2" fill-opacity="0.252" points="473.2,742.5 443.3,771.8 453.2,735.6"/><polygon fill="#dcdcf2" fill-opacity="0.252" points="413.3,738.9 443.3,709.5 433.3,745.8"/><polygon fill="#b8b8e0" fill-opacity="0.224" points="413.3,738.9 443.3,771.8 433.3,745.8"/><polygon fill="#9494cc" fill-opacity="0.238" points="473.2,742.5 443.3,709.5 433.3,745.8"/><polygon fill="#8c8cc8" fill-opacity="0.266" points="473.2,742.5 443.3,771.8 433.3,745.8"/></g><circle cx="413.2" cy="659.5" r="4.3" fill="url(#gCl)"/><circle cx="413.2" cy="659.5" r="4.3" fill="#a4a4d4" opacity="0.42"/><circle cx="473.1" cy="663.1" r="4.3" fill="url(#gCl)"/><circle cx="473.1" cy="663.1" r="4.3" fill="#a4a4d4" opacity="0.42"/><circle cx="413.2" cy="721.8" r="4.3" fill="url(#gCl)"/><circle cx="413.2" cy="721.8" r="4.3" fill="#a4a4d4" opacity="0.42"/><circle cx="473.1" cy="725.4" r="4.3" fill="url(#gCl)"/><circle cx="473.1" cy="725.4" r="4.3" fill="#a4a4d4" opacity="0.42"/><circle cx="403.3" cy="664.6" r="8.6" fill="url(#gBa)"/><circle cx="403.3" cy="664.6" r="8.6" fill="#a4a4d4" opacity="0.12"/><circle cx="433.2" cy="666.4" r="4.3" fill="url(#gCl)"/><circle cx="433.2" cy="666.4" r="4.3" fill="#a4a4d4" opacity="0.40"/><circle cx="373.3" cy="662.8" r="4.3" fill="url(#gCl)"/><circle cx="373.3" cy="662.8" r="4.3" fill="#a4a4d4" opacity="0.40"/><circle cx="403.3" cy="695.7" r="4.3" fill="url(#gCl)"/><circle cx="403.3" cy="633.4" r="4.3" fill="url(#gCl)"/><circle cx="463.2" cy="668.2" r="7.3" fill="url(#gPb)"/><circle cx="463.2" cy="668.2" r="7.3" fill="#a4a4d4" opacity="0.28"/><circle cx="493.1" cy="670.0" r="4.3" fill="url(#gCl)"/><circle cx="493.1" cy="670.0" r="4.3" fill="#a4a4d4" opacity="0.08"/><circle cx="463.2" cy="699.3" r="4.3" fill="url(#gCl)"/><circle cx="463.2" cy="637.0" r="4.3" fill="url(#gCl)"/><circle cx="403.3" cy="726.9" r="7.3" fill="url(#gPb)"/><circle cx="403.3" cy="726.9" r="7.3" fill="#a4a4d4" opacity="0.28"/><circle cx="433.2" cy="728.7" r="4.3" fill="url(#gCl)"/><circle cx="433.2" cy="728.7" r="4.3" fill="#a4a4d4" opacity="0.40"/><circle cx="373.3" cy="725.1" r="4.3" fill="url(#gCl)"/><circle cx="373.3" cy="725.1" r="4.3" fill="#a4a4d4" opacity="0.40"/><circle cx="403.3" cy="758.0" r="4.3" fill="url(#gCl)"/><circle cx="463.2" cy="730.5" r="7.3" fill="url(#gPb)"/><circle cx="463.2" cy="730.5" r="7.3" fill="#a4a4d4" opacity="0.28"/><circle cx="493.1" cy="732.3" r="4.3" fill="url(#gCl)"/><circle cx="493.1" cy="732.3" r="4.3" fill="#a4a4d4" opacity="0.08"/><circle cx="463.2" cy="761.6" r="4.3" fill="url(#gCl)"/><circle cx="393.3" cy="669.7" r="4.3" fill="url(#gCl)"/><circle cx="393.3" cy="669.7" r="4.3" fill="#a4a4d4" opacity="0.35"/><circle cx="453.2" cy="673.3" r="4.3" fill="url(#gCl)"/><circle cx="453.2" cy="673.3" r="4.3" fill="#a4a4d4" opacity="0.35"/><circle cx="393.3" cy="732.0" r="4.3" fill="url(#gCl)"/><circle cx="393.3" cy="732.0" r="4.3" fill="#a4a4d4" opacity="0.35"/><circle cx="453.2" cy="735.6" r="4.3" fill="url(#gCl)"/><circle cx="453.2" cy="735.6" r="4.3" fill="#a4a4d4" opacity="0.35"/><circle cx="383.4" cy="674.8" r="7.3" fill="url(#gPb)"/><circle cx="413.3" cy="676.6" r="4.3" fill="url(#gCl)"/><circle cx="353.4" cy="673.0" r="4.3" fill="url(#gCl)"/><circle cx="383.4" cy="705.9" r="4.3" fill="url(#gCl)"/><circle cx="383.4" cy="643.6" r="4.3" fill="url(#gCl)"/><circle cx="443.3" cy="678.4" r="7.3" fill="url(#gPb)"/><circle cx="473.2" cy="680.2" r="4.3" fill="url(#gCl)"/><circle cx="443.3" cy="709.5" r="4.3" fill="url(#gCl)"/><circle cx="443.3" cy="647.2" r="4.3" fill="url(#gCl)"/><circle cx="383.4" cy="737.1" r="7.3" fill="url(#gPb)"/><circle cx="413.3" cy="738.9" r="4.3" fill="url(#gCl)"/><circle cx="353.4" cy="735.3" r="4.3" fill="url(#gCl)"/><circle cx="383.4" cy="768.2" r="4.3" fill="url(#gCl)"/><circle cx="443.3" cy="740.7" r="7.3" fill="url(#gPb)"/><circle cx="473.2" cy="742.5" r="4.3" fill="url(#gCl)"/><circle cx="443.3" cy="771.8" r="4.3" fill="url(#gCl)"/><circle cx="373.4" cy="679.9" r="4.3" fill="url(#gCl)"/><circle cx="433.3" cy="683.5" r="4.3" fill="url(#gCl)"/><circle cx="373.4" cy="742.2" r="4.3" fill="url(#gCl)"/><circle cx="433.3" cy="745.8" r="4.3" fill="url(#gCl)"/>
<circle cx="358.0" cy="89.4" r="7.6" fill="#556" opacity="0.4" filter="url(#blur2)"/><circle cx="361.0" cy="89.4" r="7.6" fill="url(#gPb)"/>
<circle cx="443.4" cy="78.3" r="4.9" fill="#556" opacity="0.4" filter="url(#blur2)"/><circle cx="445.4" cy="79.3" r="4.9" fill="url(#gCl)"/>
<circle cx="498.7" cy="85.5" r="4.9" fill="#556" opacity="0.4" filter="url(#blur2)"/><circle cx="496.2" cy="85.5" r="4.9" fill="url(#gCl)"/>
<circle cx="346.9" cy="144.7" r="4.9" fill="#556" opacity="0.4" filter="url(#blur2)"/><circle cx="349.4" cy="145.7" r="4.9" fill="url(#gCl)"/>
<circle cx="514.8" cy="155.4" r="4.9" fill="#556" opacity="0.4" filter="url(#blur2)"/><circle cx="512.3" cy="155.4" r="4.9" fill="url(#gCl)"/>
<circle cx="344.6" cy="174.1" r="4.9" fill="#556" opacity="0.4" filter="url(#blur2)"/><circle cx="347.1" cy="175.1" r="4.9" fill="url(#gCl)"/>
<circle cx="360.1" cy="184.8" r="4.9" fill="#fff" stroke="#1a1a1a" stroke-width="2.3"/>
<circle cx="470.1" cy="211.6" r="4.9" fill="#fff" stroke="#1a1a1a" stroke-width="2.3"/>
<circle cx="503.6" cy="207.8" r="7.6" fill="#556" opacity="0.4" filter="url(#blur2)"/><circle cx="501.1" cy="206.8" r="7.6" fill="url(#gPb)"/>
<circle cx="357.0" cy="357.7" r="7.6" fill="#556" opacity="0.4" filter="url(#blur2)"/><circle cx="360.0" cy="357.7" r="7.6" fill="url(#gPb)"/>
<circle cx="435.1" cy="355.3" r="4.9" fill="#556" opacity="0.4" filter="url(#blur2)"/><circle cx="437.1" cy="356.3" r="4.9" fill="url(#gCl)"/>
<circle cx="499.0" cy="363.5" r="4.9" fill="#556" opacity="0.4" filter="url(#blur2)"/><circle cx="496.5" cy="363.5" r="4.9" fill="url(#gCl)"/>
<circle cx="334.0" cy="418.3" r="4.9" fill="#556" opacity="0.4" filter="url(#blur2)"/><circle cx="336.5" cy="419.3" r="4.9" fill="url(#gCl)"/>
<circle cx="341.7" cy="447.4" r="4.9" fill="#556" opacity="0.4" filter="url(#blur2)"/><circle cx="344.2" cy="448.4" r="4.9" fill="url(#gCl)"/>
<circle cx="514.8" cy="433.9" r="4.9" fill="#556" opacity="0.4" filter="url(#blur2)"/><circle cx="512.3" cy="433.9" r="4.9" fill="url(#gCl)"/>
<circle cx="504.4" cy="488.9" r="7.6" fill="#556" opacity="0.4" filter="url(#blur2)"/><circle cx="501.9" cy="487.9" r="7.6" fill="url(#gPb)"/>
<circle cx="467.4" cy="362.6" r="4.9" fill="#fff" stroke="#1a1a1a" stroke-width="2.3"/>
<circle cx="358.8" cy="460.0" r="4.9" fill="#fff" stroke="#1a1a1a" stroke-width="2.3"/>
<circle cx="351.3" cy="632.4" r="7.6" fill="#556" opacity="0.4" filter="url(#blur2)"/><circle cx="354.3" cy="632.4" r="7.6" fill="url(#gPb)"/>
<circle cx="426.7" cy="625.3" r="4.9" fill="#556" opacity="0.4" filter="url(#blur2)"/><circle cx="428.7" cy="626.3" r="4.9" fill="url(#gCl)"/>
<circle cx="475.1" cy="615.7" r="9.3" fill="#556" opacity="0.4" filter="url(#blur2)"/><circle cx="473.1" cy="614.7" r="9.3" fill="url(#gBa)"/>
<circle cx="503.4" cy="646.2" r="4.9" fill="#556" opacity="0.4" filter="url(#blur2)"/><circle cx="500.9" cy="646.2" r="4.9" fill="url(#gCl)"/>
<circle cx="337.3" cy="690.8" r="4.9" fill="#556" opacity="0.4" filter="url(#blur2)"/><circle cx="339.8" cy="691.8" r="4.9" fill="url(#gCl)"/>
<circle cx="326.4" cy="714.5" r="4.9" fill="#556" opacity="0.4" filter="url(#blur2)"/><circle cx="328.9" cy="715.5" r="4.9" fill="url(#gCl)"/>
<circle cx="331.7" cy="750.9" r="9.3" fill="#556" opacity="0.4" filter="url(#blur2)"/><circle cx="333.7" cy="749.9" r="9.3" fill="url(#gBa)"/>
<circle cx="502.2" cy="697.8" r="4.9" fill="#556" opacity="0.4" filter="url(#blur2)"/><circle cx="499.7" cy="697.8" r="4.9" fill="url(#gCl)"/>
<circle cx="502.7" cy="763.5" r="7.6" fill="#556" opacity="0.4" filter="url(#blur2)"/><circle cx="500.2" cy="762.5" r="7.6" fill="url(#gPb)"/>
<circle cx="393.1" cy="670.0" r="4.9" fill="#fff" stroke="#1a1a1a" stroke-width="2.3"/>
<circle cx="462.2" cy="637.2" r="4.9" fill="#fff" stroke="#1a1a1a" stroke-width="2.3"/>
<circle cx="352.4" cy="735.4" r="4.9" fill="#fff" stroke="#1a1a1a" stroke-width="2.3"/>
<circle cx="926.4" cy="671.4" r="8.0" fill="url(#gPb)"/>
<text x="945.0" y="677.0" font-family='"Liberation Sans", sans-serif' font-size="15.5" font-weight="bold" fill="#1e1e1e" letter-spacing="0.2">Pb</text>
<circle cx="926.4" cy="696.1" r="8.0" fill="url(#gCl)"/>
<text x="945.0" y="701.8" font-family='"Liberation Sans", sans-serif' font-size="15.5" font-weight="bold" fill="#1e1e1e" letter-spacing="0.2">Cl</text>
<circle cx="926.4" cy="720.9" r="8.0" fill="url(#gMg)"/>
<text x="945.0" y="726.5" font-family='"Liberation Sans", sans-serif' font-size="15.5" font-weight="bold" fill="#1e1e1e" letter-spacing="0.2">Mg</text>
<circle cx="926.4" cy="745.6" r="8.0" fill="url(#gCa)"/>
<text x="945.0" y="751.2" font-family='"Liberation Sans", sans-serif' font-size="15.5" font-weight="bold" fill="#1e1e1e" letter-spacing="0.2">Ca or Sr</text>
<circle cx="926.4" cy="770.4" r="8.0" fill="url(#gBa)"/>
<text x="945.0" y="776.0" font-family='"Liberation Sans", sans-serif' font-size="15.5" font-weight="bold" fill="#1e1e1e" letter-spacing="0.2">Ba</text>
<circle cx="926.4" cy="795.1" r="6.8" fill="#fff" stroke="#111" stroke-width="2.4"/>
<text x="945.0" y="800.8" font-family='"Liberation Sans", sans-serif' font-size="15.5" font-weight="bold" fill="#1e1e1e" letter-spacing="0.2">Cl vacancy</text>
</svg></body></html>
